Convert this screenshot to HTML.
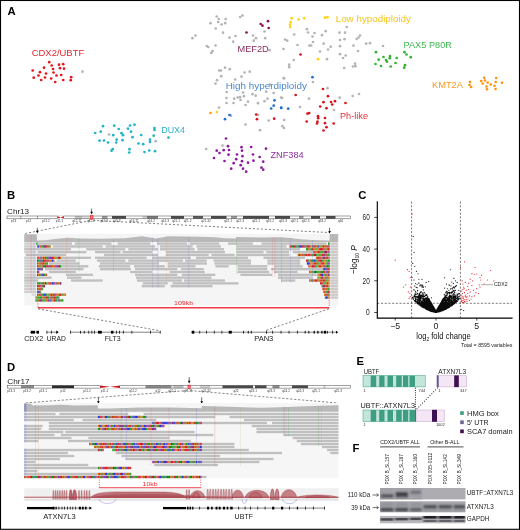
<!DOCTYPE html>
<html><head><meta charset="utf-8"><title>Figure</title>
<style>
html,body{margin:0;padding:0;background:#fff;}
svg{display:block;font-family:'Liberation Sans', sans-serif;}
</style></head><body>
<svg width="520" height="530" viewBox="0 0 520 530">
<rect x="0" y="0" width="520" height="530" fill="#fff"/>
<g opacity="0.999">
<text x="7.50" y="15.25" font-size="11.3" fill="#000" text-anchor="start" font-weight="bold" >A</text>
<g fill="#e8141c"><circle cx="49.2" cy="62.2" r="1.35"/><circle cx="51.7" cy="65.5" r="1.35"/><circle cx="59.0" cy="64.7" r="1.35"/><circle cx="63.2" cy="64.2" r="1.35"/><circle cx="44.0" cy="67.7" r="1.35"/><circle cx="53.0" cy="69.0" r="1.35"/><circle cx="60.0" cy="68.2" r="1.35"/><circle cx="64.0" cy="68.7" r="1.35"/><circle cx="32.7" cy="70.5" r="1.35"/><circle cx="40.0" cy="72.2" r="1.35"/><circle cx="53.5" cy="72.5" r="1.35"/><circle cx="46.0" cy="73.5" r="1.35"/><circle cx="38.5" cy="75.5" r="1.35"/><circle cx="56.5" cy="75.5" r="1.35"/><circle cx="61.2" cy="75.0" r="1.35"/><circle cx="33.7" cy="77.7" r="1.35"/><circle cx="45.0" cy="77.5" r="1.35"/><circle cx="51.2" cy="78.5" r="1.35"/><circle cx="71.2" cy="77.2" r="1.35"/><circle cx="41.2" cy="80.0" r="1.35"/><circle cx="63.2" cy="80.0" r="1.35"/><circle cx="70.7" cy="80.2" r="1.35"/><circle cx="55.2" cy="82.0" r="1.35"/></g>
<g fill="#1db3c8"><circle cx="103.0" cy="126.2" r="1.35"/><circle cx="114.2" cy="125.7" r="1.35"/><circle cx="130.0" cy="125.5" r="1.35"/><circle cx="134.5" cy="124.7" r="1.35"/><circle cx="118.7" cy="129.0" r="1.35"/><circle cx="128.0" cy="128.7" r="1.35"/><circle cx="154.5" cy="128.0" r="1.35"/><circle cx="154.5" cy="130.0" r="1.35"/><circle cx="95.2" cy="133.0" r="1.35"/><circle cx="100.7" cy="131.7" r="1.35"/><circle cx="131.0" cy="131.7" r="1.35"/><circle cx="121.5" cy="133.2" r="1.35"/><circle cx="113.2" cy="135.2" r="1.35"/><circle cx="123.0" cy="135.2" r="1.35"/><circle cx="141.2" cy="135.0" r="1.35"/><circle cx="153.7" cy="135.7" r="1.35"/><circle cx="132.5" cy="137.2" r="1.35"/><circle cx="168.5" cy="137.5" r="1.35"/><circle cx="99.5" cy="140.7" r="1.35"/><circle cx="104.0" cy="140.5" r="1.35"/><circle cx="116.7" cy="139.7" r="1.35"/><circle cx="122.5" cy="140.2" r="1.35"/><circle cx="150.0" cy="139.7" r="1.35"/><circle cx="108.0" cy="142.5" r="1.35"/><circle cx="116.2" cy="142.5" r="1.35"/><circle cx="150.0" cy="142.0" r="1.35"/><circle cx="138.5" cy="143.5" r="1.35"/><circle cx="143.2" cy="144.2" r="1.35"/><circle cx="112.7" cy="149.2" r="1.35"/><circle cx="111.5" cy="150.7" r="1.35"/><circle cx="129.5" cy="149.2" r="1.35"/><circle cx="129.2" cy="152.5" r="1.35"/><circle cx="144.5" cy="152.0" r="1.35"/><circle cx="149.2" cy="150.5" r="1.35"/><circle cx="155.0" cy="151.2" r="1.35"/></g>
<g fill="#b4b4b4"><circle cx="82.5" cy="71.7" r="1.35"/><circle cx="109.0" cy="134.5" r="1.35"/><circle cx="155.7" cy="141.2" r="1.35"/><circle cx="216.7" cy="16.5" r="1.35"/><circle cx="218.7" cy="19.0" r="1.35"/><circle cx="225.7" cy="19.0" r="1.35"/><circle cx="240.2" cy="17.0" r="1.35"/><circle cx="242.5" cy="15.5" r="1.35"/><circle cx="210.5" cy="23.2" r="1.35"/><circle cx="218.2" cy="22.0" r="1.35"/><circle cx="221.5" cy="24.5" r="1.35"/><circle cx="225.2" cy="23.2" r="1.35"/><circle cx="215.7" cy="28.5" r="1.35"/><circle cx="223.0" cy="32.7" r="1.35"/><circle cx="195.5" cy="35.5" r="1.35"/><circle cx="192.5" cy="38.2" r="1.35"/><circle cx="229.5" cy="37.7" r="1.35"/><circle cx="235.5" cy="36.0" r="1.35"/><circle cx="253.0" cy="35.5" r="1.35"/><circle cx="264.5" cy="31.5" r="1.35"/><circle cx="256.0" cy="38.2" r="1.35"/><circle cx="265.2" cy="38.2" r="1.35"/><circle cx="253.7" cy="40.7" r="1.35"/><circle cx="233.2" cy="41.7" r="1.35"/><circle cx="206.7" cy="46.0" r="1.35"/><circle cx="208.2" cy="47.0" r="1.35"/><circle cx="215.5" cy="45.5" r="1.35"/><circle cx="212.5" cy="51.2" r="1.35"/><circle cx="211.2" cy="53.0" r="1.35"/><circle cx="269.5" cy="50.2" r="1.35"/><circle cx="283.5" cy="49.0" r="1.35"/><circle cx="285.0" cy="39.5" r="1.35"/><circle cx="287.2" cy="40.7" r="1.35"/><circle cx="294.2" cy="34.5" r="1.35"/><circle cx="307.0" cy="29.2" r="1.35"/><circle cx="308.0" cy="32.5" r="1.35"/><circle cx="297.5" cy="45.0" r="1.35"/><circle cx="293.7" cy="60.0" r="1.35"/><circle cx="289.2" cy="64.7" r="1.35"/><circle cx="289.2" cy="67.2" r="1.35"/><circle cx="225.0" cy="67.7" r="1.35"/><circle cx="219.2" cy="70.5" r="1.35"/><circle cx="221.0" cy="70.5" r="1.35"/><circle cx="229.7" cy="69.2" r="1.35"/><circle cx="244.5" cy="72.5" r="1.35"/><circle cx="249.7" cy="71.7" r="1.35"/><circle cx="221.2" cy="76.2" r="1.35"/><circle cx="241.5" cy="76.7" r="1.35"/><circle cx="217.0" cy="80.2" r="1.35"/><circle cx="215.5" cy="83.5" r="1.35"/><circle cx="235.2" cy="79.5" r="1.35"/><circle cx="284.0" cy="78.2" r="1.35"/><circle cx="270.0" cy="84.5" r="1.35"/><circle cx="226.7" cy="92.0" r="1.35"/><circle cx="243.0" cy="92.5" r="1.35"/><circle cx="252.5" cy="94.2" r="1.35"/><circle cx="266.2" cy="91.7" r="1.35"/><circle cx="273.7" cy="93.0" r="1.35"/><circle cx="244.0" cy="96.2" r="1.35"/><circle cx="255.7" cy="95.7" r="1.35"/><circle cx="226.5" cy="98.0" r="1.35"/><circle cx="237.7" cy="97.5" r="1.35"/><circle cx="281.2" cy="97.5" r="1.35"/><circle cx="267.5" cy="98.7" r="1.35"/><circle cx="314.5" cy="33.0" r="1.35"/><circle cx="312.5" cy="36.5" r="1.35"/><circle cx="322.0" cy="35.2" r="1.35"/><circle cx="325.7" cy="31.2" r="1.35"/><circle cx="339.5" cy="32.7" r="1.35"/><circle cx="345.0" cy="32.7" r="1.35"/><circle cx="346.7" cy="27.0" r="1.35"/><circle cx="340.0" cy="40.0" r="1.35"/><circle cx="344.5" cy="39.2" r="1.35"/><circle cx="360.0" cy="35.5" r="1.35"/><circle cx="358.5" cy="37.5" r="1.35"/><circle cx="356.7" cy="39.0" r="1.35"/><circle cx="313.0" cy="42.0" r="1.35"/><circle cx="323.7" cy="43.7" r="1.35"/><circle cx="309.5" cy="45.7" r="1.35"/><circle cx="311.2" cy="45.5" r="1.35"/><circle cx="330.7" cy="46.7" r="1.35"/><circle cx="328.0" cy="49.5" r="1.35"/><circle cx="320.0" cy="51.5" r="1.35"/><circle cx="340.0" cy="46.2" r="1.35"/><circle cx="353.5" cy="45.7" r="1.35"/><circle cx="366.2" cy="43.7" r="1.35"/><circle cx="370.0" cy="43.2" r="1.35"/><circle cx="383.0" cy="46.0" r="1.35"/><circle cx="358.0" cy="51.0" r="1.35"/><circle cx="340.0" cy="54.2" r="1.35"/><circle cx="345.7" cy="55.5" r="1.35"/><circle cx="343.0" cy="58.0" r="1.35"/><circle cx="327.0" cy="59.2" r="1.35"/><circle cx="355.0" cy="63.7" r="1.35"/><circle cx="355.5" cy="66.2" r="1.35"/><circle cx="353.0" cy="66.5" r="1.35"/><circle cx="344.2" cy="68.0" r="1.35"/><circle cx="313.0" cy="82.0" r="1.35"/><circle cx="327.5" cy="88.2" r="1.35"/><circle cx="359.0" cy="94.0" r="1.35"/><circle cx="352.7" cy="96.0" r="1.35"/><circle cx="339.7" cy="97.7" r="1.35"/><circle cx="309.0" cy="98.7" r="1.35"/><circle cx="234.2" cy="98.7" r="1.35"/><circle cx="240.0" cy="97.2" r="1.35"/><circle cx="240.5" cy="100.0" r="1.35"/><circle cx="248.0" cy="101.7" r="1.35"/><circle cx="264.5" cy="101.2" r="1.35"/><circle cx="226.5" cy="103.0" r="1.35"/><circle cx="233.5" cy="103.0" r="1.35"/><circle cx="245.5" cy="105.0" r="1.35"/><circle cx="258.0" cy="103.2" r="1.35"/><circle cx="219.0" cy="107.5" r="1.35"/><circle cx="300.0" cy="107.0" r="1.35"/><circle cx="231.0" cy="115.7" r="1.35"/><circle cx="258.0" cy="115.0" r="1.35"/><circle cx="245.5" cy="124.5" r="1.35"/><circle cx="268.7" cy="120.5" r="1.35"/><circle cx="284.2" cy="120.0" r="1.35"/><circle cx="282.5" cy="126.2" r="1.35"/><circle cx="284.0" cy="128.0" r="1.35"/><circle cx="260.0" cy="130.2" r="1.35"/><circle cx="206.2" cy="149.0" r="1.35"/><circle cx="222.5" cy="145.5" r="1.35"/><circle cx="283.7" cy="78.2" r="1.35"/><circle cx="282.0" cy="98.0" r="1.35"/><circle cx="334.0" cy="110.0" r="1.35"/></g>
<g fill="#8a1458"><circle cx="268.0" cy="21.2" r="1.35"/><circle cx="260.7" cy="24.0" r="1.35"/><circle cx="262.5" cy="25.7" r="1.35"/><circle cx="268.7" cy="28.0" r="1.35"/><circle cx="246.5" cy="32.5" r="1.35"/></g>
<g fill="#ffd20a"><circle cx="291.7" cy="18.2" r="1.35"/><circle cx="298.7" cy="19.5" r="1.35"/><circle cx="304.2" cy="18.2" r="1.35"/><circle cx="290.7" cy="22.0" r="1.35"/><circle cx="290.0" cy="24.5" r="1.35"/><circle cx="290.2" cy="27.0" r="1.35"/><circle cx="325.0" cy="17.7" r="1.35"/><circle cx="327.5" cy="17.2" r="1.35"/><circle cx="318.0" cy="59.2" r="1.35"/><circle cx="217.0" cy="112.0" r="1.35"/></g>
<g fill="#ff9a0a"><circle cx="210.5" cy="113.0" r="1.35"/></g>
<g fill="#2fb32f"><circle cx="376.0" cy="52.2" r="1.35"/><circle cx="404.5" cy="52.2" r="1.35"/><circle cx="406.5" cy="54.5" r="1.35"/><circle cx="383.5" cy="57.0" r="1.35"/><circle cx="390.0" cy="56.0" r="1.35"/><circle cx="389.7" cy="58.2" r="1.35"/><circle cx="396.7" cy="58.0" r="1.35"/><circle cx="410.7" cy="57.2" r="1.35"/><circle cx="378.7" cy="59.7" r="1.35"/><circle cx="386.0" cy="60.0" r="1.35"/><circle cx="387.0" cy="61.7" r="1.35"/><circle cx="375.5" cy="64.0" r="1.35"/><circle cx="395.5" cy="63.0" r="1.35"/><circle cx="381.0" cy="66.0" r="1.35"/><circle cx="390.7" cy="66.5" r="1.35"/><circle cx="405.0" cy="65.2" r="1.35"/><circle cx="404.2" cy="67.7" r="1.35"/></g>
<g fill="#ff920a"><circle cx="470.0" cy="82.0" r="1.3"/><circle cx="469.5" cy="85.0" r="1.3"/><circle cx="471.2" cy="87.0" r="1.3"/><circle cx="484.2" cy="77.7" r="1.3"/><circle cx="481.2" cy="81.0" r="1.3"/><circle cx="485.0" cy="80.5" r="1.3"/><circle cx="482.7" cy="83.5" r="1.3"/><circle cx="487.7" cy="82.5" r="1.3"/><circle cx="486.5" cy="86.5" r="1.3"/><circle cx="487.0" cy="89.2" r="1.3"/><circle cx="490.7" cy="84.5" r="1.3"/><circle cx="496.2" cy="78.0" r="1.3"/><circle cx="495.7" cy="82.0" r="1.3"/><circle cx="494.5" cy="85.7" r="1.3"/><circle cx="495.5" cy="89.0" r="1.3"/><circle cx="502.0" cy="82.7" r="1.3"/></g>
<g fill="#1c6fd2"><circle cx="274.5" cy="100.3" r="1.35"/><circle cx="273.7" cy="105.7" r="1.35"/><circle cx="271.2" cy="108.5" r="1.35"/><circle cx="281.2" cy="107.7" r="1.35"/><circle cx="288.2" cy="108.7" r="1.35"/><circle cx="229.5" cy="115.0" r="1.35"/><circle cx="225.0" cy="119.2" r="1.35"/><circle cx="312.5" cy="77.2" r="1.35"/><circle cx="281.2" cy="108.0" r="1.35"/></g>
<g fill="#d8141c"><circle cx="300.5" cy="54.5" r="1.35"/><circle cx="295.7" cy="95.0" r="1.35"/><circle cx="256.2" cy="114.5" r="1.35"/><circle cx="257.0" cy="119.2" r="1.35"/><circle cx="274.2" cy="118.7" r="1.35"/><circle cx="307.5" cy="113.7" r="1.35"/><circle cx="309.2" cy="113.0" r="1.35"/><circle cx="306.7" cy="121.5" r="1.35"/><circle cx="323.0" cy="89.0" r="1.35"/><circle cx="328.0" cy="96.2" r="1.35"/><circle cx="323.5" cy="102.2" r="1.35"/><circle cx="331.0" cy="102.0" r="1.35"/><circle cx="335.0" cy="101.2" r="1.35"/><circle cx="332.2" cy="104.5" r="1.35"/><circle cx="345.5" cy="103.0" r="1.35"/><circle cx="320.2" cy="106.5" r="1.35"/><circle cx="326.5" cy="108.2" r="1.35"/><circle cx="318.0" cy="116.2" r="1.35"/><circle cx="318.2" cy="118.2" r="1.35"/><circle cx="325.0" cy="118.0" r="1.35"/><circle cx="317.5" cy="121.7" r="1.35"/><circle cx="317.0" cy="123.5" r="1.35"/><circle cx="325.0" cy="123.2" r="1.35"/><circle cx="333.7" cy="123.5" r="1.35"/><circle cx="326.5" cy="127.2" r="1.35"/><circle cx="323.5" cy="130.5" r="1.35"/></g>
<g fill="#8c1a9c"><circle cx="226.0" cy="138.5" r="1.35"/><circle cx="228.0" cy="146.2" r="1.35"/><circle cx="229.0" cy="150.0" r="1.35"/><circle cx="223.7" cy="150.2" r="1.35"/><circle cx="216.7" cy="150.7" r="1.35"/><circle cx="219.5" cy="153.0" r="1.35"/><circle cx="228.5" cy="154.7" r="1.35"/><circle cx="214.0" cy="158.0" r="1.35"/><circle cx="224.5" cy="161.0" r="1.35"/><circle cx="241.5" cy="147.2" r="1.35"/><circle cx="242.0" cy="150.7" r="1.35"/><circle cx="251.2" cy="147.0" r="1.35"/><circle cx="266.0" cy="148.7" r="1.35"/><circle cx="237.0" cy="154.5" r="1.35"/><circle cx="242.5" cy="156.2" r="1.35"/><circle cx="253.0" cy="154.5" r="1.35"/><circle cx="259.7" cy="157.0" r="1.35"/><circle cx="236.2" cy="159.2" r="1.35"/><circle cx="242.0" cy="161.2" r="1.35"/><circle cx="253.5" cy="160.7" r="1.35"/><circle cx="263.2" cy="161.7" r="1.35"/><circle cx="233.7" cy="163.2" r="1.35"/><circle cx="248.0" cy="162.7" r="1.35"/><circle cx="240.7" cy="165.2" r="1.35"/><circle cx="231.2" cy="168.7" r="1.35"/><circle cx="243.0" cy="168.7" r="1.35"/><circle cx="246.2" cy="171.7" r="1.35"/><circle cx="261.5" cy="167.7" r="1.35"/><circle cx="263.2" cy="169.7" r="1.35"/></g>
<text x="31.70" y="55.50" font-size="9.3" fill="#e8242c" text-anchor="start" textLength="52.50" lengthAdjust="spacingAndGlyphs" >CDX2/UBTF</text>
<text x="161.20" y="132.60" font-size="9.3" fill="#2ab2c6" text-anchor="start" textLength="23.80" lengthAdjust="spacingAndGlyphs" >DUX4</text>
<text x="237.50" y="51.80" font-size="9.3" fill="#8a2a5c" text-anchor="start" textLength="31.20" lengthAdjust="spacingAndGlyphs" >MEF2D</text>
<text x="225.70" y="89.30" font-size="9.3" fill="#4a88cc" text-anchor="start" textLength="81.30" lengthAdjust="spacingAndGlyphs" >High hyperdiploidy</text>
<text x="335.70" y="22.00" font-size="9.3" fill="#f6c61a" text-anchor="start" textLength="75.30" lengthAdjust="spacingAndGlyphs" >Low hypodiploidy</text>
<text x="403.50" y="47.60" font-size="9.3" fill="#3eb54e" text-anchor="start" textLength="48.50" lengthAdjust="spacingAndGlyphs" >PAX5 P80R</text>
<text x="432.00" y="88.00" font-size="9.3" fill="#f7961e" text-anchor="start" textLength="31.00" lengthAdjust="spacingAndGlyphs" >KMT2A</text>
<text x="340.00" y="118.80" font-size="9.3" fill="#e0343c" text-anchor="start" textLength="28.00" lengthAdjust="spacingAndGlyphs" >Ph-like</text>
<text x="270.50" y="157.60" font-size="9.3" fill="#8e2ca0" text-anchor="start" textLength="33.20" lengthAdjust="spacingAndGlyphs" >ZNF384</text>
<text x="7.00" y="199.35" font-size="11.3" fill="#000" text-anchor="start" font-weight="bold" >B</text>
<text x="7.10" y="214.20" font-size="7.7" fill="#222" text-anchor="start" textLength="22.00" lengthAdjust="spacingAndGlyphs" >Chr13</text>
<rect x="7" y="216.0" width="343.5" height="2.8" fill="#fff"/>
<rect x="75" y="216.0" width="7.00" height="2.8" fill="#c4c4c4"/>
<rect x="82" y="216.0" width="8.00" height="2.8" fill="#e2e2e2"/>
<rect x="102" y="216.0" width="5.50" height="2.8" fill="#9a9a9a"/>
<rect x="112" y="216.0" width="14.00" height="2.8" fill="#4a4a4a"/>
<rect x="142.5" y="216.0" width="4.50" height="2.8" fill="#cfcfcf"/>
<rect x="147" y="216.0" width="11.00" height="2.8" fill="#7c7c7c"/>
<rect x="171" y="216.0" width="13.00" height="2.8" fill="#4a4a4a"/>
<rect x="193" y="216.0" width="10.00" height="2.8" fill="#5a5a5a"/>
<rect x="211" y="216.0" width="15.50" height="2.8" fill="#4a4a4a"/>
<rect x="231" y="216.0" width="6.00" height="2.8" fill="#9a9a9a"/>
<rect x="243" y="216.0" width="26.00" height="2.8" fill="#4a4a4a"/>
<rect x="275" y="216.0" width="15.00" height="2.8" fill="#4a4a4a"/>
<rect x="299" y="216.0" width="4.50" height="2.8" fill="#9a9a9a"/>
<rect x="311" y="216.0" width="9.00" height="2.8" fill="#4a4a4a"/>
<rect x="326" y="216.0" width="9.50" height="2.8" fill="#4a4a4a"/>
<rect x="7" y="216.0" width="343.5" height="2.8" fill="none" stroke="#444" stroke-width="0.5"/>
<rect x="57.099999999999994" y="215.5" width="7.0" height="3.8" fill="#fff"/>
<path d="M57.3,216.0 L60.6,217.4 L57.3,218.8 Z M63.9,216.0 L60.6,217.4 L63.9,218.8 Z" fill="#c8141c"/>
<rect x="90.4" y="215.7" width="2.5999999999999943" height="3.4" fill="#ff7a7a" stroke="#e01020" stroke-width="0.6"/>
<path d="M20.8,216 v2.8 M37.5,216 v2.8" stroke="#444" stroke-width="0.5"/>
<g font-size="3.1" fill="#3a3a3a" text-anchor="middle"><text x="13.6" y="222.3">p13</text><text x="28.6" y="222.3">p12</text><text x="46.1" y="222.3">p11.2</text><text x="59.5" y="222.3">p11.1</text><text x="77" y="222.3">q12.11</text><text x="91" y="222.3">q12.2</text><text x="104" y="222.3">q12.3</text><text x="116.5" y="222.3">q13.3</text><text x="134" y="222.3">q14.11</text><text x="151" y="222.3">q14.2</text><text x="165" y="222.3">q14.3</text><text x="176" y="222.3">q21.1</text><text x="187.5" y="222.3">q21.2</text><text x="206" y="222.3">q21.32</text><text x="228" y="222.3">q22.1</text><text x="240" y="222.3">q22.3</text><text x="256" y="222.3">q31.1</text><text x="270" y="222.3">q31.2</text><text x="283" y="222.3">q31.3</text><text x="294.5" y="222.3">q32.1</text><text x="305.5" y="222.3">q32.3</text><text x="322" y="222.3">q33.2</text><text x="340.5" y="222.3">q34</text></g>
<path d="M91.6,208.6 L91.6,213.20000000000002" stroke="#000" stroke-width="0.6" fill="none"/>
<path d="M90.3,211.8 L91.6,214.4 L92.89999999999999,211.8 Z" fill="#000"/>
<path d="M90,220.6 L25,233.6 M93,220.4 L330,232.6" stroke="#333" stroke-width="0.6" stroke-dasharray="2.2,1.8" fill="none"/>
<path d="M37.3,227.8 L37.3,232.20000000000002" stroke="#000" stroke-width="0.6" fill="none"/>
<path d="M36.0,230.8 L37.3,233.4 L38.599999999999994,230.8 Z" fill="#000"/>
<path d="M329.6,227.8 L329.6,232.4" stroke="#000" stroke-width="0.6" fill="none"/>
<path d="M328.3,231.0 L329.6,233.6 L330.90000000000003,231.0 Z" fill="#000"/>
<rect x="24.2" y="233.8" width="314" height="71.6" fill="#f5f5f5"/>
<path d="M24.2,242.0 L24.2,234.2 L36.9,234.2 L37,240.6 L45,240.2 L55,239 L68,237.7 L80,238.5 L100,238.8 L125,238.3 L142,236.3 L150,237.5 L156,238.6 L162,237.5 L168,236.3 L200,236.8 L215,237.2 L225,238.2 L236.3,238.6 L236.6,236.9 L262,237.5 L272,237.2 L281,237.2 L290,238.0 L300,239.3 L312,240 L329.5,240.6 L329.7,234 L338.2,234 L338.2,242.0 Z" fill="#b9b9b9"/>
<rect x="37.7" y="242.42" width="34.3" height="2.35" fill="#c0c0c0"/><rect x="74.8" y="242.42" width="36.7" height="2.35" fill="#c0c0c0"/><rect x="117.7" y="242.42" width="32.7" height="2.35" fill="#c0c0c0"/><rect x="157.0" y="242.42" width="30.0" height="2.35" fill="#c0c0c0"/><rect x="189.8" y="242.42" width="29.4" height="2.35" fill="#c0c0c0"/><rect x="227.9" y="242.42" width="25.0" height="2.35" fill="#c0c0c0"/><rect x="261.5" y="242.42" width="65.0" height="2.35" fill="#c0c0c0"/><rect x="24.2" y="242.42" width="12.1" height="2.35" fill="#cfcfcf"/><rect x="330.2" y="242.42" width="8" height="2.35" fill="#cdcdcd"/><rect x="36.30" y="242.42" width="1.20" height="2.35" fill="#1e9a1e"/><rect x="37.45" y="242.42" width="0.30" height="2.35" fill="#1e9a1e"/><rect x="328.00" y="242.42" width="1.20" height="2.35" fill="#1e9a1e"/><rect x="329.15" y="242.42" width="0.60" height="2.35" fill="#1e9a1e"/><rect x="52.7" y="245.26" width="50.0" height="2.35" fill="#c0c0c0"/><rect x="105.6" y="245.26" width="49.6" height="2.35" fill="#c0c0c0"/><rect x="160.0" y="245.26" width="32.7" height="2.35" fill="#c0c0c0"/><rect x="196.5" y="245.26" width="24.5" height="2.35" fill="#c0c0c0"/><rect x="236.5" y="245.26" width="50.0" height="2.35" fill="#c0c0c0"/><rect x="24.2" y="245.26" width="12.1" height="2.35" fill="#cfcfcf"/><rect x="330.2" y="245.26" width="8" height="2.35" fill="#cdcdcd"/><rect x="37.00" y="245.26" width="1.20" height="2.35" fill="#1e9a1e"/><rect x="38.15" y="245.26" width="1.20" height="2.35" fill="#2a32d8"/><rect x="39.30" y="245.26" width="1.20" height="2.35" fill="#cf7210"/><rect x="40.45" y="245.26" width="1.20" height="2.35" fill="#d82020"/><rect x="41.60" y="245.26" width="1.20" height="2.35" fill="#1e9a1e"/><rect x="42.75" y="245.26" width="1.20" height="2.35" fill="#1e9a1e"/><rect x="43.90" y="245.26" width="1.20" height="2.35" fill="#8c2870"/><rect x="45.05" y="245.26" width="1.20" height="2.35" fill="#2a32d8"/><rect x="46.20" y="245.26" width="1.20" height="2.35" fill="#d82020"/><rect x="47.35" y="245.26" width="1.20" height="2.35" fill="#d82020"/><rect x="48.50" y="245.26" width="1.20" height="2.35" fill="#1e9a1e"/><rect x="49.65" y="245.26" width="1.20" height="2.35" fill="#cf7210"/><rect x="289.50" y="245.26" width="1.20" height="2.35" fill="#d82020"/><rect x="290.65" y="245.26" width="1.20" height="2.35" fill="#d82020"/><rect x="291.80" y="245.26" width="1.20" height="2.35" fill="#1e9a1e"/><rect x="292.95" y="245.26" width="1.20" height="2.35" fill="#8c2870"/><rect x="294.10" y="245.26" width="1.20" height="2.35" fill="#d82020"/><rect x="295.25" y="245.26" width="1.20" height="2.35" fill="#2a32d8"/><rect x="296.40" y="245.26" width="1.20" height="2.35" fill="#1e9a1e"/><rect x="297.55" y="245.26" width="1.20" height="2.35" fill="#1e9a1e"/><rect x="298.70" y="245.26" width="1.20" height="2.35" fill="#8c2870"/><rect x="299.85" y="245.26" width="1.20" height="2.35" fill="#2a32d8"/><rect x="301.00" y="245.26" width="1.20" height="2.35" fill="#8c2870"/><rect x="302.15" y="245.26" width="1.20" height="2.35" fill="#d82020"/><rect x="303.30" y="245.26" width="1.20" height="2.35" fill="#2a32d8"/><rect x="304.45" y="245.26" width="1.20" height="2.35" fill="#d82020"/><rect x="305.60" y="245.26" width="1.20" height="2.35" fill="#1e9a1e"/><rect x="306.75" y="245.26" width="1.20" height="2.35" fill="#d82020"/><rect x="307.90" y="245.26" width="1.20" height="2.35" fill="#d82020"/><rect x="309.05" y="245.26" width="1.20" height="2.35" fill="#d82020"/><rect x="310.20" y="245.26" width="1.20" height="2.35" fill="#cf7210"/><rect x="311.35" y="245.26" width="1.20" height="2.35" fill="#cf7210"/><rect x="312.50" y="245.26" width="1.20" height="2.35" fill="#2a32d8"/><rect x="313.65" y="245.26" width="1.20" height="2.35" fill="#d82020"/><rect x="314.80" y="245.26" width="1.20" height="2.35" fill="#1e9a1e"/><rect x="315.95" y="245.26" width="1.20" height="2.35" fill="#cf7210"/><rect x="317.10" y="245.26" width="1.20" height="2.35" fill="#1e9a1e"/><rect x="318.25" y="245.26" width="1.20" height="2.35" fill="#2a32d8"/><rect x="319.40" y="245.26" width="1.20" height="2.35" fill="#cf7210"/><rect x="320.55" y="245.26" width="1.20" height="2.35" fill="#1e9a1e"/><rect x="321.70" y="245.26" width="1.20" height="2.35" fill="#cf7210"/><rect x="322.85" y="245.26" width="1.20" height="2.35" fill="#8c2870"/><rect x="324.00" y="245.26" width="1.20" height="2.35" fill="#cf7210"/><rect x="325.15" y="245.26" width="1.20" height="2.35" fill="#1e9a1e"/><rect x="326.30" y="245.26" width="1.20" height="2.35" fill="#d82020"/><rect x="327.45" y="245.26" width="1.20" height="2.35" fill="#8c2870"/><rect x="328.60" y="245.26" width="1.15" height="2.35" fill="#d82020"/><rect x="24.2" y="248.10" width="46.8" height="2.35" fill="#c0c0c0"/><rect x="86.3" y="248.10" width="39.1" height="2.35" fill="#c0c0c0"/><rect x="128.3" y="248.10" width="29.7" height="2.35" fill="#c0c0c0"/><rect x="160.0" y="248.10" width="34.6" height="2.35" fill="#c0c0c0"/><rect x="197.5" y="248.10" width="26.5" height="2.35" fill="#c0c0c0"/><rect x="236.5" y="248.10" width="63.5" height="2.35" fill="#c0c0c0"/><rect x="330.2" y="248.10" width="8" height="2.35" fill="#cdcdcd"/><rect x="306.00" y="248.10" width="1.20" height="2.35" fill="#1e9a1e"/><rect x="307.15" y="248.10" width="1.20" height="2.35" fill="#8c2870"/><rect x="308.30" y="248.10" width="1.20" height="2.35" fill="#cf7210"/><rect x="309.45" y="248.10" width="1.20" height="2.35" fill="#1e9a1e"/><rect x="310.60" y="248.10" width="1.20" height="2.35" fill="#1e9a1e"/><rect x="311.75" y="248.10" width="1.20" height="2.35" fill="#d82020"/><rect x="312.90" y="248.10" width="1.20" height="2.35" fill="#cf7210"/><rect x="314.05" y="248.10" width="1.20" height="2.35" fill="#cf7210"/><rect x="315.20" y="248.10" width="1.20" height="2.35" fill="#cf7210"/><rect x="316.35" y="248.10" width="1.20" height="2.35" fill="#1e9a1e"/><rect x="317.50" y="248.10" width="1.20" height="2.35" fill="#cf7210"/><rect x="318.65" y="248.10" width="1.20" height="2.35" fill="#d82020"/><rect x="319.80" y="248.10" width="1.20" height="2.35" fill="#d82020"/><rect x="320.95" y="248.10" width="1.20" height="2.35" fill="#2a32d8"/><rect x="322.10" y="248.10" width="1.20" height="2.35" fill="#d82020"/><rect x="323.25" y="248.10" width="1.20" height="2.35" fill="#1e9a1e"/><rect x="324.40" y="248.10" width="1.20" height="2.35" fill="#d82020"/><rect x="325.55" y="248.10" width="1.20" height="2.35" fill="#cf7210"/><rect x="326.70" y="248.10" width="1.20" height="2.35" fill="#1e9a1e"/><rect x="327.85" y="248.10" width="1.20" height="2.35" fill="#d82020"/><rect x="329.00" y="248.10" width="0.75" height="2.35" fill="#d82020"/><rect x="37.7" y="250.94" width="48.6" height="2.35" fill="#c0c0c0"/><rect x="95.0" y="250.94" width="25.6" height="2.35" fill="#c0c0c0"/><rect x="122.5" y="250.94" width="29.8" height="2.35" fill="#c0c0c0"/><rect x="165.8" y="250.94" width="59.2" height="2.35" fill="#c0c0c0"/><rect x="236.5" y="250.94" width="27.0" height="2.35" fill="#c0c0c0"/><rect x="266.3" y="250.94" width="22.7" height="2.35" fill="#c0c0c0"/><rect x="292.8" y="250.94" width="19.7" height="2.35" fill="#c0c0c0"/><rect x="24.2" y="250.94" width="12.1" height="2.35" fill="#cfcfcf"/><rect x="330.2" y="250.94" width="8" height="2.35" fill="#cdcdcd"/><rect x="313.30" y="250.94" width="1.20" height="2.35" fill="#8c2870"/><rect x="314.45" y="250.94" width="1.20" height="2.35" fill="#d82020"/><rect x="315.60" y="250.94" width="1.20" height="2.35" fill="#cf7210"/><rect x="316.75" y="250.94" width="1.20" height="2.35" fill="#cf7210"/><rect x="317.90" y="250.94" width="1.20" height="2.35" fill="#d82020"/><rect x="319.05" y="250.94" width="1.20" height="2.35" fill="#1e9a1e"/><rect x="320.20" y="250.94" width="1.20" height="2.35" fill="#1e9a1e"/><rect x="321.35" y="250.94" width="1.20" height="2.35" fill="#1e9a1e"/><rect x="322.50" y="250.94" width="1.20" height="2.35" fill="#1e9a1e"/><rect x="323.65" y="250.94" width="1.20" height="2.35" fill="#d82020"/><rect x="324.80" y="250.94" width="1.20" height="2.35" fill="#2a32d8"/><rect x="325.95" y="250.94" width="1.20" height="2.35" fill="#8c2870"/><rect x="327.10" y="250.94" width="1.20" height="2.35" fill="#cf7210"/><rect x="328.25" y="250.94" width="1.20" height="2.35" fill="#8c2870"/><rect x="329.40" y="250.94" width="0.35" height="2.35" fill="#cf7210"/><rect x="25.8" y="253.78" width="40.2" height="2.35" fill="#c0c0c0"/><rect x="104.0" y="253.78" width="54.0" height="2.35" fill="#c0c0c0"/><rect x="165.8" y="253.78" width="42.9" height="2.35" fill="#c0c0c0"/><rect x="211.5" y="253.78" width="23.1" height="2.35" fill="#c0c0c0"/><rect x="236.5" y="253.78" width="53.0" height="2.35" fill="#c0c0c0"/><rect x="330.2" y="253.78" width="8" height="2.35" fill="#cdcdcd"/><rect x="297.70" y="253.78" width="1.20" height="2.35" fill="#cf7210"/><rect x="298.85" y="253.78" width="1.20" height="2.35" fill="#d82020"/><rect x="300.00" y="253.78" width="1.20" height="2.35" fill="#cf7210"/><rect x="301.15" y="253.78" width="1.20" height="2.35" fill="#cf7210"/><rect x="302.30" y="253.78" width="1.20" height="2.35" fill="#d82020"/><rect x="303.45" y="253.78" width="1.20" height="2.35" fill="#1e9a1e"/><rect x="304.60" y="253.78" width="1.20" height="2.35" fill="#d82020"/><rect x="305.75" y="253.78" width="1.20" height="2.35" fill="#d82020"/><rect x="306.90" y="253.78" width="1.20" height="2.35" fill="#cf7210"/><rect x="308.05" y="253.78" width="1.20" height="2.35" fill="#d82020"/><rect x="309.20" y="253.78" width="1.20" height="2.35" fill="#d82020"/><rect x="310.35" y="253.78" width="1.20" height="2.35" fill="#d82020"/><rect x="311.50" y="253.78" width="1.20" height="2.35" fill="#1e9a1e"/><rect x="312.65" y="253.78" width="1.20" height="2.35" fill="#1e9a1e"/><rect x="313.80" y="253.78" width="1.20" height="2.35" fill="#d82020"/><rect x="314.95" y="253.78" width="1.20" height="2.35" fill="#8c2870"/><rect x="316.10" y="253.78" width="1.20" height="2.35" fill="#1e9a1e"/><rect x="317.25" y="253.78" width="1.20" height="2.35" fill="#cf7210"/><rect x="318.40" y="253.78" width="1.20" height="2.35" fill="#1e9a1e"/><rect x="319.55" y="253.78" width="1.20" height="2.35" fill="#1e9a1e"/><rect x="320.70" y="253.78" width="1.20" height="2.35" fill="#cf7210"/><rect x="321.85" y="253.78" width="1.20" height="2.35" fill="#d82020"/><rect x="323.00" y="253.78" width="1.20" height="2.35" fill="#1e9a1e"/><rect x="324.15" y="253.78" width="1.20" height="2.35" fill="#8c2870"/><rect x="325.30" y="253.78" width="1.20" height="2.35" fill="#1e9a1e"/><rect x="326.45" y="253.78" width="1.20" height="2.35" fill="#d82020"/><rect x="327.60" y="253.78" width="1.20" height="2.35" fill="#1e9a1e"/><rect x="328.75" y="253.78" width="1.00" height="2.35" fill="#1e9a1e"/><rect x="61.0" y="256.62" width="30.0" height="2.35" fill="#c0c0c0"/><rect x="95.0" y="256.62" width="51.5" height="2.35" fill="#c0c0c0"/><rect x="152.3" y="256.62" width="38.5" height="2.35" fill="#c0c0c0"/><rect x="196.0" y="256.62" width="52.0" height="2.35" fill="#c0c0c0"/><rect x="263.5" y="256.62" width="41.5" height="2.35" fill="#c0c0c0"/><rect x="24.2" y="256.62" width="12.1" height="2.35" fill="#cfcfcf"/><rect x="330.2" y="256.62" width="8" height="2.35" fill="#cdcdcd"/><rect x="37.00" y="256.62" width="1.20" height="2.35" fill="#cf7210"/><rect x="38.15" y="256.62" width="1.20" height="2.35" fill="#d82020"/><rect x="39.30" y="256.62" width="1.20" height="2.35" fill="#cf7210"/><rect x="40.45" y="256.62" width="1.20" height="2.35" fill="#2a32d8"/><rect x="41.60" y="256.62" width="1.20" height="2.35" fill="#cf7210"/><rect x="42.75" y="256.62" width="1.20" height="2.35" fill="#d82020"/><rect x="43.90" y="256.62" width="1.20" height="2.35" fill="#cf7210"/><rect x="45.05" y="256.62" width="1.20" height="2.35" fill="#d82020"/><rect x="46.20" y="256.62" width="1.20" height="2.35" fill="#1e9a1e"/><rect x="47.35" y="256.62" width="1.20" height="2.35" fill="#2a32d8"/><rect x="48.50" y="256.62" width="1.20" height="2.35" fill="#8c2870"/><rect x="49.65" y="256.62" width="1.20" height="2.35" fill="#2a32d8"/><rect x="50.80" y="256.62" width="1.20" height="2.35" fill="#d82020"/><rect x="51.95" y="256.62" width="1.20" height="2.35" fill="#d82020"/><rect x="53.10" y="256.62" width="1.20" height="2.35" fill="#d82020"/><rect x="54.25" y="256.62" width="1.20" height="2.35" fill="#cf7210"/><rect x="55.40" y="256.62" width="1.20" height="2.35" fill="#1e9a1e"/><rect x="56.55" y="256.62" width="1.20" height="2.35" fill="#cf7210"/><rect x="57.70" y="256.62" width="1.20" height="2.35" fill="#d82020"/><rect x="58.85" y="256.62" width="1.20" height="2.35" fill="#2a32d8"/><rect x="60.00" y="256.62" width="1.05" height="2.35" fill="#cf7210"/><rect x="315.80" y="256.62" width="1.20" height="2.35" fill="#cf7210"/><rect x="316.95" y="256.62" width="1.20" height="2.35" fill="#1e9a1e"/><rect x="318.10" y="256.62" width="1.20" height="2.35" fill="#d82020"/><rect x="319.25" y="256.62" width="1.20" height="2.35" fill="#d82020"/><rect x="320.40" y="256.62" width="1.20" height="2.35" fill="#d82020"/><rect x="321.55" y="256.62" width="1.20" height="2.35" fill="#cf7210"/><rect x="322.70" y="256.62" width="1.20" height="2.35" fill="#2a32d8"/><rect x="323.85" y="256.62" width="1.20" height="2.35" fill="#8c2870"/><rect x="325.00" y="256.62" width="1.20" height="2.35" fill="#cf7210"/><rect x="326.15" y="256.62" width="1.20" height="2.35" fill="#d82020"/><rect x="327.30" y="256.62" width="1.20" height="2.35" fill="#2a32d8"/><rect x="328.45" y="256.62" width="1.20" height="2.35" fill="#cf7210"/><rect x="329.60" y="256.62" width="0.15" height="2.35" fill="#cf7210"/><rect x="56.5" y="259.46" width="19.3" height="2.35" fill="#c0c0c0"/><rect x="97.0" y="259.46" width="28.4" height="2.35" fill="#c0c0c0"/><rect x="128.3" y="259.46" width="54.7" height="2.35" fill="#c0c0c0"/><rect x="185.0" y="259.46" width="21.7" height="2.35" fill="#c0c0c0"/><rect x="213.5" y="259.46" width="37.5" height="2.35" fill="#c0c0c0"/><rect x="267.3" y="259.46" width="32.9" height="2.35" fill="#c0c0c0"/><rect x="24.2" y="259.46" width="12.1" height="2.35" fill="#cfcfcf"/><rect x="330.2" y="259.46" width="8" height="2.35" fill="#cdcdcd"/><rect x="37.00" y="259.46" width="1.20" height="2.35" fill="#2a32d8"/><rect x="38.15" y="259.46" width="1.20" height="2.35" fill="#1e9a1e"/><rect x="39.30" y="259.46" width="1.20" height="2.35" fill="#d82020"/><rect x="40.45" y="259.46" width="1.20" height="2.35" fill="#2a32d8"/><rect x="41.60" y="259.46" width="1.20" height="2.35" fill="#1e9a1e"/><rect x="42.75" y="259.46" width="1.20" height="2.35" fill="#2a32d8"/><rect x="43.90" y="259.46" width="1.20" height="2.35" fill="#d82020"/><rect x="45.05" y="259.46" width="1.20" height="2.35" fill="#1e9a1e"/><rect x="46.20" y="259.46" width="1.20" height="2.35" fill="#d82020"/><rect x="47.35" y="259.46" width="1.20" height="2.35" fill="#8c2870"/><rect x="48.50" y="259.46" width="1.20" height="2.35" fill="#d82020"/><rect x="49.65" y="259.46" width="1.20" height="2.35" fill="#cf7210"/><rect x="50.80" y="259.46" width="1.20" height="2.35" fill="#cf7210"/><rect x="51.95" y="259.46" width="1.20" height="2.35" fill="#2a32d8"/><rect x="53.10" y="259.46" width="1.20" height="2.35" fill="#cf7210"/><rect x="54.25" y="259.46" width="0.40" height="2.35" fill="#cf7210"/><rect x="306.00" y="259.46" width="1.20" height="2.35" fill="#d82020"/><rect x="307.15" y="259.46" width="1.20" height="2.35" fill="#8c2870"/><rect x="308.30" y="259.46" width="1.20" height="2.35" fill="#1e9a1e"/><rect x="309.45" y="259.46" width="1.20" height="2.35" fill="#cf7210"/><rect x="310.60" y="259.46" width="1.20" height="2.35" fill="#8c2870"/><rect x="311.75" y="259.46" width="1.20" height="2.35" fill="#1e9a1e"/><rect x="312.90" y="259.46" width="1.20" height="2.35" fill="#1e9a1e"/><rect x="314.05" y="259.46" width="1.20" height="2.35" fill="#2a32d8"/><rect x="315.20" y="259.46" width="1.20" height="2.35" fill="#d82020"/><rect x="316.35" y="259.46" width="1.20" height="2.35" fill="#1e9a1e"/><rect x="317.50" y="259.46" width="1.20" height="2.35" fill="#d82020"/><rect x="318.65" y="259.46" width="1.20" height="2.35" fill="#d82020"/><rect x="319.80" y="259.46" width="1.20" height="2.35" fill="#d82020"/><rect x="320.95" y="259.46" width="1.20" height="2.35" fill="#d82020"/><rect x="322.10" y="259.46" width="1.20" height="2.35" fill="#1e9a1e"/><rect x="323.25" y="259.46" width="1.20" height="2.35" fill="#cf7210"/><rect x="324.40" y="259.46" width="1.20" height="2.35" fill="#cf7210"/><rect x="325.55" y="259.46" width="1.20" height="2.35" fill="#1e9a1e"/><rect x="326.70" y="259.46" width="1.20" height="2.35" fill="#cf7210"/><rect x="327.85" y="259.46" width="1.20" height="2.35" fill="#1e9a1e"/><rect x="329.00" y="259.46" width="0.75" height="2.35" fill="#2a32d8"/><rect x="48.8" y="262.31" width="30.8" height="2.35" fill="#c0c0c0"/><rect x="100.0" y="262.31" width="59.0" height="2.35" fill="#c0c0c0"/><rect x="167.7" y="262.31" width="39.3" height="2.35" fill="#c0c0c0"/><rect x="214.4" y="262.31" width="36.6" height="2.35" fill="#c0c0c0"/><rect x="267.3" y="262.31" width="32.9" height="2.35" fill="#c0c0c0"/><rect x="24.2" y="262.31" width="12.1" height="2.35" fill="#cfcfcf"/><rect x="330.2" y="262.31" width="8" height="2.35" fill="#cdcdcd"/><rect x="37.00" y="262.31" width="1.20" height="2.35" fill="#1e9a1e"/><rect x="38.15" y="262.31" width="1.20" height="2.35" fill="#cf7210"/><rect x="39.30" y="262.31" width="1.20" height="2.35" fill="#1e9a1e"/><rect x="40.45" y="262.31" width="1.20" height="2.35" fill="#d82020"/><rect x="41.60" y="262.31" width="1.20" height="2.35" fill="#d82020"/><rect x="42.75" y="262.31" width="1.20" height="2.35" fill="#d82020"/><rect x="43.90" y="262.31" width="1.20" height="2.35" fill="#cf7210"/><rect x="45.05" y="262.31" width="1.20" height="2.35" fill="#1e9a1e"/><rect x="46.20" y="262.31" width="1.20" height="2.35" fill="#1e9a1e"/><rect x="47.35" y="262.31" width="0.60" height="2.35" fill="#8c2870"/><rect x="306.80" y="262.31" width="1.20" height="2.35" fill="#2a32d8"/><rect x="307.95" y="262.31" width="1.20" height="2.35" fill="#2a32d8"/><rect x="309.10" y="262.31" width="1.20" height="2.35" fill="#d82020"/><rect x="310.25" y="262.31" width="1.20" height="2.35" fill="#cf7210"/><rect x="311.40" y="262.31" width="1.20" height="2.35" fill="#cf7210"/><rect x="312.55" y="262.31" width="1.20" height="2.35" fill="#cf7210"/><rect x="313.70" y="262.31" width="1.20" height="2.35" fill="#d82020"/><rect x="314.85" y="262.31" width="1.20" height="2.35" fill="#d82020"/><rect x="316.00" y="262.31" width="1.20" height="2.35" fill="#cf7210"/><rect x="317.15" y="262.31" width="1.20" height="2.35" fill="#1e9a1e"/><rect x="318.30" y="262.31" width="1.20" height="2.35" fill="#1e9a1e"/><rect x="319.45" y="262.31" width="1.20" height="2.35" fill="#cf7210"/><rect x="320.60" y="262.31" width="1.20" height="2.35" fill="#d82020"/><rect x="321.75" y="262.31" width="1.20" height="2.35" fill="#d82020"/><rect x="322.90" y="262.31" width="1.20" height="2.35" fill="#d82020"/><rect x="324.05" y="262.31" width="1.20" height="2.35" fill="#cf7210"/><rect x="325.20" y="262.31" width="1.20" height="2.35" fill="#cf7210"/><rect x="326.35" y="262.31" width="1.20" height="2.35" fill="#1e9a1e"/><rect x="327.50" y="262.31" width="1.20" height="2.35" fill="#2a32d8"/><rect x="328.65" y="262.31" width="1.10" height="2.35" fill="#d82020"/><rect x="61.0" y="265.14" width="27.3" height="2.35" fill="#c0c0c0"/><rect x="98.8" y="265.14" width="31.4" height="2.35" fill="#c0c0c0"/><rect x="134.0" y="265.14" width="30.8" height="2.35" fill="#c0c0c0"/><rect x="167.7" y="265.14" width="27.9" height="2.35" fill="#c0c0c0"/><rect x="215.4" y="265.14" width="13.4" height="2.35" fill="#c0c0c0"/><rect x="237.5" y="265.14" width="29.8" height="2.35" fill="#c0c0c0"/><rect x="274.0" y="265.14" width="28.7" height="2.35" fill="#c0c0c0"/><rect x="24.2" y="265.14" width="12.1" height="2.35" fill="#cfcfcf"/><rect x="330.2" y="265.14" width="8" height="2.35" fill="#cdcdcd"/><rect x="37.00" y="265.14" width="1.20" height="2.35" fill="#d82020"/><rect x="38.15" y="265.14" width="1.20" height="2.35" fill="#cf7210"/><rect x="39.30" y="265.14" width="1.20" height="2.35" fill="#d82020"/><rect x="40.45" y="265.14" width="1.20" height="2.35" fill="#1e9a1e"/><rect x="41.60" y="265.14" width="1.20" height="2.35" fill="#cf7210"/><rect x="42.75" y="265.14" width="1.20" height="2.35" fill="#8c2870"/><rect x="43.90" y="265.14" width="1.20" height="2.35" fill="#1e9a1e"/><rect x="45.05" y="265.14" width="1.20" height="2.35" fill="#2a32d8"/><rect x="46.20" y="265.14" width="1.20" height="2.35" fill="#d82020"/><rect x="47.35" y="265.14" width="1.20" height="2.35" fill="#2a32d8"/><rect x="48.50" y="265.14" width="1.20" height="2.35" fill="#d82020"/><rect x="49.65" y="265.14" width="1.20" height="2.35" fill="#d82020"/><rect x="50.80" y="265.14" width="1.20" height="2.35" fill="#1e9a1e"/><rect x="51.95" y="265.14" width="1.20" height="2.35" fill="#cf7210"/><rect x="53.10" y="265.14" width="1.20" height="2.35" fill="#cf7210"/><rect x="54.25" y="265.14" width="1.20" height="2.35" fill="#d82020"/><rect x="55.40" y="265.14" width="1.20" height="2.35" fill="#d82020"/><rect x="56.55" y="265.14" width="1.20" height="2.35" fill="#2a32d8"/><rect x="57.70" y="265.14" width="1.20" height="2.35" fill="#8c2870"/><rect x="58.85" y="265.14" width="1.20" height="2.35" fill="#d82020"/><rect x="60.00" y="265.14" width="1.05" height="2.35" fill="#1e9a1e"/><rect x="308.40" y="265.14" width="1.20" height="2.35" fill="#d82020"/><rect x="309.55" y="265.14" width="1.20" height="2.35" fill="#cf7210"/><rect x="310.70" y="265.14" width="1.20" height="2.35" fill="#cf7210"/><rect x="311.85" y="265.14" width="1.20" height="2.35" fill="#d82020"/><rect x="313.00" y="265.14" width="1.20" height="2.35" fill="#d82020"/><rect x="314.15" y="265.14" width="1.20" height="2.35" fill="#d82020"/><rect x="315.30" y="265.14" width="1.20" height="2.35" fill="#1e9a1e"/><rect x="316.45" y="265.14" width="1.20" height="2.35" fill="#1e9a1e"/><rect x="317.60" y="265.14" width="1.20" height="2.35" fill="#cf7210"/><rect x="318.75" y="265.14" width="1.20" height="2.35" fill="#d82020"/><rect x="319.90" y="265.14" width="1.20" height="2.35" fill="#d82020"/><rect x="321.05" y="265.14" width="1.20" height="2.35" fill="#cf7210"/><rect x="322.20" y="265.14" width="1.20" height="2.35" fill="#cf7210"/><rect x="323.35" y="265.14" width="1.20" height="2.35" fill="#d82020"/><rect x="324.50" y="265.14" width="1.20" height="2.35" fill="#8c2870"/><rect x="325.65" y="265.14" width="1.20" height="2.35" fill="#1e9a1e"/><rect x="326.80" y="265.14" width="1.20" height="2.35" fill="#d82020"/><rect x="327.95" y="265.14" width="1.20" height="2.35" fill="#1e9a1e"/><rect x="329.10" y="265.14" width="0.65" height="2.35" fill="#d82020"/><rect x="45.0" y="267.98" width="38.5" height="2.35" fill="#c0c0c0"/><rect x="99.8" y="267.98" width="31.2" height="2.35" fill="#c0c0c0"/><rect x="135.0" y="267.98" width="42.3" height="2.35" fill="#c0c0c0"/><rect x="181.0" y="267.98" width="22.8" height="2.35" fill="#c0c0c0"/><rect x="237.5" y="267.98" width="29.8" height="2.35" fill="#c0c0c0"/><rect x="271.0" y="267.98" width="52.0" height="2.35" fill="#c0c0c0"/><rect x="24.2" y="267.98" width="12.1" height="2.35" fill="#cfcfcf"/><rect x="330.2" y="267.98" width="8" height="2.35" fill="#cdcdcd"/><rect x="37.00" y="267.98" width="1.20" height="2.35" fill="#1e9a1e"/><rect x="38.15" y="267.98" width="1.20" height="2.35" fill="#2a32d8"/><rect x="39.30" y="267.98" width="1.20" height="2.35" fill="#d82020"/><rect x="40.45" y="267.98" width="1.20" height="2.35" fill="#2a32d8"/><rect x="41.60" y="267.98" width="1.20" height="2.35" fill="#8c2870"/><rect x="42.75" y="267.98" width="0.30" height="2.35" fill="#1e9a1e"/><rect x="323.00" y="267.98" width="1.20" height="2.35" fill="#1e9a1e"/><rect x="324.15" y="267.98" width="1.20" height="2.35" fill="#2a32d8"/><rect x="325.30" y="267.98" width="1.20" height="2.35" fill="#d82020"/><rect x="326.45" y="267.98" width="1.20" height="2.35" fill="#2a32d8"/><rect x="327.60" y="267.98" width="1.20" height="2.35" fill="#d82020"/><rect x="328.75" y="267.98" width="1.00" height="2.35" fill="#d82020"/><rect x="48.8" y="270.82" width="27.0" height="2.35" fill="#c0c0c0"/><rect x="130.2" y="270.82" width="22.1" height="2.35" fill="#c0c0c0"/><rect x="169.6" y="270.82" width="35.2" height="2.35" fill="#c0c0c0"/><rect x="237.5" y="270.82" width="31.7" height="2.35" fill="#c0c0c0"/><rect x="274.0" y="270.82" width="23.7" height="2.35" fill="#c0c0c0"/><rect x="24.2" y="270.82" width="12.1" height="2.35" fill="#cfcfcf"/><rect x="330.2" y="270.82" width="8" height="2.35" fill="#cdcdcd"/><rect x="37.00" y="270.82" width="1.20" height="2.35" fill="#d82020"/><rect x="38.15" y="270.82" width="1.10" height="2.35" fill="#8c2870"/><rect x="309.20" y="270.82" width="1.20" height="2.35" fill="#d82020"/><rect x="310.35" y="270.82" width="1.20" height="2.35" fill="#cf7210"/><rect x="311.50" y="270.82" width="1.20" height="2.35" fill="#1e9a1e"/><rect x="312.65" y="270.82" width="1.20" height="2.35" fill="#cf7210"/><rect x="313.80" y="270.82" width="1.20" height="2.35" fill="#1e9a1e"/><rect x="314.95" y="270.82" width="1.20" height="2.35" fill="#2a32d8"/><rect x="316.10" y="270.82" width="1.20" height="2.35" fill="#1e9a1e"/><rect x="317.25" y="270.82" width="1.20" height="2.35" fill="#1e9a1e"/><rect x="318.40" y="270.82" width="1.20" height="2.35" fill="#1e9a1e"/><rect x="319.55" y="270.82" width="1.20" height="2.35" fill="#1e9a1e"/><rect x="320.70" y="270.82" width="1.20" height="2.35" fill="#d82020"/><rect x="321.85" y="270.82" width="1.20" height="2.35" fill="#1e9a1e"/><rect x="323.00" y="270.82" width="1.20" height="2.35" fill="#1e9a1e"/><rect x="324.15" y="270.82" width="1.20" height="2.35" fill="#d82020"/><rect x="325.30" y="270.82" width="1.20" height="2.35" fill="#cf7210"/><rect x="326.45" y="270.82" width="1.20" height="2.35" fill="#2a32d8"/><rect x="327.60" y="270.82" width="1.20" height="2.35" fill="#d82020"/><rect x="328.75" y="270.82" width="1.00" height="2.35" fill="#1e9a1e"/><rect x="66.0" y="273.66" width="27.0" height="2.35" fill="#c0c0c0"/><rect x="135.0" y="273.66" width="42.3" height="2.35" fill="#c0c0c0"/><rect x="182.0" y="273.66" width="33.4" height="2.35" fill="#c0c0c0"/><rect x="240.4" y="273.66" width="31.6" height="2.35" fill="#c0c0c0"/><rect x="278.0" y="273.66" width="38.6" height="2.35" fill="#c0c0c0"/><rect x="24.2" y="273.66" width="12.1" height="2.35" fill="#cfcfcf"/><rect x="330.2" y="273.66" width="8" height="2.35" fill="#cdcdcd"/><rect x="37.00" y="273.66" width="1.20" height="2.35" fill="#d82020"/><rect x="38.15" y="273.66" width="1.20" height="2.35" fill="#cf7210"/><rect x="39.30" y="273.66" width="1.20" height="2.35" fill="#d82020"/><rect x="40.45" y="273.66" width="1.20" height="2.35" fill="#1e9a1e"/><rect x="41.60" y="273.66" width="1.20" height="2.35" fill="#2a32d8"/><rect x="42.75" y="273.66" width="1.20" height="2.35" fill="#8c2870"/><rect x="43.90" y="273.66" width="1.20" height="2.35" fill="#1e9a1e"/><rect x="45.05" y="273.66" width="1.20" height="2.35" fill="#cf7210"/><rect x="46.20" y="273.66" width="0.85" height="2.35" fill="#d82020"/><rect x="317.40" y="273.66" width="1.20" height="2.35" fill="#cf7210"/><rect x="318.55" y="273.66" width="1.20" height="2.35" fill="#cf7210"/><rect x="319.70" y="273.66" width="1.20" height="2.35" fill="#d82020"/><rect x="320.85" y="273.66" width="1.20" height="2.35" fill="#8c2870"/><rect x="322.00" y="273.66" width="1.20" height="2.35" fill="#2a32d8"/><rect x="323.15" y="273.66" width="1.20" height="2.35" fill="#cf7210"/><rect x="324.30" y="273.66" width="1.20" height="2.35" fill="#1e9a1e"/><rect x="325.45" y="273.66" width="1.20" height="2.35" fill="#d82020"/><rect x="326.60" y="273.66" width="1.20" height="2.35" fill="#cf7210"/><rect x="327.75" y="273.66" width="1.20" height="2.35" fill="#8c2870"/><rect x="328.90" y="273.66" width="0.85" height="2.35" fill="#1e9a1e"/><rect x="24.2" y="276.50" width="27.5" height="2.35" fill="#c0c0c0"/><rect x="67.0" y="276.50" width="14.5" height="2.35" fill="#c0c0c0"/><rect x="136.0" y="276.50" width="75.5" height="2.35" fill="#c0c0c0"/><rect x="277.9" y="276.50" width="34.6" height="2.35" fill="#c0c0c0"/><rect x="330.2" y="276.50" width="8" height="2.35" fill="#cdcdcd"/><rect x="317.40" y="276.50" width="1.20" height="2.35" fill="#1e9a1e"/><rect x="318.55" y="276.50" width="1.20" height="2.35" fill="#cf7210"/><rect x="319.70" y="276.50" width="1.20" height="2.35" fill="#cf7210"/><rect x="320.85" y="276.50" width="1.20" height="2.35" fill="#1e9a1e"/><rect x="322.00" y="276.50" width="1.20" height="2.35" fill="#8c2870"/><rect x="323.15" y="276.50" width="1.20" height="2.35" fill="#cf7210"/><rect x="324.30" y="276.50" width="1.20" height="2.35" fill="#cf7210"/><rect x="325.45" y="276.50" width="1.20" height="2.35" fill="#8c2870"/><rect x="326.60" y="276.50" width="1.20" height="2.35" fill="#1e9a1e"/><rect x="327.75" y="276.50" width="1.20" height="2.35" fill="#cf7210"/><rect x="328.90" y="276.50" width="0.85" height="2.35" fill="#cf7210"/><rect x="24.2" y="279.34" width="14.1" height="2.35" fill="#c0c0c0"/><rect x="71.0" y="279.34" width="31.7" height="2.35" fill="#c0c0c0"/><rect x="137.0" y="279.34" width="45.0" height="2.35" fill="#c0c0c0"/><rect x="184.0" y="279.34" width="41.0" height="2.35" fill="#c0c0c0"/><rect x="281.0" y="279.34" width="14.3" height="2.35" fill="#c0c0c0"/><rect x="330.2" y="279.34" width="8" height="2.35" fill="#cdcdcd"/><rect x="309.20" y="279.34" width="1.20" height="2.35" fill="#1e9a1e"/><rect x="310.35" y="279.34" width="1.20" height="2.35" fill="#cf7210"/><rect x="311.50" y="279.34" width="1.20" height="2.35" fill="#2a32d8"/><rect x="312.65" y="279.34" width="1.20" height="2.35" fill="#cf7210"/><rect x="313.80" y="279.34" width="1.20" height="2.35" fill="#cf7210"/><rect x="314.95" y="279.34" width="1.20" height="2.35" fill="#d82020"/><rect x="316.10" y="279.34" width="1.20" height="2.35" fill="#d82020"/><rect x="317.25" y="279.34" width="1.20" height="2.35" fill="#1e9a1e"/><rect x="318.40" y="279.34" width="1.20" height="2.35" fill="#cf7210"/><rect x="319.55" y="279.34" width="1.20" height="2.35" fill="#d82020"/><rect x="320.70" y="279.34" width="1.20" height="2.35" fill="#d82020"/><rect x="321.85" y="279.34" width="1.20" height="2.35" fill="#cf7210"/><rect x="323.00" y="279.34" width="1.20" height="2.35" fill="#d82020"/><rect x="324.15" y="279.34" width="1.20" height="2.35" fill="#d82020"/><rect x="325.30" y="279.34" width="1.20" height="2.35" fill="#1e9a1e"/><rect x="326.45" y="279.34" width="1.20" height="2.35" fill="#1e9a1e"/><rect x="327.60" y="279.34" width="1.20" height="2.35" fill="#cf7210"/><rect x="328.75" y="279.34" width="1.00" height="2.35" fill="#cf7210"/><rect x="142.7" y="282.19" width="25.0" height="2.35" fill="#c0c0c0"/><rect x="172.5" y="282.19" width="66.0" height="2.35" fill="#c0c0c0"/><rect x="24.2" y="282.19" width="12.1" height="2.35" fill="#cfcfcf"/><rect x="330.2" y="282.19" width="8" height="2.35" fill="#cdcdcd"/><rect x="37.00" y="282.19" width="1.20" height="2.35" fill="#1e9a1e"/><rect x="38.15" y="282.19" width="1.20" height="2.35" fill="#1e9a1e"/><rect x="39.30" y="282.19" width="1.20" height="2.35" fill="#8c2870"/><rect x="40.45" y="282.19" width="1.20" height="2.35" fill="#1e9a1e"/><rect x="41.60" y="282.19" width="1.20" height="2.35" fill="#1e9a1e"/><rect x="42.75" y="282.19" width="1.20" height="2.35" fill="#8c2870"/><rect x="43.90" y="282.19" width="1.20" height="2.35" fill="#cf7210"/><rect x="45.05" y="282.19" width="1.20" height="2.35" fill="#2a32d8"/><rect x="46.20" y="282.19" width="1.20" height="2.35" fill="#1e9a1e"/><rect x="47.35" y="282.19" width="1.20" height="2.35" fill="#cf7210"/><rect x="48.50" y="282.19" width="1.20" height="2.35" fill="#d82020"/><rect x="49.65" y="282.19" width="1.20" height="2.35" fill="#d82020"/><rect x="50.80" y="282.19" width="1.20" height="2.35" fill="#cf7210"/><rect x="51.95" y="282.19" width="1.20" height="2.35" fill="#2a32d8"/><rect x="53.10" y="282.19" width="1.20" height="2.35" fill="#d82020"/><rect x="54.25" y="282.19" width="1.20" height="2.35" fill="#8c2870"/><rect x="55.40" y="282.19" width="1.20" height="2.35" fill="#cf7210"/><rect x="56.55" y="282.19" width="1.20" height="2.35" fill="#2a32d8"/><rect x="57.70" y="282.19" width="1.20" height="2.35" fill="#cf7210"/><rect x="58.85" y="282.19" width="1.20" height="2.35" fill="#cf7210"/><rect x="60.00" y="282.19" width="1.20" height="2.35" fill="#8c2870"/><rect x="61.15" y="282.19" width="0.20" height="2.35" fill="#2a32d8"/><rect x="320.00" y="282.19" width="1.20" height="2.35" fill="#d82020"/><rect x="321.15" y="282.19" width="1.20" height="2.35" fill="#8c2870"/><rect x="322.30" y="282.19" width="1.20" height="2.35" fill="#d82020"/><rect x="323.45" y="282.19" width="1.20" height="2.35" fill="#1e9a1e"/><rect x="324.60" y="282.19" width="1.20" height="2.35" fill="#1e9a1e"/><rect x="325.75" y="282.19" width="1.20" height="2.35" fill="#cf7210"/><rect x="326.90" y="282.19" width="1.20" height="2.35" fill="#d82020"/><rect x="328.05" y="282.19" width="1.20" height="2.35" fill="#cf7210"/><rect x="329.20" y="282.19" width="0.55" height="2.35" fill="#cf7210"/><rect x="141.7" y="285.02" width="23.1" height="2.35" fill="#c0c0c0"/><rect x="170.6" y="285.02" width="41.9" height="2.35" fill="#c0c0c0"/><rect x="24.2" y="285.02" width="12.1" height="2.35" fill="#cfcfcf"/><rect x="330.2" y="285.02" width="8" height="2.35" fill="#cdcdcd"/><rect x="37.00" y="285.02" width="1.20" height="2.35" fill="#d82020"/><rect x="38.15" y="285.02" width="1.20" height="2.35" fill="#d82020"/><rect x="39.30" y="285.02" width="1.20" height="2.35" fill="#8c2870"/><rect x="40.45" y="285.02" width="1.20" height="2.35" fill="#d82020"/><rect x="41.60" y="285.02" width="1.20" height="2.35" fill="#1e9a1e"/><rect x="42.75" y="285.02" width="1.20" height="2.35" fill="#d82020"/><rect x="43.90" y="285.02" width="1.15" height="2.35" fill="#8c2870"/><rect x="321.50" y="285.02" width="1.20" height="2.35" fill="#1e9a1e"/><rect x="322.65" y="285.02" width="1.20" height="2.35" fill="#8c2870"/><rect x="323.80" y="285.02" width="1.20" height="2.35" fill="#8c2870"/><rect x="324.95" y="285.02" width="1.20" height="2.35" fill="#cf7210"/><rect x="326.10" y="285.02" width="1.20" height="2.35" fill="#d82020"/><rect x="327.25" y="285.02" width="1.20" height="2.35" fill="#8c2870"/><rect x="328.40" y="285.02" width="1.20" height="2.35" fill="#cf7210"/><rect x="329.55" y="285.02" width="0.20" height="2.35" fill="#cf7210"/><rect x="24.2" y="287.86" width="12.1" height="2.35" fill="#cfcfcf"/><rect x="330.2" y="287.86" width="8" height="2.35" fill="#cdcdcd"/><rect x="37.00" y="287.86" width="1.20" height="2.35" fill="#1e9a1e"/><rect x="38.15" y="287.86" width="1.20" height="2.35" fill="#cf7210"/><rect x="39.30" y="287.86" width="1.20" height="2.35" fill="#d82020"/><rect x="40.45" y="287.86" width="1.20" height="2.35" fill="#d82020"/><rect x="41.60" y="287.86" width="1.20" height="2.35" fill="#1e9a1e"/><rect x="42.75" y="287.86" width="0.30" height="2.35" fill="#1e9a1e"/><rect x="322.40" y="287.86" width="1.20" height="2.35" fill="#d82020"/><rect x="323.55" y="287.86" width="1.20" height="2.35" fill="#d82020"/><rect x="324.70" y="287.86" width="1.20" height="2.35" fill="#cf7210"/><rect x="325.85" y="287.86" width="1.20" height="2.35" fill="#cf7210"/><rect x="327.00" y="287.86" width="1.20" height="2.35" fill="#cf7210"/><rect x="328.15" y="287.86" width="1.20" height="2.35" fill="#1e9a1e"/><rect x="329.30" y="287.86" width="0.45" height="2.35" fill="#1e9a1e"/><rect x="24.2" y="290.70" width="12.1" height="2.35" fill="#cfcfcf"/><rect x="330.2" y="290.70" width="8" height="2.35" fill="#cdcdcd"/><rect x="37.00" y="290.70" width="1.20" height="2.35" fill="#1e9a1e"/><rect x="38.15" y="290.70" width="1.20" height="2.35" fill="#2a32d8"/><rect x="39.30" y="290.70" width="1.20" height="2.35" fill="#d82020"/><rect x="40.45" y="290.70" width="0.60" height="2.35" fill="#1e9a1e"/><rect x="323.20" y="290.70" width="1.20" height="2.35" fill="#cf7210"/><rect x="324.35" y="290.70" width="1.20" height="2.35" fill="#d82020"/><rect x="325.50" y="290.70" width="1.20" height="2.35" fill="#1e9a1e"/><rect x="326.65" y="290.70" width="1.20" height="2.35" fill="#1e9a1e"/><rect x="327.80" y="290.70" width="1.20" height="2.35" fill="#d82020"/><rect x="328.95" y="290.70" width="0.80" height="2.35" fill="#1e9a1e"/><rect x="31.5" y="293.54" width="4.8" height="2.35" fill="#dcdcdc"/><rect x="330.2" y="293.54" width="8" height="2.35" fill="#cdcdcd"/><rect x="37.00" y="293.54" width="1.20" height="2.35" fill="#1e9a1e"/><rect x="38.15" y="293.54" width="1.20" height="2.35" fill="#cf7210"/><rect x="39.30" y="293.54" width="1.20" height="2.35" fill="#8c2870"/><rect x="40.45" y="293.54" width="1.20" height="2.35" fill="#d82020"/><rect x="41.60" y="293.54" width="1.20" height="2.35" fill="#1e9a1e"/><rect x="42.75" y="293.54" width="1.20" height="2.35" fill="#1e9a1e"/><rect x="43.90" y="293.54" width="1.20" height="2.35" fill="#2a32d8"/><rect x="45.05" y="293.54" width="1.20" height="2.35" fill="#8c2870"/><rect x="46.20" y="293.54" width="1.20" height="2.35" fill="#1e9a1e"/><rect x="47.35" y="293.54" width="1.20" height="2.35" fill="#cf7210"/><rect x="48.50" y="293.54" width="1.20" height="2.35" fill="#1e9a1e"/><rect x="49.65" y="293.54" width="1.20" height="2.35" fill="#cf7210"/><rect x="50.80" y="293.54" width="1.20" height="2.35" fill="#8c2870"/><rect x="51.95" y="293.54" width="1.20" height="2.35" fill="#cf7210"/><rect x="53.10" y="293.54" width="1.20" height="2.35" fill="#d82020"/><rect x="54.25" y="293.54" width="1.20" height="2.35" fill="#8c2870"/><rect x="55.40" y="293.54" width="1.20" height="2.35" fill="#d82020"/><rect x="56.55" y="293.54" width="1.20" height="2.35" fill="#cf7210"/><rect x="57.70" y="293.54" width="1.20" height="2.35" fill="#cf7210"/><rect x="58.85" y="293.54" width="1.20" height="2.35" fill="#1e9a1e"/><rect x="60.00" y="293.54" width="1.20" height="2.35" fill="#d82020"/><rect x="61.15" y="293.54" width="1.20" height="2.35" fill="#cf7210"/><rect x="62.30" y="293.54" width="1.20" height="2.35" fill="#1e9a1e"/><rect x="63.45" y="293.54" width="1.20" height="2.35" fill="#cf7210"/><rect x="64.60" y="293.54" width="1.20" height="2.35" fill="#cf7210"/><rect x="65.75" y="293.54" width="0.30" height="2.35" fill="#d82020"/><rect x="324.00" y="293.54" width="1.20" height="2.35" fill="#cf7210"/><rect x="325.15" y="293.54" width="1.20" height="2.35" fill="#1e9a1e"/><rect x="326.30" y="293.54" width="1.20" height="2.35" fill="#d82020"/><rect x="327.45" y="293.54" width="1.20" height="2.35" fill="#d82020"/><rect x="328.60" y="293.54" width="1.15" height="2.35" fill="#1e9a1e"/><rect x="330.2" y="296.38" width="8" height="2.35" fill="#cdcdcd"/><rect x="35.40" y="296.38" width="1.20" height="2.35" fill="#cf7210"/><rect x="36.55" y="296.38" width="1.20" height="2.35" fill="#1e9a1e"/><rect x="37.70" y="296.38" width="1.20" height="2.35" fill="#1e9a1e"/><rect x="38.85" y="296.38" width="1.20" height="2.35" fill="#cf7210"/><rect x="40.00" y="296.38" width="1.20" height="2.35" fill="#1e9a1e"/><rect x="41.15" y="296.38" width="1.20" height="2.35" fill="#d82020"/><rect x="42.30" y="296.38" width="1.20" height="2.35" fill="#cf7210"/><rect x="43.45" y="296.38" width="1.20" height="2.35" fill="#d82020"/><rect x="44.60" y="296.38" width="1.20" height="2.35" fill="#1e9a1e"/><rect x="45.75" y="296.38" width="1.20" height="2.35" fill="#d82020"/><rect x="46.90" y="296.38" width="1.20" height="2.35" fill="#d82020"/><rect x="48.05" y="296.38" width="1.20" height="2.35" fill="#1e9a1e"/><rect x="49.20" y="296.38" width="1.20" height="2.35" fill="#cf7210"/><rect x="50.35" y="296.38" width="1.20" height="2.35" fill="#8c2870"/><rect x="51.50" y="296.38" width="1.20" height="2.35" fill="#d82020"/><rect x="52.65" y="296.38" width="1.20" height="2.35" fill="#1e9a1e"/><rect x="53.80" y="296.38" width="1.20" height="2.35" fill="#d82020"/><rect x="54.95" y="296.38" width="1.20" height="2.35" fill="#1e9a1e"/><rect x="56.10" y="296.38" width="1.20" height="2.35" fill="#1e9a1e"/><rect x="57.25" y="296.38" width="1.20" height="2.35" fill="#8c2870"/><rect x="58.40" y="296.38" width="1.05" height="2.35" fill="#1e9a1e"/><rect x="324.80" y="296.38" width="1.20" height="2.35" fill="#1e9a1e"/><rect x="325.95" y="296.38" width="1.20" height="2.35" fill="#2a32d8"/><rect x="327.10" y="296.38" width="1.20" height="2.35" fill="#d82020"/><rect x="328.25" y="296.38" width="1.20" height="2.35" fill="#cf7210"/><rect x="329.40" y="296.38" width="0.35" height="2.35" fill="#1e9a1e"/><rect x="35.40" y="299.22" width="1.20" height="2.35" fill="#1e9a1e"/><rect x="36.55" y="299.22" width="1.20" height="2.35" fill="#1e9a1e"/><rect x="37.70" y="299.22" width="1.20" height="2.35" fill="#cf7210"/><rect x="38.85" y="299.22" width="1.20" height="2.35" fill="#1e9a1e"/><rect x="40.00" y="299.22" width="1.20" height="2.35" fill="#8c2870"/><rect x="41.15" y="299.22" width="1.20" height="2.35" fill="#d82020"/><rect x="42.30" y="299.22" width="1.20" height="2.35" fill="#1e9a1e"/><rect x="43.45" y="299.22" width="1.20" height="2.35" fill="#1e9a1e"/><rect x="44.60" y="299.22" width="1.20" height="2.35" fill="#1e9a1e"/><rect x="45.75" y="299.22" width="1.20" height="2.35" fill="#cf7210"/><rect x="46.90" y="299.22" width="1.20" height="2.35" fill="#cf7210"/><rect x="48.05" y="299.22" width="1.20" height="2.35" fill="#8c2870"/><rect x="49.20" y="299.22" width="1.20" height="2.35" fill="#1e9a1e"/><rect x="50.35" y="299.22" width="1.20" height="2.35" fill="#2a32d8"/><rect x="51.50" y="299.22" width="1.20" height="2.35" fill="#cf7210"/><rect x="52.65" y="299.22" width="1.20" height="2.35" fill="#cf7210"/><rect x="53.80" y="299.22" width="1.20" height="2.35" fill="#d82020"/><rect x="54.95" y="299.22" width="1.20" height="2.35" fill="#1e9a1e"/><rect x="56.10" y="299.22" width="1.20" height="2.35" fill="#1e9a1e"/><rect x="57.25" y="299.22" width="1.20" height="2.35" fill="#cf7210"/><rect x="58.40" y="299.22" width="1.20" height="2.35" fill="#2a32d8"/><rect x="59.55" y="299.22" width="1.20" height="2.35" fill="#1e9a1e"/><rect x="60.70" y="299.22" width="1.20" height="2.35" fill="#cf7210"/><rect x="61.85" y="299.22" width="1.20" height="2.35" fill="#1e9a1e"/><rect x="63.00" y="299.22" width="0.35" height="2.35" fill="#1e9a1e"/>
<path d="M31,235 V291" stroke="#e03030" stroke-width="0.45" opacity="0.48"/>
<path d="M34,235 V291" stroke="#4060d0" stroke-width="0.45" opacity="0.30"/>
<path d="M28,235 V291" stroke="#888" stroke-width="0.45" opacity="0.18"/>
<path d="M66.5,237 V272" stroke="#e08030" stroke-width="0.45" opacity="0.33"/>
<path d="M79,238 V272" stroke="#30a040" stroke-width="0.45" opacity="0.33"/>
<path d="M113.5,238 V272" stroke="#30a040" stroke-width="0.45" opacity="0.33"/>
<path d="M152.3,237 V288" stroke="#4050d0" stroke-width="0.45" opacity="0.33"/>
<path d="M158,238 V288" stroke="#4050d0" stroke-width="0.45" opacity="0.33"/>
<path d="M166.7,236.5 V284" stroke="#e08030" stroke-width="0.45" opacity="0.33"/>
<path d="M188.8,237 V288" stroke="#4050d0" stroke-width="0.45" opacity="0.33"/>
<path d="M236.5,237 V275" stroke="#30a040" stroke-width="0.45" opacity="0.33"/>
<path d="M272.7,237.5 V277" stroke="#e03030" stroke-width="0.45" opacity="0.33"/>
<path d="M275,237.5 V277" stroke="#e03030" stroke-width="0.45" opacity="0.33"/>
<path d="M281.7,237 V283" stroke="#e03030" stroke-width="0.45" opacity="0.42"/>
<path d="M290.4,238 V283" stroke="#4050d0" stroke-width="0.45" opacity="0.33"/>
<path d="M312.5,240 V283" stroke="#4050d0" stroke-width="0.45" opacity="0.33"/>
<path d="M298,239.5 V270" stroke="#30a040" stroke-width="0.45" opacity="0.24"/>
<path d="M333,235 V300" stroke="#e03030" stroke-width="0.45" opacity="0.21"/>
<path d="M336,235 V300" stroke="#e08030" stroke-width="0.45" opacity="0.21"/>
<path d="M37.9,307.8 H329.2" stroke="#f03a44" stroke-width="1.6" fill="none"/>
<path d="M37.9,301 V307.6 M329.2,300 V307.6" stroke="#f03a44" stroke-width="0.8" stroke-dasharray="1.1,1.3" fill="none"/>
<text x="174.00" y="304.70" font-size="5.6" fill="#e8303a" text-anchor="start" textLength="19.20" lengthAdjust="spacingAndGlyphs" >109kb</text>
<path d="M38,308.8 L160,330.8 M329,308.8 L265.5,330.6" stroke="#333" stroke-width="0.6" stroke-dasharray="2.2,1.8" fill="none"/>
<path d="M30.4,332.2 L39,332.2" stroke="#000" stroke-width="0.5"/>
<g fill="#000"><rect x="31.0" y="330.8" width="4.0" height="2.8"/><rect x="36.5" y="330.8" width="2.5" height="2.8"/></g>
<path d="M30.2,332.2 l1.6,-1.4 v2.8 Z" fill="#000"/>
<path d="M46.7,332.2 L58,332.2" stroke="#000" stroke-width="0.5"/>
<g fill="#000"><rect x="46.52" y="330.7" width="0.76" height="3"/><rect x="50.92" y="330.7" width="0.76" height="3"/><rect x="56.12" y="330.7" width="0.76" height="3"/></g>
<path d="M58.6,332.2 l-1.6,-1.4 v2.8 Z" fill="#000"/>
<path d="M70.4,332.2 L160.2,332.2" stroke="#000" stroke-width="0.5"/>
<g fill="#000"><rect x="70.02" y="330.7" width="0.76" height="3"/><rect x="80.12" y="330.7" width="0.76" height="3"/><rect x="83.82" y="330.7" width="0.76" height="3"/><rect x="88.42" y="330.7" width="0.76" height="3"/><rect x="91.52" y="330.7" width="0.76" height="3"/><rect x="94.02" y="330.7" width="0.76" height="3"/><rect x="98.0" y="330.8" width="3.8" height="2.8"/><rect x="111.0" y="330.8" width="2.5" height="2.8"/><rect x="116.12" y="330.7" width="0.76" height="3"/><rect x="119.22" y="330.7" width="0.76" height="3"/><rect x="122.92" y="330.7" width="0.76" height="3"/><rect x="131.52" y="330.7" width="0.76" height="3"/><rect x="150.02" y="330.7" width="0.76" height="3"/><rect x="159.82" y="330.7" width="0.76" height="3"/></g>
<path d="M191.8,332.2 L337.3,332.2" stroke="#000" stroke-width="0.5"/>
<g fill="#000"><rect x="191.8" y="330.8" width="2.5" height="2.8"/><rect x="199.39" y="330.7" width="0.76" height="3"/><rect x="206.16" y="330.7" width="0.76" height="3"/><rect x="213.85" y="330.7" width="0.76" height="3"/><rect x="221.54" y="330.7" width="0.76" height="3"/><rect x="228.7" y="330.8" width="3.1" height="2.8"/><rect x="243.08" y="330.7" width="0.76" height="3"/><rect x="247.8" y="330.8" width="0.9" height="2.8"/><rect x="250.8" y="330.8" width="0.9" height="2.8"/><rect x="266.16" y="330.7" width="0.76" height="3"/><rect x="272.31" y="330.7" width="0.76" height="3"/><rect x="280.62" y="330.7" width="0.76" height="3"/><rect x="288.62" y="330.7" width="0.76" height="3"/><rect x="296.93" y="330.7" width="0.76" height="3"/><rect x="304.7" y="330.8" width="0.9" height="2.8"/><rect x="308.4" y="330.8" width="0.9" height="2.8"/><rect x="313.6" y="330.8" width="1.2" height="2.8"/><rect x="317.3" y="330.8" width="1.2" height="2.8"/><rect x="321.3" y="330.8" width="1.2" height="2.8"/><rect x="323.8" y="330.8" width="2.2" height="2.8"/><rect x="326.8" y="330.8" width="0.9" height="2.8"/><rect x="332.31" y="330.7" width="0.76" height="3"/></g>
<path d="M191.2,332.2 l2.4,-1.6 v3.2 Z M338.2,332.2 l-2.2,-1.5 v3 Z" fill="#000"/>
<text x="24.20" y="340.60" font-size="7.3" fill="#1a1a1a" text-anchor="start" textLength="19.10" lengthAdjust="spacingAndGlyphs" >CDX2</text>
<text x="46.70" y="340.60" font-size="7.3" fill="#1a1a1a" text-anchor="start" textLength="19.10" lengthAdjust="spacingAndGlyphs" >URAD</text>
<text x="104.80" y="340.60" font-size="7.3" fill="#1a1a1a" text-anchor="start" textLength="15.70" lengthAdjust="spacingAndGlyphs" >FLT3</text>
<text x="254.20" y="340.60" font-size="7.3" fill="#1a1a1a" text-anchor="start" textLength="19.10" lengthAdjust="spacingAndGlyphs" >PAN3</text>
<text x="7.00" y="370.85" font-size="11.3" fill="#000" text-anchor="start" font-weight="bold" >D</text>
<text x="7.30" y="383.70" font-size="7.7" fill="#222" text-anchor="start" textLength="22.40" lengthAdjust="spacingAndGlyphs" >Chr17</text>
<rect x="7.5" y="385.4" width="343.0" height="2.7" fill="#fff"/>
<rect x="21" y="385.4" width="13.00" height="2.7" fill="#8a8a8a"/>
<rect x="52" y="385.4" width="22.00" height="2.7" fill="#2a2a2a"/>
<rect x="145.5" y="385.4" width="26.00" height="2.7" fill="#8a8a8a"/>
<rect x="171.5" y="385.4" width="2.00" height="2.7" fill="#e0e0e0"/>
<rect x="173.5" y="385.4" width="10.00" height="2.7" fill="#bdbdbd"/>
<rect x="200" y="385.4" width="10.00" height="2.7" fill="#cfcfcf"/>
<rect x="222.5" y="385.4" width="30.50" height="2.7" fill="#4a4a4a"/>
<rect x="255" y="385.4" width="11.50" height="2.7" fill="#4a4a4a"/>
<rect x="272.5" y="385.4" width="7.00" height="2.7" fill="#8a8a8a"/>
<rect x="292" y="385.4" width="16.00" height="2.7" fill="#4a4a4a"/>
<rect x="323.5" y="385.4" width="2.00" height="2.7" fill="#cfcfcf"/>
<rect x="7.5" y="385.4" width="343.0" height="2.7" fill="none" stroke="#444" stroke-width="0.5"/>
<rect x="99.8" y="384.9" width="20.4" height="3.7" fill="#fff"/>
<path d="M100,385.4 L110,386.75 L100,388.09999999999997 Z M120,385.4 L110,386.75 L120,388.09999999999997 Z" fill="#c8141c"/>
<rect x="188.0" y="385.09999999999997" width="2.1999999999999886" height="3.3000000000000003" fill="#ff7a7a" stroke="#e01020" stroke-width="0.6"/>
<g font-size="3.1" fill="#3a3a3a" text-anchor="middle"><text x="11" y="392.2">p13.3</text><text x="27" y="392.2">p13.2</text><text x="43" y="392.2">p13.1</text><text x="63" y="392.2">p12</text><text x="87" y="392.2">p11.2</text><text x="104.5" y="392.2">p11.1</text><text x="133" y="392.2">q11.2</text><text x="158" y="392.2">q12</text><text x="172" y="392.2">q21.1</text><text x="188" y="392.2">q21.31</text><text x="206" y="392.2">q21.32</text><text x="236" y="392.2">q22</text><text x="253" y="392.2">q23.1</text><text x="271" y="392.2">q23.3</text><text x="286" y="392.2">q24.2</text><text x="300" y="392.2">q24.3</text><text x="316" y="392.2">q25.1</text><text x="338" y="392.2">q25.3</text></g>
<path d="M189.2,377.0 L189.2,382.2" stroke="#000" stroke-width="0.6" fill="none"/>
<path d="M187.89999999999998,380.79999999999995 L189.2,383.4 L190.5,380.79999999999995 Z" fill="#000"/>
<path d="M187.5,390.6 L25,403 M190.5,390.6 L338,403" stroke="#333" stroke-width="0.6" stroke-dasharray="2.2,1.8" fill="none"/>
<path d="M98.4,397.4 L98.4,402.6" stroke="#000" stroke-width="0.6" fill="none"/>
<path d="M97.10000000000001,401.2 L98.4,403.8 L99.7,401.2 Z" fill="#000"/>
<path d="M201.7,397.4 L201.7,402.6" stroke="#000" stroke-width="0.6" fill="none"/>
<path d="M200.39999999999998,401.2 L201.7,403.8 L203.0,401.2 Z" fill="#000"/>
<rect x="24.2" y="403" width="314.3" height="75" fill="#f6f6f6"/>
<path d="M24.2,411.7 L24.2,403.4 L30,403.6 L33,405.5 L50,405.2 L60,404.8 L75,405.5 L97.6,405.3 L98,408.6 L110,408.4 L140,407.4 L170,407.4 L201.5,408.2 L201.8,406 L220,406.6 L250,407.6 L262,407.8 L280,407.3 L300,406.6 L320,405.8 L338.5,405.3 L338.5,411.7 Z" fill="#b9b9b9"/>
<rect x="24.2" y="412.82" width="31.4" height="2.35" fill="#c0c0c0"/><rect x="24.2" y="412.82" width="2.2" height="2.35" fill="#aab2d6"/><rect x="59.4" y="412.82" width="68.9" height="2.35" fill="#c0c0c0"/><rect x="143.7" y="412.82" width="194.8" height="2.35" fill="#c0c0c0"/><rect x="24.2" y="415.82" width="73.7" height="2.35" fill="#c0c0c0"/><rect x="24.2" y="415.82" width="2.2" height="2.35" fill="#aab2d6"/><rect x="146.5" y="415.82" width="68.7" height="2.35" fill="#c0c0c0"/><rect x="229.6" y="415.82" width="108.9" height="2.35" fill="#c0c0c0"/><rect x="97.90" y="415.82" width="1.20" height="2.35" fill="#2a32d8"/><rect x="99.05" y="415.82" width="1.20" height="2.35" fill="#d8202c"/><rect x="100.20" y="415.82" width="1.20" height="2.35" fill="#d8202c"/><rect x="101.35" y="415.82" width="1.20" height="2.35" fill="#2a32d8"/><rect x="102.50" y="415.82" width="1.20" height="2.35" fill="#cf7210"/><rect x="103.65" y="415.82" width="1.20" height="2.35" fill="#cf7210"/><rect x="104.80" y="415.82" width="1.20" height="2.35" fill="#8c288c"/><rect x="105.95" y="415.82" width="1.20" height="2.35" fill="#2a32d8"/><rect x="107.10" y="415.82" width="1.20" height="2.35" fill="#1e9a1e"/><rect x="108.25" y="415.82" width="1.20" height="2.35" fill="#1e9a1e"/><rect x="109.40" y="415.82" width="1.20" height="2.35" fill="#2a32d8"/><rect x="110.55" y="415.82" width="1.20" height="2.35" fill="#cf7210"/><rect x="111.70" y="415.82" width="1.20" height="2.35" fill="#d8202c"/><rect x="112.85" y="415.82" width="1.20" height="2.35" fill="#1e9a1e"/><rect x="114.00" y="415.82" width="1.20" height="2.35" fill="#cf7210"/><rect x="115.15" y="415.82" width="1.20" height="2.35" fill="#d8202c"/><rect x="116.30" y="415.82" width="1.20" height="2.35" fill="#d8202c"/><rect x="117.45" y="415.82" width="1.20" height="2.35" fill="#d8202c"/><rect x="118.60" y="415.82" width="1.20" height="2.35" fill="#cf7210"/><rect x="119.75" y="415.82" width="1.20" height="2.35" fill="#cf7210"/><rect x="120.90" y="415.82" width="1.20" height="2.35" fill="#d8202c"/><rect x="122.05" y="415.82" width="1.20" height="2.35" fill="#8c288c"/><rect x="123.20" y="415.82" width="1.20" height="2.35" fill="#cf7210"/><rect x="124.35" y="415.82" width="1.20" height="2.35" fill="#2a32d8"/><rect x="125.50" y="415.82" width="1.20" height="2.35" fill="#d8202c"/><rect x="126.65" y="415.82" width="1.20" height="2.35" fill="#1e9a1e"/><rect x="127.80" y="415.82" width="1.20" height="2.35" fill="#d8202c"/><rect x="128.95" y="415.82" width="1.20" height="2.35" fill="#2a32d8"/><rect x="130.10" y="415.82" width="1.20" height="2.35" fill="#1e9a1e"/><rect x="131.25" y="415.82" width="1.20" height="2.35" fill="#1e9a1e"/><rect x="132.40" y="415.82" width="1.20" height="2.35" fill="#2a32d8"/><rect x="133.55" y="415.82" width="1.20" height="2.35" fill="#2a32d8"/><rect x="134.70" y="415.82" width="1.20" height="2.35" fill="#2a32d8"/><rect x="135.85" y="415.82" width="1.20" height="2.35" fill="#2a32d8"/><rect x="137.00" y="415.82" width="1.20" height="2.35" fill="#d8202c"/><rect x="138.15" y="415.82" width="1.20" height="2.35" fill="#cf7210"/><rect x="139.30" y="415.82" width="1.20" height="2.35" fill="#1e9a1e"/><rect x="140.45" y="415.82" width="1.20" height="2.35" fill="#cf7210"/><rect x="141.60" y="415.82" width="1.20" height="2.35" fill="#cf7210"/><rect x="142.75" y="415.82" width="1.20" height="2.35" fill="#1e9a1e"/><rect x="143.90" y="415.82" width="1.20" height="2.35" fill="#1e9a1e"/><rect x="145.05" y="415.82" width="1.20" height="2.35" fill="#1e9a1e"/><rect x="146.20" y="415.82" width="0.35" height="2.35" fill="#8c288c"/><rect x="24.2" y="418.82" width="49.6" height="2.35" fill="#c0c0c0"/><rect x="24.2" y="418.82" width="2.2" height="2.35" fill="#aab2d6"/><rect x="82.5" y="418.82" width="73.7" height="2.35" fill="#c0c0c0"/><rect x="244.0" y="418.82" width="94.5" height="2.35" fill="#c0c0c0"/><rect x="48.8" y="421.82" width="103.5" height="2.35" fill="#c0c0c0"/><rect x="201.7" y="421.82" width="65.3" height="2.35" fill="#c0c0c0"/><rect x="272.0" y="421.82" width="66.5" height="2.35" fill="#c0c0c0"/><rect x="152.30" y="421.82" width="1.20" height="2.35" fill="#2a32d8"/><rect x="153.45" y="421.82" width="1.20" height="2.35" fill="#8c288c"/><rect x="154.60" y="421.82" width="1.20" height="2.35" fill="#1e9a1e"/><rect x="155.75" y="421.82" width="1.20" height="2.35" fill="#d8202c"/><rect x="156.90" y="421.82" width="1.20" height="2.35" fill="#d8202c"/><rect x="158.05" y="421.82" width="1.20" height="2.35" fill="#d8202c"/><rect x="159.20" y="421.82" width="1.20" height="2.35" fill="#cf7210"/><rect x="160.35" y="421.82" width="1.20" height="2.35" fill="#d8202c"/><rect x="161.50" y="421.82" width="1.20" height="2.35" fill="#2a32d8"/><rect x="162.65" y="421.82" width="1.20" height="2.35" fill="#2a32d8"/><rect x="163.80" y="421.82" width="1.20" height="2.35" fill="#2a32d8"/><rect x="164.95" y="421.82" width="1.20" height="2.35" fill="#d8202c"/><rect x="166.10" y="421.82" width="1.20" height="2.35" fill="#2a32d8"/><rect x="167.25" y="421.82" width="1.20" height="2.35" fill="#2a32d8"/><rect x="168.40" y="421.82" width="1.20" height="2.35" fill="#8c288c"/><rect x="169.55" y="421.82" width="1.20" height="2.35" fill="#2a32d8"/><rect x="170.70" y="421.82" width="1.20" height="2.35" fill="#cf7210"/><rect x="171.85" y="421.82" width="1.20" height="2.35" fill="#8c288c"/><rect x="173.00" y="421.82" width="1.20" height="2.35" fill="#1e9a1e"/><rect x="174.15" y="421.82" width="1.20" height="2.35" fill="#2a32d8"/><rect x="175.30" y="421.82" width="1.20" height="2.35" fill="#1e9a1e"/><rect x="176.45" y="421.82" width="1.20" height="2.35" fill="#d8202c"/><rect x="177.60" y="421.82" width="1.20" height="2.35" fill="#d8202c"/><rect x="178.75" y="421.82" width="1.20" height="2.35" fill="#cf7210"/><rect x="179.90" y="421.82" width="1.20" height="2.35" fill="#1e9a1e"/><rect x="181.05" y="421.82" width="1.20" height="2.35" fill="#2a32d8"/><rect x="182.20" y="421.82" width="1.20" height="2.35" fill="#8c288c"/><rect x="183.35" y="421.82" width="1.20" height="2.35" fill="#1e9a1e"/><rect x="184.50" y="421.82" width="1.20" height="2.35" fill="#d8202c"/><rect x="185.65" y="421.82" width="1.20" height="2.35" fill="#cf7210"/><rect x="186.80" y="421.82" width="1.20" height="2.35" fill="#1e9a1e"/><rect x="187.95" y="421.82" width="1.20" height="2.35" fill="#cf7210"/><rect x="189.10" y="421.82" width="1.20" height="2.35" fill="#d8202c"/><rect x="190.25" y="421.82" width="1.20" height="2.35" fill="#d8202c"/><rect x="191.40" y="421.82" width="1.20" height="2.35" fill="#cf7210"/><rect x="192.55" y="421.82" width="1.20" height="2.35" fill="#cf7210"/><rect x="193.70" y="421.82" width="1.20" height="2.35" fill="#d8202c"/><rect x="194.85" y="421.82" width="1.20" height="2.35" fill="#1e9a1e"/><rect x="196.00" y="421.82" width="1.20" height="2.35" fill="#1e9a1e"/><rect x="197.15" y="421.82" width="1.20" height="2.35" fill="#d8202c"/><rect x="198.30" y="421.82" width="1.20" height="2.35" fill="#1e9a1e"/><rect x="199.45" y="421.82" width="1.20" height="2.35" fill="#d8202c"/><rect x="200.60" y="421.82" width="1.15" height="2.35" fill="#8c288c"/><rect x="24.2" y="424.82" width="18.5" height="2.35" fill="#c0c0c0"/><rect x="24.2" y="424.82" width="2.2" height="2.35" fill="#aab2d6"/><rect x="48.8" y="424.82" width="49.1" height="2.35" fill="#c0c0c0"/><rect x="251.7" y="424.82" width="86.8" height="2.35" fill="#c0c0c0"/><rect x="97.90" y="424.82" width="1.20" height="2.35" fill="#cf7210"/><rect x="99.05" y="424.82" width="1.20" height="2.35" fill="#d8202c"/><rect x="100.20" y="424.82" width="1.20" height="2.35" fill="#2a32d8"/><rect x="101.35" y="424.82" width="1.20" height="2.35" fill="#d8202c"/><rect x="102.50" y="424.82" width="1.20" height="2.35" fill="#cf7210"/><rect x="103.65" y="424.82" width="1.20" height="2.35" fill="#cf7210"/><rect x="104.80" y="424.82" width="1.20" height="2.35" fill="#1e9a1e"/><rect x="105.95" y="424.82" width="1.20" height="2.35" fill="#d8202c"/><rect x="107.10" y="424.82" width="1.20" height="2.35" fill="#d8202c"/><rect x="108.25" y="424.82" width="1.20" height="2.35" fill="#2a32d8"/><rect x="109.40" y="424.82" width="1.20" height="2.35" fill="#cf7210"/><rect x="110.55" y="424.82" width="1.20" height="2.35" fill="#8c288c"/><rect x="111.70" y="424.82" width="1.20" height="2.35" fill="#1e9a1e"/><rect x="112.85" y="424.82" width="1.20" height="2.35" fill="#cf7210"/><rect x="114.00" y="424.82" width="1.20" height="2.35" fill="#2a32d8"/><rect x="115.15" y="424.82" width="1.20" height="2.35" fill="#1e9a1e"/><rect x="116.30" y="424.82" width="1.20" height="2.35" fill="#d8202c"/><rect x="117.45" y="424.82" width="1.20" height="2.35" fill="#d8202c"/><rect x="118.60" y="424.82" width="1.20" height="2.35" fill="#8c288c"/><rect x="119.75" y="424.82" width="1.20" height="2.35" fill="#8c288c"/><rect x="120.90" y="424.82" width="1.20" height="2.35" fill="#1e9a1e"/><rect x="122.05" y="424.82" width="1.20" height="2.35" fill="#8c288c"/><rect x="123.20" y="424.82" width="1.20" height="2.35" fill="#8c288c"/><rect x="124.35" y="424.82" width="1.20" height="2.35" fill="#1e9a1e"/><rect x="125.50" y="424.82" width="1.20" height="2.35" fill="#2a32d8"/><rect x="126.65" y="424.82" width="1.20" height="2.35" fill="#d8202c"/><rect x="127.80" y="424.82" width="1.20" height="2.35" fill="#cf7210"/><rect x="128.95" y="424.82" width="1.20" height="2.35" fill="#1e9a1e"/><rect x="130.10" y="424.82" width="1.20" height="2.35" fill="#d8202c"/><rect x="131.25" y="424.82" width="1.20" height="2.35" fill="#cf7210"/><rect x="132.40" y="424.82" width="1.20" height="2.35" fill="#2a32d8"/><rect x="133.55" y="424.82" width="1.20" height="2.35" fill="#cf7210"/><rect x="134.70" y="424.82" width="1.20" height="2.35" fill="#1e9a1e"/><rect x="135.85" y="424.82" width="1.20" height="2.35" fill="#cf7210"/><rect x="137.00" y="424.82" width="1.20" height="2.35" fill="#d8202c"/><rect x="138.15" y="424.82" width="1.20" height="2.35" fill="#1e9a1e"/><rect x="139.30" y="424.82" width="1.20" height="2.35" fill="#8c288c"/><rect x="140.45" y="424.82" width="1.20" height="2.35" fill="#2a32d8"/><rect x="141.60" y="424.82" width="1.20" height="2.35" fill="#cf7210"/><rect x="142.75" y="424.82" width="1.20" height="2.35" fill="#cf7210"/><rect x="143.90" y="424.82" width="1.20" height="2.35" fill="#2a32d8"/><rect x="145.05" y="424.82" width="1.20" height="2.35" fill="#8c288c"/><rect x="146.20" y="424.82" width="1.20" height="2.35" fill="#8c288c"/><rect x="147.35" y="424.82" width="1.20" height="2.35" fill="#d8202c"/><rect x="148.50" y="424.82" width="1.20" height="2.35" fill="#2a32d8"/><rect x="149.65" y="424.82" width="1.20" height="2.35" fill="#d8202c"/><rect x="150.80" y="424.82" width="1.20" height="2.35" fill="#d8202c"/><rect x="151.95" y="424.82" width="1.20" height="2.35" fill="#1e9a1e"/><rect x="153.10" y="424.82" width="1.20" height="2.35" fill="#2a32d8"/><rect x="154.25" y="424.82" width="1.20" height="2.35" fill="#8c288c"/><rect x="155.40" y="424.82" width="1.20" height="2.35" fill="#cf7210"/><rect x="156.55" y="424.82" width="1.20" height="2.35" fill="#1e9a1e"/><rect x="157.70" y="424.82" width="1.20" height="2.35" fill="#1e9a1e"/><rect x="158.85" y="424.82" width="1.20" height="2.35" fill="#d8202c"/><rect x="160.00" y="424.82" width="1.20" height="2.35" fill="#2a32d8"/><rect x="161.15" y="424.82" width="1.20" height="2.35" fill="#8c288c"/><rect x="162.30" y="424.82" width="1.20" height="2.35" fill="#8c288c"/><rect x="163.45" y="424.82" width="1.00" height="2.35" fill="#d8202c"/><rect x="24.2" y="427.82" width="17.0" height="2.35" fill="#c0c0c0"/><rect x="24.2" y="427.82" width="2.2" height="2.35" fill="#aab2d6"/><rect x="48.8" y="427.82" width="49.1" height="2.35" fill="#c0c0c0"/><rect x="256.5" y="427.82" width="82.0" height="2.35" fill="#c0c0c0"/><rect x="97.90" y="427.82" width="1.20" height="2.35" fill="#1e9a1e"/><rect x="99.05" y="427.82" width="1.20" height="2.35" fill="#8c288c"/><rect x="100.20" y="427.82" width="1.20" height="2.35" fill="#cf7210"/><rect x="101.35" y="427.82" width="1.20" height="2.35" fill="#cf7210"/><rect x="102.50" y="427.82" width="1.20" height="2.35" fill="#2a32d8"/><rect x="103.65" y="427.82" width="1.20" height="2.35" fill="#d8202c"/><rect x="104.80" y="427.82" width="1.20" height="2.35" fill="#2a32d8"/><rect x="105.95" y="427.82" width="1.20" height="2.35" fill="#cf7210"/><rect x="107.10" y="427.82" width="1.20" height="2.35" fill="#d8202c"/><rect x="108.25" y="427.82" width="1.20" height="2.35" fill="#1e9a1e"/><rect x="109.40" y="427.82" width="1.20" height="2.35" fill="#cf7210"/><rect x="110.55" y="427.82" width="1.20" height="2.35" fill="#1e9a1e"/><rect x="111.70" y="427.82" width="1.20" height="2.35" fill="#d8202c"/><rect x="112.85" y="427.82" width="1.20" height="2.35" fill="#1e9a1e"/><rect x="114.00" y="427.82" width="1.20" height="2.35" fill="#cf7210"/><rect x="115.15" y="427.82" width="1.20" height="2.35" fill="#cf7210"/><rect x="116.30" y="427.82" width="1.20" height="2.35" fill="#d8202c"/><rect x="117.45" y="427.82" width="1.20" height="2.35" fill="#cf7210"/><rect x="118.60" y="427.82" width="1.20" height="2.35" fill="#2a32d8"/><rect x="119.75" y="427.82" width="1.20" height="2.35" fill="#cf7210"/><rect x="120.90" y="427.82" width="1.20" height="2.35" fill="#8c288c"/><rect x="122.05" y="427.82" width="1.20" height="2.35" fill="#8c288c"/><rect x="123.20" y="427.82" width="1.20" height="2.35" fill="#1e9a1e"/><rect x="124.35" y="427.82" width="1.20" height="2.35" fill="#8c288c"/><rect x="125.50" y="427.82" width="1.20" height="2.35" fill="#8c288c"/><rect x="126.65" y="427.82" width="1.20" height="2.35" fill="#2a32d8"/><rect x="127.80" y="427.82" width="1.20" height="2.35" fill="#2a32d8"/><rect x="128.95" y="427.82" width="1.20" height="2.35" fill="#d8202c"/><rect x="130.10" y="427.82" width="1.20" height="2.35" fill="#1e9a1e"/><rect x="131.25" y="427.82" width="1.20" height="2.35" fill="#d8202c"/><rect x="132.40" y="427.82" width="1.20" height="2.35" fill="#cf7210"/><rect x="133.55" y="427.82" width="1.20" height="2.35" fill="#cf7210"/><rect x="134.70" y="427.82" width="1.20" height="2.35" fill="#d8202c"/><rect x="135.85" y="427.82" width="1.20" height="2.35" fill="#cf7210"/><rect x="137.00" y="427.82" width="1.20" height="2.35" fill="#cf7210"/><rect x="138.15" y="427.82" width="1.20" height="2.35" fill="#2a32d8"/><rect x="139.30" y="427.82" width="1.20" height="2.35" fill="#2a32d8"/><rect x="140.45" y="427.82" width="1.20" height="2.35" fill="#cf7210"/><rect x="141.60" y="427.82" width="1.20" height="2.35" fill="#2a32d8"/><rect x="142.75" y="427.82" width="1.20" height="2.35" fill="#2a32d8"/><rect x="143.90" y="427.82" width="1.20" height="2.35" fill="#2a32d8"/><rect x="145.05" y="427.82" width="1.20" height="2.35" fill="#2a32d8"/><rect x="146.20" y="427.82" width="1.20" height="2.35" fill="#1e9a1e"/><rect x="147.35" y="427.82" width="1.20" height="2.35" fill="#cf7210"/><rect x="148.50" y="427.82" width="1.20" height="2.35" fill="#d8202c"/><rect x="149.65" y="427.82" width="1.20" height="2.35" fill="#cf7210"/><rect x="150.80" y="427.82" width="1.20" height="2.35" fill="#cf7210"/><rect x="151.95" y="427.82" width="1.20" height="2.35" fill="#8c288c"/><rect x="153.10" y="427.82" width="1.20" height="2.35" fill="#2a32d8"/><rect x="154.25" y="427.82" width="1.20" height="2.35" fill="#8c288c"/><rect x="155.40" y="427.82" width="0.85" height="2.35" fill="#2a32d8"/><rect x="24.2" y="430.82" width="39.1" height="2.35" fill="#c0c0c0"/><rect x="24.2" y="430.82" width="2.2" height="2.35" fill="#aab2d6"/><rect x="65.2" y="430.82" width="129.4" height="2.35" fill="#c0c0c0"/><rect x="256.5" y="430.82" width="82.0" height="2.35" fill="#c0c0c0"/><rect x="24.2" y="433.82" width="30.4" height="2.35" fill="#c0c0c0"/><rect x="24.2" y="433.82" width="2.2" height="2.35" fill="#aab2d6"/><rect x="60.8" y="433.82" width="152.5" height="2.35" fill="#c0c0c0"/><rect x="283.7" y="433.82" width="54.8" height="2.35" fill="#c0c0c0"/><rect x="24.2" y="436.82" width="47.3" height="2.35" fill="#c0c0c0"/><rect x="24.2" y="436.82" width="2.2" height="2.35" fill="#aab2d6"/><rect x="88.3" y="436.82" width="81.3" height="2.35" fill="#c0c0c0"/><rect x="292.7" y="436.82" width="45.8" height="2.35" fill="#c0c0c0"/><rect x="24.2" y="439.82" width="14.1" height="2.35" fill="#c0c0c0"/><rect x="24.2" y="439.82" width="2.2" height="2.35" fill="#aab2d6"/><rect x="68.0" y="439.82" width="122.8" height="2.35" fill="#c0c0c0"/><rect x="296.8" y="439.82" width="41.7" height="2.35" fill="#c0c0c0"/><rect x="201.7" y="442.82" width="32.7" height="2.35" fill="#c0c0c0"/><rect x="300.9" y="442.82" width="37.6" height="2.35" fill="#c0c0c0"/><rect x="89.20" y="442.82" width="1.20" height="2.35" fill="#d8202c"/><rect x="90.35" y="442.82" width="1.20" height="2.35" fill="#cf7210"/><rect x="91.50" y="442.82" width="1.20" height="2.35" fill="#1e9a1e"/><rect x="92.65" y="442.82" width="1.20" height="2.35" fill="#2a32d8"/><rect x="93.80" y="442.82" width="1.20" height="2.35" fill="#1e9a1e"/><rect x="94.95" y="442.82" width="1.20" height="2.35" fill="#8c288c"/><rect x="96.10" y="442.82" width="1.20" height="2.35" fill="#2a32d8"/><rect x="97.25" y="442.82" width="1.20" height="2.35" fill="#d8202c"/><rect x="98.40" y="442.82" width="1.20" height="2.35" fill="#cf7210"/><rect x="99.55" y="442.82" width="1.20" height="2.35" fill="#d8202c"/><rect x="100.70" y="442.82" width="1.20" height="2.35" fill="#2a32d8"/><rect x="101.85" y="442.82" width="1.20" height="2.35" fill="#cf7210"/><rect x="103.00" y="442.82" width="1.20" height="2.35" fill="#d8202c"/><rect x="104.15" y="442.82" width="1.20" height="2.35" fill="#d8202c"/><rect x="105.30" y="442.82" width="1.20" height="2.35" fill="#2a32d8"/><rect x="106.45" y="442.82" width="1.20" height="2.35" fill="#d8202c"/><rect x="107.60" y="442.82" width="1.20" height="2.35" fill="#1e9a1e"/><rect x="108.75" y="442.82" width="1.20" height="2.35" fill="#cf7210"/><rect x="109.90" y="442.82" width="1.20" height="2.35" fill="#d8202c"/><rect x="111.05" y="442.82" width="1.20" height="2.35" fill="#cf7210"/><rect x="112.20" y="442.82" width="1.20" height="2.35" fill="#d8202c"/><rect x="113.35" y="442.82" width="1.20" height="2.35" fill="#2a32d8"/><rect x="114.50" y="442.82" width="1.20" height="2.35" fill="#1e9a1e"/><rect x="115.65" y="442.82" width="1.20" height="2.35" fill="#2a32d8"/><rect x="116.80" y="442.82" width="1.20" height="2.35" fill="#1e9a1e"/><rect x="117.95" y="442.82" width="1.20" height="2.35" fill="#d8202c"/><rect x="119.10" y="442.82" width="1.20" height="2.35" fill="#1e9a1e"/><rect x="120.25" y="442.82" width="1.20" height="2.35" fill="#8c288c"/><rect x="121.40" y="442.82" width="1.20" height="2.35" fill="#cf7210"/><rect x="122.55" y="442.82" width="1.20" height="2.35" fill="#2a32d8"/><rect x="123.70" y="442.82" width="1.20" height="2.35" fill="#2a32d8"/><rect x="124.85" y="442.82" width="1.20" height="2.35" fill="#d8202c"/><rect x="126.00" y="442.82" width="1.20" height="2.35" fill="#1e9a1e"/><rect x="127.15" y="442.82" width="1.20" height="2.35" fill="#d8202c"/><rect x="128.30" y="442.82" width="1.20" height="2.35" fill="#d8202c"/><rect x="129.45" y="442.82" width="1.20" height="2.35" fill="#1e9a1e"/><rect x="130.60" y="442.82" width="1.20" height="2.35" fill="#d8202c"/><rect x="131.75" y="442.82" width="1.20" height="2.35" fill="#1e9a1e"/><rect x="132.90" y="442.82" width="1.20" height="2.35" fill="#1e9a1e"/><rect x="134.05" y="442.82" width="1.20" height="2.35" fill="#2a32d8"/><rect x="135.20" y="442.82" width="1.20" height="2.35" fill="#cf7210"/><rect x="136.35" y="442.82" width="1.20" height="2.35" fill="#2a32d8"/><rect x="137.50" y="442.82" width="1.20" height="2.35" fill="#d8202c"/><rect x="138.65" y="442.82" width="1.20" height="2.35" fill="#d8202c"/><rect x="139.80" y="442.82" width="1.20" height="2.35" fill="#d8202c"/><rect x="140.95" y="442.82" width="1.20" height="2.35" fill="#2a32d8"/><rect x="142.10" y="442.82" width="1.20" height="2.35" fill="#d8202c"/><rect x="143.25" y="442.82" width="1.20" height="2.35" fill="#1e9a1e"/><rect x="144.40" y="442.82" width="1.20" height="2.35" fill="#2a32d8"/><rect x="145.55" y="442.82" width="1.20" height="2.35" fill="#d8202c"/><rect x="146.70" y="442.82" width="1.20" height="2.35" fill="#1e9a1e"/><rect x="147.85" y="442.82" width="1.20" height="2.35" fill="#1e9a1e"/><rect x="149.00" y="442.82" width="1.20" height="2.35" fill="#1e9a1e"/><rect x="150.15" y="442.82" width="1.20" height="2.35" fill="#cf7210"/><rect x="151.30" y="442.82" width="1.20" height="2.35" fill="#2a32d8"/><rect x="152.45" y="442.82" width="1.20" height="2.35" fill="#1e9a1e"/><rect x="153.60" y="442.82" width="1.20" height="2.35" fill="#8c288c"/><rect x="154.75" y="442.82" width="1.20" height="2.35" fill="#cf7210"/><rect x="155.90" y="442.82" width="1.20" height="2.35" fill="#2a32d8"/><rect x="157.05" y="442.82" width="1.20" height="2.35" fill="#8c288c"/><rect x="158.20" y="442.82" width="1.20" height="2.35" fill="#1e9a1e"/><rect x="159.35" y="442.82" width="1.20" height="2.35" fill="#8c288c"/><rect x="160.50" y="442.82" width="1.20" height="2.35" fill="#2a32d8"/><rect x="161.65" y="442.82" width="1.20" height="2.35" fill="#cf7210"/><rect x="162.80" y="442.82" width="1.20" height="2.35" fill="#1e9a1e"/><rect x="163.95" y="442.82" width="1.20" height="2.35" fill="#2a32d8"/><rect x="165.10" y="442.82" width="1.20" height="2.35" fill="#cf7210"/><rect x="166.25" y="442.82" width="1.20" height="2.35" fill="#2a32d8"/><rect x="167.40" y="442.82" width="1.20" height="2.35" fill="#d8202c"/><rect x="168.55" y="442.82" width="1.20" height="2.35" fill="#cf7210"/><rect x="169.70" y="442.82" width="1.20" height="2.35" fill="#cf7210"/><rect x="170.85" y="442.82" width="1.20" height="2.35" fill="#2a32d8"/><rect x="172.00" y="442.82" width="1.20" height="2.35" fill="#1e9a1e"/><rect x="173.15" y="442.82" width="1.20" height="2.35" fill="#8c288c"/><rect x="174.30" y="442.82" width="1.20" height="2.35" fill="#1e9a1e"/><rect x="175.45" y="442.82" width="1.20" height="2.35" fill="#1e9a1e"/><rect x="176.60" y="442.82" width="1.20" height="2.35" fill="#2a32d8"/><rect x="177.75" y="442.82" width="1.20" height="2.35" fill="#cf7210"/><rect x="178.90" y="442.82" width="1.20" height="2.35" fill="#cf7210"/><rect x="180.05" y="442.82" width="1.20" height="2.35" fill="#d8202c"/><rect x="181.20" y="442.82" width="1.20" height="2.35" fill="#d8202c"/><rect x="182.35" y="442.82" width="1.20" height="2.35" fill="#2a32d8"/><rect x="183.50" y="442.82" width="1.20" height="2.35" fill="#cf7210"/><rect x="184.65" y="442.82" width="1.20" height="2.35" fill="#cf7210"/><rect x="185.80" y="442.82" width="1.20" height="2.35" fill="#1e9a1e"/><rect x="186.95" y="442.82" width="1.20" height="2.35" fill="#cf7210"/><rect x="188.10" y="442.82" width="1.20" height="2.35" fill="#2a32d8"/><rect x="189.25" y="442.82" width="1.20" height="2.35" fill="#1e9a1e"/><rect x="190.40" y="442.82" width="1.20" height="2.35" fill="#2a32d8"/><rect x="191.55" y="442.82" width="1.20" height="2.35" fill="#d8202c"/><rect x="192.70" y="442.82" width="1.20" height="2.35" fill="#2a32d8"/><rect x="193.85" y="442.82" width="1.20" height="2.35" fill="#cf7210"/><rect x="195.00" y="442.82" width="1.20" height="2.35" fill="#1e9a1e"/><rect x="196.15" y="442.82" width="1.20" height="2.35" fill="#cf7210"/><rect x="197.30" y="442.82" width="1.20" height="2.35" fill="#2a32d8"/><rect x="198.45" y="442.82" width="1.20" height="2.35" fill="#cf7210"/><rect x="199.60" y="442.82" width="1.20" height="2.35" fill="#d8202c"/><rect x="200.75" y="442.82" width="1.00" height="2.35" fill="#8c288c"/><rect x="201.7" y="445.82" width="32.7" height="2.35" fill="#c0c0c0"/><rect x="322.0" y="445.82" width="16.5" height="2.35" fill="#c0c0c0"/><rect x="94.00" y="445.82" width="1.20" height="2.35" fill="#cf7210"/><rect x="95.15" y="445.82" width="1.20" height="2.35" fill="#1e9a1e"/><rect x="96.30" y="445.82" width="1.20" height="2.35" fill="#cf7210"/><rect x="97.45" y="445.82" width="1.20" height="2.35" fill="#1e9a1e"/><rect x="98.60" y="445.82" width="1.20" height="2.35" fill="#cf7210"/><rect x="99.75" y="445.82" width="1.20" height="2.35" fill="#d8202c"/><rect x="100.90" y="445.82" width="1.20" height="2.35" fill="#cf7210"/><rect x="102.05" y="445.82" width="1.20" height="2.35" fill="#d8202c"/><rect x="103.20" y="445.82" width="1.20" height="2.35" fill="#cf7210"/><rect x="104.35" y="445.82" width="1.20" height="2.35" fill="#cf7210"/><rect x="105.50" y="445.82" width="1.20" height="2.35" fill="#2a32d8"/><rect x="106.65" y="445.82" width="1.20" height="2.35" fill="#d8202c"/><rect x="107.80" y="445.82" width="1.20" height="2.35" fill="#d8202c"/><rect x="108.95" y="445.82" width="1.20" height="2.35" fill="#cf7210"/><rect x="110.10" y="445.82" width="1.20" height="2.35" fill="#cf7210"/><rect x="111.25" y="445.82" width="1.20" height="2.35" fill="#2a32d8"/><rect x="112.40" y="445.82" width="1.20" height="2.35" fill="#2a32d8"/><rect x="113.55" y="445.82" width="1.20" height="2.35" fill="#1e9a1e"/><rect x="114.70" y="445.82" width="1.20" height="2.35" fill="#1e9a1e"/><rect x="115.85" y="445.82" width="1.20" height="2.35" fill="#d8202c"/><rect x="117.00" y="445.82" width="1.20" height="2.35" fill="#8c288c"/><rect x="118.15" y="445.82" width="1.20" height="2.35" fill="#cf7210"/><rect x="119.30" y="445.82" width="1.20" height="2.35" fill="#8c288c"/><rect x="120.45" y="445.82" width="1.20" height="2.35" fill="#d8202c"/><rect x="121.60" y="445.82" width="1.20" height="2.35" fill="#d8202c"/><rect x="122.75" y="445.82" width="1.20" height="2.35" fill="#cf7210"/><rect x="123.90" y="445.82" width="1.20" height="2.35" fill="#cf7210"/><rect x="125.05" y="445.82" width="1.20" height="2.35" fill="#1e9a1e"/><rect x="126.20" y="445.82" width="1.20" height="2.35" fill="#2a32d8"/><rect x="127.35" y="445.82" width="1.20" height="2.35" fill="#d8202c"/><rect x="128.50" y="445.82" width="1.20" height="2.35" fill="#d8202c"/><rect x="129.65" y="445.82" width="1.20" height="2.35" fill="#8c288c"/><rect x="130.80" y="445.82" width="1.20" height="2.35" fill="#1e9a1e"/><rect x="131.95" y="445.82" width="1.20" height="2.35" fill="#8c288c"/><rect x="133.10" y="445.82" width="1.20" height="2.35" fill="#1e9a1e"/><rect x="134.25" y="445.82" width="1.20" height="2.35" fill="#2a32d8"/><rect x="135.40" y="445.82" width="1.20" height="2.35" fill="#2a32d8"/><rect x="136.55" y="445.82" width="1.20" height="2.35" fill="#2a32d8"/><rect x="137.70" y="445.82" width="1.20" height="2.35" fill="#2a32d8"/><rect x="138.85" y="445.82" width="1.20" height="2.35" fill="#cf7210"/><rect x="140.00" y="445.82" width="1.20" height="2.35" fill="#cf7210"/><rect x="141.15" y="445.82" width="1.20" height="2.35" fill="#8c288c"/><rect x="142.30" y="445.82" width="1.20" height="2.35" fill="#8c288c"/><rect x="143.45" y="445.82" width="1.20" height="2.35" fill="#2a32d8"/><rect x="144.60" y="445.82" width="1.20" height="2.35" fill="#2a32d8"/><rect x="145.75" y="445.82" width="1.20" height="2.35" fill="#d8202c"/><rect x="146.90" y="445.82" width="1.20" height="2.35" fill="#1e9a1e"/><rect x="148.05" y="445.82" width="1.20" height="2.35" fill="#8c288c"/><rect x="149.20" y="445.82" width="1.20" height="2.35" fill="#1e9a1e"/><rect x="150.35" y="445.82" width="1.20" height="2.35" fill="#d8202c"/><rect x="151.50" y="445.82" width="1.20" height="2.35" fill="#1e9a1e"/><rect x="152.65" y="445.82" width="1.20" height="2.35" fill="#d8202c"/><rect x="153.80" y="445.82" width="1.20" height="2.35" fill="#2a32d8"/><rect x="154.95" y="445.82" width="1.20" height="2.35" fill="#2a32d8"/><rect x="156.10" y="445.82" width="1.20" height="2.35" fill="#d8202c"/><rect x="157.25" y="445.82" width="1.20" height="2.35" fill="#d8202c"/><rect x="158.40" y="445.82" width="1.20" height="2.35" fill="#d8202c"/><rect x="159.55" y="445.82" width="1.20" height="2.35" fill="#d8202c"/><rect x="160.70" y="445.82" width="1.20" height="2.35" fill="#cf7210"/><rect x="161.85" y="445.82" width="1.20" height="2.35" fill="#d8202c"/><rect x="163.00" y="445.82" width="1.20" height="2.35" fill="#8c288c"/><rect x="164.15" y="445.82" width="1.20" height="2.35" fill="#2a32d8"/><rect x="165.30" y="445.82" width="1.20" height="2.35" fill="#2a32d8"/><rect x="166.45" y="445.82" width="1.20" height="2.35" fill="#8c288c"/><rect x="167.60" y="445.82" width="1.20" height="2.35" fill="#cf7210"/><rect x="168.75" y="445.82" width="1.20" height="2.35" fill="#d8202c"/><rect x="169.90" y="445.82" width="1.20" height="2.35" fill="#1e9a1e"/><rect x="171.05" y="445.82" width="1.20" height="2.35" fill="#d8202c"/><rect x="172.20" y="445.82" width="1.20" height="2.35" fill="#1e9a1e"/><rect x="173.35" y="445.82" width="1.20" height="2.35" fill="#1e9a1e"/><rect x="174.50" y="445.82" width="1.20" height="2.35" fill="#1e9a1e"/><rect x="175.65" y="445.82" width="1.20" height="2.35" fill="#cf7210"/><rect x="176.80" y="445.82" width="1.20" height="2.35" fill="#d8202c"/><rect x="177.95" y="445.82" width="1.20" height="2.35" fill="#1e9a1e"/><rect x="179.10" y="445.82" width="1.20" height="2.35" fill="#2a32d8"/><rect x="180.25" y="445.82" width="1.20" height="2.35" fill="#d8202c"/><rect x="181.40" y="445.82" width="1.20" height="2.35" fill="#cf7210"/><rect x="182.55" y="445.82" width="1.20" height="2.35" fill="#d8202c"/><rect x="183.70" y="445.82" width="1.20" height="2.35" fill="#cf7210"/><rect x="184.85" y="445.82" width="1.20" height="2.35" fill="#d8202c"/><rect x="186.00" y="445.82" width="1.20" height="2.35" fill="#d8202c"/><rect x="187.15" y="445.82" width="1.20" height="2.35" fill="#1e9a1e"/><rect x="188.30" y="445.82" width="1.20" height="2.35" fill="#1e9a1e"/><rect x="189.45" y="445.82" width="1.20" height="2.35" fill="#d8202c"/><rect x="190.60" y="445.82" width="1.20" height="2.35" fill="#2a32d8"/><rect x="191.75" y="445.82" width="1.20" height="2.35" fill="#8c288c"/><rect x="192.90" y="445.82" width="1.20" height="2.35" fill="#8c288c"/><rect x="194.05" y="445.82" width="1.20" height="2.35" fill="#cf7210"/><rect x="195.20" y="445.82" width="1.20" height="2.35" fill="#d8202c"/><rect x="196.35" y="445.82" width="1.20" height="2.35" fill="#cf7210"/><rect x="197.50" y="445.82" width="1.20" height="2.35" fill="#d8202c"/><rect x="198.65" y="445.82" width="1.20" height="2.35" fill="#cf7210"/><rect x="199.80" y="445.82" width="1.20" height="2.35" fill="#2a32d8"/><rect x="200.95" y="445.82" width="0.80" height="2.35" fill="#2a32d8"/><rect x="24.2" y="448.82" width="73.7" height="2.35" fill="#c0c0c0"/><rect x="24.2" y="448.82" width="2.2" height="2.35" fill="#aab2d6"/><rect x="201.7" y="448.82" width="47.1" height="2.35" fill="#c0c0c0"/><rect x="327.0" y="448.82" width="11.5" height="2.35" fill="#c0c0c0"/><rect x="97.90" y="448.82" width="1.20" height="2.35" fill="#d8202c"/><rect x="99.05" y="448.82" width="1.20" height="2.35" fill="#1e9a1e"/><rect x="100.20" y="448.82" width="1.20" height="2.35" fill="#1e9a1e"/><rect x="101.35" y="448.82" width="1.20" height="2.35" fill="#2a32d8"/><rect x="102.50" y="448.82" width="1.20" height="2.35" fill="#d8202c"/><rect x="112.30" y="448.82" width="1.20" height="2.35" fill="#1e9a1e"/><rect x="113.45" y="448.82" width="1.20" height="2.35" fill="#1e9a1e"/><rect x="114.60" y="448.82" width="1.20" height="2.35" fill="#1e9a1e"/><rect x="115.75" y="448.82" width="1.20" height="2.35" fill="#d8202c"/><rect x="116.90" y="448.82" width="1.20" height="2.35" fill="#cf7210"/><rect x="118.05" y="448.82" width="1.20" height="2.35" fill="#8c288c"/><rect x="119.20" y="448.82" width="1.20" height="2.35" fill="#1e9a1e"/><rect x="120.35" y="448.82" width="1.20" height="2.35" fill="#1e9a1e"/><rect x="121.50" y="448.82" width="1.20" height="2.35" fill="#8c288c"/><rect x="122.65" y="448.82" width="1.20" height="2.35" fill="#8c288c"/><rect x="123.80" y="448.82" width="1.20" height="2.35" fill="#1e9a1e"/><rect x="124.95" y="448.82" width="1.20" height="2.35" fill="#d8202c"/><rect x="126.10" y="448.82" width="1.20" height="2.35" fill="#2a32d8"/><rect x="127.25" y="448.82" width="1.20" height="2.35" fill="#d8202c"/><rect x="128.40" y="448.82" width="1.20" height="2.35" fill="#1e9a1e"/><rect x="129.55" y="448.82" width="1.20" height="2.35" fill="#d8202c"/><rect x="130.70" y="448.82" width="1.20" height="2.35" fill="#8c288c"/><rect x="131.85" y="448.82" width="1.20" height="2.35" fill="#cf7210"/><rect x="133.00" y="448.82" width="1.20" height="2.35" fill="#2a32d8"/><rect x="134.15" y="448.82" width="1.20" height="2.35" fill="#d8202c"/><rect x="135.30" y="448.82" width="1.20" height="2.35" fill="#1e9a1e"/><rect x="136.45" y="448.82" width="1.20" height="2.35" fill="#8c288c"/><rect x="137.60" y="448.82" width="1.20" height="2.35" fill="#cf7210"/><rect x="138.75" y="448.82" width="1.20" height="2.35" fill="#2a32d8"/><rect x="139.90" y="448.82" width="1.20" height="2.35" fill="#d8202c"/><rect x="141.05" y="448.82" width="1.20" height="2.35" fill="#1e9a1e"/><rect x="142.20" y="448.82" width="1.20" height="2.35" fill="#1e9a1e"/><rect x="143.35" y="448.82" width="1.20" height="2.35" fill="#2a32d8"/><rect x="144.50" y="448.82" width="1.20" height="2.35" fill="#cf7210"/><rect x="145.65" y="448.82" width="1.20" height="2.35" fill="#cf7210"/><rect x="146.80" y="448.82" width="1.20" height="2.35" fill="#1e9a1e"/><rect x="147.95" y="448.82" width="1.20" height="2.35" fill="#1e9a1e"/><rect x="149.10" y="448.82" width="1.20" height="2.35" fill="#8c288c"/><rect x="150.25" y="448.82" width="1.20" height="2.35" fill="#8c288c"/><rect x="151.40" y="448.82" width="1.20" height="2.35" fill="#1e9a1e"/><rect x="152.55" y="448.82" width="1.20" height="2.35" fill="#2a32d8"/><rect x="153.70" y="448.82" width="1.20" height="2.35" fill="#d8202c"/><rect x="154.85" y="448.82" width="1.20" height="2.35" fill="#d8202c"/><rect x="156.00" y="448.82" width="1.20" height="2.35" fill="#1e9a1e"/><rect x="157.15" y="448.82" width="1.20" height="2.35" fill="#1e9a1e"/><rect x="158.30" y="448.82" width="1.20" height="2.35" fill="#d8202c"/><rect x="159.45" y="448.82" width="1.20" height="2.35" fill="#8c288c"/><rect x="160.60" y="448.82" width="1.20" height="2.35" fill="#2a32d8"/><rect x="161.75" y="448.82" width="1.20" height="2.35" fill="#d8202c"/><rect x="162.90" y="448.82" width="1.20" height="2.35" fill="#d8202c"/><rect x="164.05" y="448.82" width="1.20" height="2.35" fill="#cf7210"/><rect x="165.20" y="448.82" width="1.20" height="2.35" fill="#d8202c"/><rect x="166.35" y="448.82" width="1.20" height="2.35" fill="#1e9a1e"/><rect x="167.50" y="448.82" width="1.20" height="2.35" fill="#2a32d8"/><rect x="168.65" y="448.82" width="1.20" height="2.35" fill="#2a32d8"/><rect x="169.80" y="448.82" width="1.20" height="2.35" fill="#1e9a1e"/><rect x="170.95" y="448.82" width="1.20" height="2.35" fill="#cf7210"/><rect x="172.10" y="448.82" width="1.20" height="2.35" fill="#2a32d8"/><rect x="173.25" y="448.82" width="1.20" height="2.35" fill="#2a32d8"/><rect x="174.40" y="448.82" width="1.20" height="2.35" fill="#d8202c"/><rect x="175.55" y="448.82" width="1.20" height="2.35" fill="#cf7210"/><rect x="176.70" y="448.82" width="1.20" height="2.35" fill="#cf7210"/><rect x="177.85" y="448.82" width="1.20" height="2.35" fill="#d8202c"/><rect x="179.00" y="448.82" width="1.20" height="2.35" fill="#cf7210"/><rect x="180.15" y="448.82" width="1.20" height="2.35" fill="#8c288c"/><rect x="181.30" y="448.82" width="1.20" height="2.35" fill="#cf7210"/><rect x="182.45" y="448.82" width="1.20" height="2.35" fill="#cf7210"/><rect x="183.60" y="448.82" width="1.20" height="2.35" fill="#d8202c"/><rect x="184.75" y="448.82" width="1.20" height="2.35" fill="#1e9a1e"/><rect x="185.90" y="448.82" width="1.20" height="2.35" fill="#d8202c"/><rect x="187.05" y="448.82" width="1.20" height="2.35" fill="#d8202c"/><rect x="188.20" y="448.82" width="1.20" height="2.35" fill="#d8202c"/><rect x="189.35" y="448.82" width="1.20" height="2.35" fill="#2a32d8"/><rect x="190.50" y="448.82" width="1.20" height="2.35" fill="#1e9a1e"/><rect x="191.65" y="448.82" width="1.20" height="2.35" fill="#d8202c"/><rect x="192.80" y="448.82" width="1.20" height="2.35" fill="#2a32d8"/><rect x="193.95" y="448.82" width="1.20" height="2.35" fill="#cf7210"/><rect x="195.10" y="448.82" width="1.20" height="2.35" fill="#1e9a1e"/><rect x="196.25" y="448.82" width="1.20" height="2.35" fill="#cf7210"/><rect x="197.40" y="448.82" width="1.20" height="2.35" fill="#2a32d8"/><rect x="198.55" y="448.82" width="1.20" height="2.35" fill="#1e9a1e"/><rect x="199.70" y="448.82" width="1.20" height="2.35" fill="#8c288c"/><rect x="200.85" y="448.82" width="0.90" height="2.35" fill="#2a32d8"/><rect x="24.2" y="451.82" width="43.8" height="2.35" fill="#c0c0c0"/><rect x="24.2" y="451.82" width="2.2" height="2.35" fill="#aab2d6"/><rect x="115.8" y="451.82" width="166.2" height="2.35" fill="#c0c0c0"/><rect x="330.3" y="451.82" width="8.2" height="2.35" fill="#c0c0c0"/><rect x="24.2" y="454.82" width="50.0" height="2.35" fill="#c0c0c0"/><rect x="24.2" y="454.82" width="2.2" height="2.35" fill="#aab2d6"/><rect x="121.5" y="454.82" width="98.5" height="2.35" fill="#c0c0c0"/><rect x="24.2" y="457.82" width="35.8" height="2.35" fill="#c0c0c0"/><rect x="24.2" y="457.82" width="2.2" height="2.35" fill="#aab2d6"/><rect x="125.4" y="457.82" width="148.1" height="2.35" fill="#c0c0c0"/><rect x="24.2" y="460.82" width="11.2" height="2.35" fill="#c0c0c0"/><rect x="24.2" y="460.82" width="2.2" height="2.35" fill="#aab2d6"/><rect x="201.7" y="460.82" width="57.7" height="2.35" fill="#c0c0c0"/><rect x="152.30" y="460.82" width="1.20" height="2.35" fill="#8c288c"/><rect x="153.45" y="460.82" width="1.20" height="2.35" fill="#8c288c"/><rect x="154.60" y="460.82" width="1.20" height="2.35" fill="#8c288c"/><rect x="155.75" y="460.82" width="1.20" height="2.35" fill="#cf7210"/><rect x="156.90" y="460.82" width="1.20" height="2.35" fill="#1e9a1e"/><rect x="158.05" y="460.82" width="1.20" height="2.35" fill="#2a32d8"/><rect x="159.20" y="460.82" width="1.20" height="2.35" fill="#cf7210"/><rect x="160.35" y="460.82" width="1.20" height="2.35" fill="#2a32d8"/><rect x="161.50" y="460.82" width="1.20" height="2.35" fill="#1e9a1e"/><rect x="162.65" y="460.82" width="1.20" height="2.35" fill="#d8202c"/><rect x="163.80" y="460.82" width="1.20" height="2.35" fill="#2a32d8"/><rect x="164.95" y="460.82" width="1.20" height="2.35" fill="#2a32d8"/><rect x="166.10" y="460.82" width="1.20" height="2.35" fill="#8c288c"/><rect x="167.25" y="460.82" width="1.20" height="2.35" fill="#d8202c"/><rect x="168.40" y="460.82" width="1.20" height="2.35" fill="#cf7210"/><rect x="169.55" y="460.82" width="1.20" height="2.35" fill="#cf7210"/><rect x="170.70" y="460.82" width="1.20" height="2.35" fill="#2a32d8"/><rect x="171.85" y="460.82" width="1.20" height="2.35" fill="#d8202c"/><rect x="173.00" y="460.82" width="1.20" height="2.35" fill="#cf7210"/><rect x="174.15" y="460.82" width="1.20" height="2.35" fill="#d8202c"/><rect x="175.30" y="460.82" width="1.20" height="2.35" fill="#2a32d8"/><rect x="176.45" y="460.82" width="1.20" height="2.35" fill="#1e9a1e"/><rect x="177.60" y="460.82" width="1.20" height="2.35" fill="#d8202c"/><rect x="178.75" y="460.82" width="1.20" height="2.35" fill="#d8202c"/><rect x="179.90" y="460.82" width="1.20" height="2.35" fill="#1e9a1e"/><rect x="181.05" y="460.82" width="1.20" height="2.35" fill="#2a32d8"/><rect x="182.20" y="460.82" width="1.20" height="2.35" fill="#cf7210"/><rect x="183.35" y="460.82" width="1.20" height="2.35" fill="#1e9a1e"/><rect x="184.50" y="460.82" width="1.20" height="2.35" fill="#d8202c"/><rect x="185.65" y="460.82" width="1.20" height="2.35" fill="#8c288c"/><rect x="186.80" y="460.82" width="1.20" height="2.35" fill="#2a32d8"/><rect x="187.95" y="460.82" width="1.20" height="2.35" fill="#2a32d8"/><rect x="189.10" y="460.82" width="1.20" height="2.35" fill="#1e9a1e"/><rect x="190.25" y="460.82" width="1.20" height="2.35" fill="#1e9a1e"/><rect x="191.40" y="460.82" width="1.20" height="2.35" fill="#1e9a1e"/><rect x="192.55" y="460.82" width="1.20" height="2.35" fill="#8c288c"/><rect x="193.70" y="460.82" width="1.20" height="2.35" fill="#1e9a1e"/><rect x="194.85" y="460.82" width="1.20" height="2.35" fill="#cf7210"/><rect x="196.00" y="460.82" width="1.20" height="2.35" fill="#2a32d8"/><rect x="197.15" y="460.82" width="1.20" height="2.35" fill="#cf7210"/><rect x="198.30" y="460.82" width="1.20" height="2.35" fill="#2a32d8"/><rect x="199.45" y="460.82" width="1.20" height="2.35" fill="#2a32d8"/><rect x="200.60" y="460.82" width="1.15" height="2.35" fill="#8c288c"/><rect x="24.2" y="463.82" width="64.1" height="2.35" fill="#c0c0c0"/><rect x="24.2" y="463.82" width="2.2" height="2.35" fill="#aab2d6"/><rect x="154.2" y="463.82" width="63.8" height="2.35" fill="#c0c0c0"/><rect x="24.2" y="466.82" width="73.7" height="2.35" fill="#c0c0c0"/><rect x="24.2" y="466.82" width="2.2" height="2.35" fill="#aab2d6"/><rect x="97.90" y="466.82" width="1.20" height="2.35" fill="#1e9a1e"/><rect x="99.05" y="466.82" width="1.20" height="2.35" fill="#cf7210"/><rect x="100.20" y="466.82" width="1.20" height="2.35" fill="#d8202c"/><rect x="101.35" y="466.82" width="1.20" height="2.35" fill="#cf7210"/><rect x="102.50" y="466.82" width="1.20" height="2.35" fill="#2a32d8"/><rect x="103.65" y="466.82" width="1.20" height="2.35" fill="#d8202c"/><rect x="104.80" y="466.82" width="1.20" height="2.35" fill="#d8202c"/><rect x="105.95" y="466.82" width="1.20" height="2.35" fill="#d8202c"/><rect x="107.10" y="466.82" width="1.20" height="2.35" fill="#1e9a1e"/><rect x="108.25" y="466.82" width="1.20" height="2.35" fill="#d8202c"/><rect x="109.40" y="466.82" width="1.20" height="2.35" fill="#1e9a1e"/><rect x="110.55" y="466.82" width="1.20" height="2.35" fill="#d8202c"/><rect x="111.70" y="466.82" width="1.20" height="2.35" fill="#cf7210"/><rect x="112.85" y="466.82" width="1.20" height="2.35" fill="#2a32d8"/><rect x="114.00" y="466.82" width="1.20" height="2.35" fill="#1e9a1e"/><rect x="115.15" y="466.82" width="1.20" height="2.35" fill="#2a32d8"/><rect x="116.30" y="466.82" width="1.20" height="2.35" fill="#1e9a1e"/><rect x="117.45" y="466.82" width="1.20" height="2.35" fill="#d8202c"/><rect x="118.60" y="466.82" width="1.20" height="2.35" fill="#2a32d8"/><rect x="119.75" y="466.82" width="1.20" height="2.35" fill="#2a32d8"/><rect x="120.90" y="466.82" width="1.20" height="2.35" fill="#2a32d8"/><rect x="122.05" y="466.82" width="1.20" height="2.35" fill="#cf7210"/><rect x="123.20" y="466.82" width="1.20" height="2.35" fill="#1e9a1e"/><rect x="124.35" y="466.82" width="1.20" height="2.35" fill="#cf7210"/><rect x="125.50" y="466.82" width="1.20" height="2.35" fill="#2a32d8"/><rect x="126.65" y="466.82" width="1.20" height="2.35" fill="#8c288c"/><rect x="127.80" y="466.82" width="1.20" height="2.35" fill="#d8202c"/><rect x="128.95" y="466.82" width="1.20" height="2.35" fill="#1e9a1e"/><rect x="130.10" y="466.82" width="1.15" height="2.35" fill="#d8202c"/><rect x="24.2" y="469.82" width="13.1" height="2.35" fill="#c0c0c0"/><rect x="24.2" y="469.82" width="2.2" height="2.35" fill="#aab2d6"/><rect x="24.2" y="472.82" width="73.7" height="2.35" fill="#c0c0c0"/><rect x="24.2" y="472.82" width="2.2" height="2.35" fill="#aab2d6"/><rect x="97.90" y="472.82" width="1.20" height="2.35" fill="#cf7210"/><rect x="99.05" y="472.82" width="1.20" height="2.35" fill="#8c288c"/><rect x="100.20" y="472.82" width="1.20" height="2.35" fill="#cf7210"/><rect x="101.35" y="472.82" width="1.20" height="2.35" fill="#d8202c"/><rect x="102.50" y="472.82" width="1.20" height="2.35" fill="#1e9a1e"/><rect x="103.65" y="472.82" width="1.20" height="2.35" fill="#cf7210"/><rect x="104.80" y="472.82" width="1.20" height="2.35" fill="#d8202c"/><rect x="105.95" y="472.82" width="1.20" height="2.35" fill="#2a32d8"/><rect x="107.10" y="472.82" width="1.20" height="2.35" fill="#cf7210"/><rect x="108.25" y="472.82" width="1.20" height="2.35" fill="#1e9a1e"/><rect x="109.40" y="472.82" width="1.20" height="2.35" fill="#8c288c"/><rect x="110.55" y="472.82" width="1.20" height="2.35" fill="#1e9a1e"/><rect x="111.70" y="472.82" width="1.20" height="2.35" fill="#1e9a1e"/><rect x="112.85" y="472.82" width="1.20" height="2.35" fill="#d8202c"/><rect x="114.00" y="472.82" width="1.20" height="2.35" fill="#2a32d8"/><rect x="115.15" y="472.82" width="1.20" height="2.35" fill="#1e9a1e"/><rect x="116.30" y="472.82" width="1.20" height="2.35" fill="#d8202c"/><rect x="117.45" y="472.82" width="1.20" height="2.35" fill="#2a32d8"/><rect x="118.60" y="472.82" width="1.20" height="2.35" fill="#cf7210"/><rect x="119.75" y="472.82" width="1.20" height="2.35" fill="#d8202c"/><rect x="120.90" y="472.82" width="1.20" height="2.35" fill="#2a32d8"/><rect x="122.05" y="472.82" width="1.20" height="2.35" fill="#2a32d8"/><rect x="123.20" y="472.82" width="1.20" height="2.35" fill="#cf7210"/><rect x="124.35" y="472.82" width="1.20" height="2.35" fill="#8c288c"/><rect x="125.50" y="472.82" width="1.20" height="2.35" fill="#cf7210"/><rect x="126.65" y="472.82" width="1.20" height="2.35" fill="#1e9a1e"/><rect x="127.80" y="472.82" width="1.20" height="2.35" fill="#cf7210"/><rect x="128.95" y="472.82" width="1.20" height="2.35" fill="#cf7210"/><rect x="130.10" y="472.82" width="1.15" height="2.35" fill="#1e9a1e"/><rect x="201.7" y="475.82" width="4.8" height="2.35" fill="#c0c0c0"/><rect x="24.20" y="475.82" width="1.20" height="2.35" fill="#d8202c"/><rect x="25.35" y="475.82" width="1.20" height="2.35" fill="#1e9a1e"/><rect x="26.50" y="475.82" width="1.20" height="2.35" fill="#cf7210"/><rect x="27.65" y="475.82" width="1.20" height="2.35" fill="#d8202c"/><rect x="28.80" y="475.82" width="1.20" height="2.35" fill="#cf7210"/><rect x="29.95" y="475.82" width="1.20" height="2.35" fill="#d8202c"/><rect x="31.10" y="475.82" width="1.20" height="2.35" fill="#2a32d8"/><rect x="32.25" y="475.82" width="1.20" height="2.35" fill="#1e9a1e"/><rect x="33.40" y="475.82" width="1.20" height="2.35" fill="#2a32d8"/><rect x="34.55" y="475.82" width="1.20" height="2.35" fill="#1e9a1e"/><rect x="35.70" y="475.82" width="1.20" height="2.35" fill="#1e9a1e"/><rect x="36.85" y="475.82" width="1.20" height="2.35" fill="#1e9a1e"/><rect x="38.00" y="475.82" width="1.20" height="2.35" fill="#d8202c"/><rect x="39.15" y="475.82" width="1.20" height="2.35" fill="#2a32d8"/><rect x="40.30" y="475.82" width="1.20" height="2.35" fill="#8c288c"/><rect x="41.45" y="475.82" width="1.20" height="2.35" fill="#1e9a1e"/><rect x="42.60" y="475.82" width="1.20" height="2.35" fill="#cf7210"/><rect x="43.75" y="475.82" width="1.20" height="2.35" fill="#d8202c"/><rect x="44.90" y="475.82" width="1.20" height="2.35" fill="#1e9a1e"/><rect x="46.05" y="475.82" width="1.20" height="2.35" fill="#cf7210"/><rect x="47.20" y="475.82" width="1.20" height="2.35" fill="#1e9a1e"/><rect x="48.35" y="475.82" width="1.20" height="2.35" fill="#1e9a1e"/><rect x="49.50" y="475.82" width="1.20" height="2.35" fill="#d8202c"/><rect x="50.65" y="475.82" width="1.20" height="2.35" fill="#8c288c"/><rect x="51.80" y="475.82" width="1.20" height="2.35" fill="#1e9a1e"/><rect x="52.95" y="475.82" width="1.20" height="2.35" fill="#d8202c"/><rect x="54.10" y="475.82" width="1.20" height="2.35" fill="#d8202c"/><rect x="55.25" y="475.82" width="1.20" height="2.35" fill="#d8202c"/><rect x="56.40" y="475.82" width="1.20" height="2.35" fill="#1e9a1e"/><rect x="57.55" y="475.82" width="1.20" height="2.35" fill="#2a32d8"/><rect x="58.70" y="475.82" width="1.20" height="2.35" fill="#d8202c"/><rect x="59.85" y="475.82" width="1.20" height="2.35" fill="#d8202c"/><rect x="61.00" y="475.82" width="1.20" height="2.35" fill="#8c288c"/><rect x="62.15" y="475.82" width="1.20" height="2.35" fill="#cf7210"/><rect x="63.30" y="475.82" width="1.20" height="2.35" fill="#2a32d8"/><rect x="64.45" y="475.82" width="1.20" height="2.35" fill="#cf7210"/><rect x="65.60" y="475.82" width="1.20" height="2.35" fill="#d8202c"/><rect x="66.75" y="475.82" width="1.20" height="2.35" fill="#1e9a1e"/><rect x="67.90" y="475.82" width="1.20" height="2.35" fill="#2a32d8"/><rect x="69.05" y="475.82" width="1.20" height="2.35" fill="#d8202c"/><rect x="70.20" y="475.82" width="1.20" height="2.35" fill="#1e9a1e"/><rect x="71.35" y="475.82" width="1.20" height="2.35" fill="#d8202c"/><rect x="72.50" y="475.82" width="1.20" height="2.35" fill="#d8202c"/><rect x="73.65" y="475.82" width="1.20" height="2.35" fill="#d8202c"/><rect x="74.80" y="475.82" width="1.20" height="2.35" fill="#1e9a1e"/><rect x="75.95" y="475.82" width="1.20" height="2.35" fill="#d8202c"/><rect x="77.10" y="475.82" width="1.20" height="2.35" fill="#d8202c"/><rect x="78.25" y="475.82" width="1.20" height="2.35" fill="#1e9a1e"/><rect x="79.40" y="475.82" width="1.20" height="2.35" fill="#1e9a1e"/><rect x="80.55" y="475.82" width="1.20" height="2.35" fill="#d8202c"/><rect x="81.70" y="475.82" width="1.20" height="2.35" fill="#cf7210"/><rect x="82.85" y="475.82" width="1.20" height="2.35" fill="#8c288c"/><rect x="84.00" y="475.82" width="1.20" height="2.35" fill="#2a32d8"/><rect x="85.15" y="475.82" width="1.20" height="2.35" fill="#cf7210"/><rect x="86.30" y="475.82" width="1.20" height="2.35" fill="#cf7210"/><rect x="87.45" y="475.82" width="1.20" height="2.35" fill="#8c288c"/><rect x="88.60" y="475.82" width="1.20" height="2.35" fill="#d8202c"/><rect x="89.75" y="475.82" width="1.20" height="2.35" fill="#d8202c"/><rect x="90.90" y="475.82" width="1.20" height="2.35" fill="#8c288c"/><rect x="92.05" y="475.82" width="1.20" height="2.35" fill="#1e9a1e"/><rect x="93.20" y="475.82" width="1.20" height="2.35" fill="#d8202c"/><rect x="94.35" y="475.82" width="1.20" height="2.35" fill="#2a32d8"/><rect x="95.50" y="475.82" width="1.20" height="2.35" fill="#8c288c"/><rect x="96.65" y="475.82" width="1.20" height="2.35" fill="#cf7210"/><rect x="97.80" y="475.82" width="1.20" height="2.35" fill="#d8202c"/><rect x="98.95" y="475.82" width="1.20" height="2.35" fill="#cf7210"/><rect x="100.10" y="475.82" width="1.20" height="2.35" fill="#1e9a1e"/><rect x="101.25" y="475.82" width="1.20" height="2.35" fill="#2a32d8"/><rect x="102.40" y="475.82" width="1.20" height="2.35" fill="#d8202c"/><rect x="103.55" y="475.82" width="1.20" height="2.35" fill="#2a32d8"/><rect x="104.70" y="475.82" width="1.20" height="2.35" fill="#8c288c"/><rect x="105.85" y="475.82" width="1.20" height="2.35" fill="#8c288c"/><rect x="107.00" y="475.82" width="1.20" height="2.35" fill="#8c288c"/><rect x="108.15" y="475.82" width="1.20" height="2.35" fill="#1e9a1e"/><rect x="109.30" y="475.82" width="1.20" height="2.35" fill="#cf7210"/><rect x="110.45" y="475.82" width="1.20" height="2.35" fill="#2a32d8"/><rect x="111.60" y="475.82" width="1.20" height="2.35" fill="#d8202c"/><rect x="112.75" y="475.82" width="1.20" height="2.35" fill="#1e9a1e"/><rect x="113.90" y="475.82" width="1.20" height="2.35" fill="#2a32d8"/><rect x="115.05" y="475.82" width="1.20" height="2.35" fill="#2a32d8"/><rect x="116.20" y="475.82" width="1.20" height="2.35" fill="#2a32d8"/><rect x="117.35" y="475.82" width="1.20" height="2.35" fill="#2a32d8"/><rect x="118.50" y="475.82" width="1.20" height="2.35" fill="#1e9a1e"/><rect x="119.65" y="475.82" width="1.20" height="2.35" fill="#cf7210"/><rect x="120.80" y="475.82" width="1.20" height="2.35" fill="#1e9a1e"/><rect x="121.95" y="475.82" width="1.20" height="2.35" fill="#d8202c"/><rect x="123.10" y="475.82" width="1.20" height="2.35" fill="#d8202c"/><rect x="124.25" y="475.82" width="1.20" height="2.35" fill="#d8202c"/><rect x="125.40" y="475.82" width="1.20" height="2.35" fill="#2a32d8"/><rect x="126.55" y="475.82" width="1.20" height="2.35" fill="#cf7210"/><rect x="127.70" y="475.82" width="1.20" height="2.35" fill="#cf7210"/><rect x="128.85" y="475.82" width="1.20" height="2.35" fill="#cf7210"/><rect x="130.00" y="475.82" width="1.20" height="2.35" fill="#1e9a1e"/><rect x="131.15" y="475.82" width="1.20" height="2.35" fill="#d8202c"/><rect x="132.30" y="475.82" width="1.20" height="2.35" fill="#8c288c"/><rect x="133.45" y="475.82" width="1.20" height="2.35" fill="#1e9a1e"/><rect x="134.60" y="475.82" width="1.20" height="2.35" fill="#1e9a1e"/><rect x="135.75" y="475.82" width="1.20" height="2.35" fill="#1e9a1e"/><rect x="136.90" y="475.82" width="1.20" height="2.35" fill="#cf7210"/><rect x="138.05" y="475.82" width="1.20" height="2.35" fill="#d8202c"/><rect x="139.20" y="475.82" width="1.20" height="2.35" fill="#8c288c"/><rect x="140.35" y="475.82" width="1.20" height="2.35" fill="#d8202c"/><rect x="141.50" y="475.82" width="1.20" height="2.35" fill="#cf7210"/><rect x="142.65" y="475.82" width="1.20" height="2.35" fill="#d8202c"/><rect x="143.80" y="475.82" width="1.20" height="2.35" fill="#cf7210"/><rect x="144.95" y="475.82" width="1.20" height="2.35" fill="#2a32d8"/><rect x="146.10" y="475.82" width="1.20" height="2.35" fill="#d8202c"/><rect x="147.25" y="475.82" width="1.20" height="2.35" fill="#cf7210"/><rect x="148.40" y="475.82" width="1.20" height="2.35" fill="#d8202c"/><rect x="149.55" y="475.82" width="1.20" height="2.35" fill="#8c288c"/><rect x="150.70" y="475.82" width="1.20" height="2.35" fill="#1e9a1e"/><rect x="151.85" y="475.82" width="1.20" height="2.35" fill="#d8202c"/><rect x="153.00" y="475.82" width="1.20" height="2.35" fill="#2a32d8"/><rect x="154.15" y="475.82" width="1.20" height="2.35" fill="#1e9a1e"/><rect x="155.30" y="475.82" width="1.20" height="2.35" fill="#8c288c"/><rect x="156.45" y="475.82" width="1.20" height="2.35" fill="#cf7210"/><rect x="157.60" y="475.82" width="1.20" height="2.35" fill="#d8202c"/><rect x="158.75" y="475.82" width="1.20" height="2.35" fill="#8c288c"/><rect x="159.90" y="475.82" width="1.20" height="2.35" fill="#2a32d8"/><rect x="161.05" y="475.82" width="1.20" height="2.35" fill="#1e9a1e"/><rect x="162.20" y="475.82" width="1.20" height="2.35" fill="#1e9a1e"/><rect x="163.35" y="475.82" width="1.20" height="2.35" fill="#2a32d8"/><rect x="164.50" y="475.82" width="1.20" height="2.35" fill="#1e9a1e"/><rect x="165.65" y="475.82" width="1.20" height="2.35" fill="#1e9a1e"/><rect x="166.80" y="475.82" width="1.20" height="2.35" fill="#8c288c"/><rect x="167.95" y="475.82" width="1.20" height="2.35" fill="#1e9a1e"/><rect x="169.10" y="475.82" width="1.20" height="2.35" fill="#2a32d8"/><rect x="170.25" y="475.82" width="1.20" height="2.35" fill="#cf7210"/><rect x="171.40" y="475.82" width="1.20" height="2.35" fill="#1e9a1e"/><rect x="172.55" y="475.82" width="1.20" height="2.35" fill="#cf7210"/><rect x="173.70" y="475.82" width="1.20" height="2.35" fill="#d8202c"/><rect x="174.85" y="475.82" width="1.20" height="2.35" fill="#d8202c"/><rect x="176.00" y="475.82" width="1.20" height="2.35" fill="#1e9a1e"/><rect x="177.15" y="475.82" width="1.20" height="2.35" fill="#8c288c"/><rect x="178.30" y="475.82" width="1.20" height="2.35" fill="#cf7210"/><rect x="179.45" y="475.82" width="1.20" height="2.35" fill="#1e9a1e"/><rect x="180.60" y="475.82" width="1.20" height="2.35" fill="#1e9a1e"/><rect x="181.75" y="475.82" width="1.20" height="2.35" fill="#2a32d8"/><rect x="182.90" y="475.82" width="1.20" height="2.35" fill="#1e9a1e"/><rect x="184.05" y="475.82" width="1.20" height="2.35" fill="#cf7210"/><rect x="185.20" y="475.82" width="1.20" height="2.35" fill="#d8202c"/><rect x="186.35" y="475.82" width="1.20" height="2.35" fill="#8c288c"/><rect x="187.50" y="475.82" width="1.20" height="2.35" fill="#cf7210"/><rect x="188.65" y="475.82" width="1.20" height="2.35" fill="#1e9a1e"/><rect x="189.80" y="475.82" width="1.20" height="2.35" fill="#1e9a1e"/><rect x="190.95" y="475.82" width="1.20" height="2.35" fill="#8c288c"/><rect x="192.10" y="475.82" width="1.20" height="2.35" fill="#cf7210"/><rect x="193.25" y="475.82" width="1.20" height="2.35" fill="#8c288c"/><rect x="194.40" y="475.82" width="1.20" height="2.35" fill="#cf7210"/><rect x="195.55" y="475.82" width="1.20" height="2.35" fill="#d8202c"/><rect x="196.70" y="475.82" width="1.20" height="2.35" fill="#d8202c"/><rect x="197.85" y="475.82" width="1.20" height="2.35" fill="#cf7210"/><rect x="199.00" y="475.82" width="1.20" height="2.35" fill="#2a32d8"/><rect x="200.15" y="475.82" width="1.20" height="2.35" fill="#8c288c"/><rect x="201.30" y="475.82" width="0.45" height="2.35" fill="#cf7210"/>
<rect x="24.2" y="403.6" width="2.2" height="8" fill="#8a92c0"/>
<path d="M35.4,405 V476" stroke="#e03030" stroke-width="0.45" opacity="0.48" stroke-dasharray="1.5,0.8"/>
<path d="M38.3,405 V476" stroke="#e08030" stroke-width="0.45" opacity="0.42"/>
<path d="M121.2,408 V440" stroke="#30a040" stroke-width="0.45" opacity="0.36"/>
<path d="M126.3,408 V460" stroke="#4050d0" stroke-width="0.45" opacity="0.36"/>
<path d="M151,408 V465" stroke="#e03030" stroke-width="0.45" opacity="0.42" stroke-dasharray="1.5,0.8"/>
<path d="M169,408 V465" stroke="#e03030" stroke-width="0.45" opacity="0.42" stroke-dasharray="1.5,0.8"/>
<path d="M196.5,408 V465" stroke="#4050d0" stroke-width="0.45" opacity="0.36"/>
<path d="M214.8,406.5 V466" stroke="#e03030" stroke-width="0.45" opacity="0.42"/>
<path d="M240.5,407 V466" stroke="#a0a040" stroke-width="0.45" opacity="0.30"/>
<path d="M284,407 V436" stroke="#4060c0" stroke-width="0.45" opacity="0.48"/>
<path d="M286,407 V436" stroke="#e08030" stroke-width="0.45" opacity="0.42"/>
<path d="M288.6,407 V436" stroke="#30a040" stroke-width="0.45" opacity="0.42"/>
<path d="M318.4,406 V446" stroke="#30a040" stroke-width="0.45" opacity="0.42"/>
<path d="M321.3,406 V446" stroke="#e08030" stroke-width="0.45" opacity="0.42"/>
<path d="M99.3,487.9 H200.8" stroke="#f03a44" stroke-width="1.5" fill="none"/>
<path d="M99.3,479.5 V487.8 M200.8,479.5 V487.8" stroke="#f03a44" stroke-width="0.8" stroke-dasharray="1.1,1.3" fill="none"/>
<text x="142.50" y="485.60" font-size="6.0" fill="#e8303a" text-anchor="start" textLength="15.20" lengthAdjust="spacingAndGlyphs" >10kb</text>
<rect x="24.2" y="488.2" width="314.4" height="11.8" fill="#f0f0f0"/>
<path d="M24.2,500.1 H338.6" stroke="#c4c4c4" stroke-width="0.6"/>
<path d="M52.9,499.4 C52.9,487.40000000000003 53.9,487.40000000000003 53.9,499.4 M55.1,499.4 C55.1,487.40000000000003 56.1,487.40000000000003 56.1,499.4 M57.2,499.4 C57.2,487.40000000000003 58.2,487.40000000000003 58.2,499.4 M59.4,499.4 C59.4,487.40000000000003 60.4,487.40000000000003 60.4,499.4 M61.7,499.4 C61.7,487.40000000000003 62.7,487.40000000000003 62.7,499.4 M63.8,499.4 C63.8,487.40000000000003 64.8,487.40000000000003 64.8,499.4 M66.0,499.4 C66.0,487.40000000000003 67.0,487.40000000000003 67.0,499.4 M78.5,499.4 C78.5,487.40000000000003 79.5,487.40000000000003 79.5,499.4 M81.1,499.4 C81.1,487.40000000000003 82.1,487.40000000000003 82.1,499.4 M84.0,499.4 C84.0,487.40000000000003 85.0,487.40000000000003 85.0,499.4 M86.3,499.4 C86.3,487.40000000000003 87.3,487.40000000000003 87.3,499.4 M88.9,499.4 C88.9,487.40000000000003 89.9,487.40000000000003 89.9,499.4" stroke="#8e242c" stroke-width="0.42" fill="#c05a62" fill-opacity="0.3"/>
<path d="M69.2,499.4 C69.2,486.5 72.2,486.5 72.2,499.4 Z" fill="#b4545c" fill-opacity="0.85" stroke="#8e242c" stroke-width="0.5"/>
<path d="M72.6,499.4 C72.6,486.5 76.6,486.5 76.6,499.4 Z" fill="#b4545c" fill-opacity="0.85" stroke="#8e242c" stroke-width="0.5"/>
<path d="M90.5,497.6 C96,491.2 112,491.9 130,491.9 L160,492 C174,492 182,493.5 186.2,497.6 Z" fill="#b4545c" fill-opacity="0.8" stroke="#8e242c" stroke-width="0.35"/>
<path d="M92,497.6 C104,493.6 125,493.8 150,494 C170,494 196,495 205,497.6 Z" fill="#9c3c44" fill-opacity="0.45"/>
<path d="M90.5,497.6 C130,495 200,495 248,497.6 Z" fill="#b4545c" fill-opacity="0.4"/>
<path d="M186.2,499.4 C186.2,486.3 187.2,486.3 187.2,499.4 M188.6,499.4 C188.6,486.3 189.6,486.3 189.6,499.4" stroke="#8e242c" stroke-width="0.42" fill="#c05a62" fill-opacity="0.3"/>
<path d="M190,497.6 C191.8,488.5 203.2,488.5 205,497.6 Z" fill="#b4545c" fill-opacity="0.72" stroke="#8e242c" stroke-width="0.35"/>
<path d="M192.5,497.6 C193.4,491.0 199.1,491.0 200,497.6 Z" fill="#b4545c" fill-opacity="0.5" stroke="#8e242c" stroke-width="0.35"/>
<path d="M207.0,499.4 C207.0,485.7 208.4,485.7 208.4,499.4 M209.6,499.4 C209.6,485.7 211.0,485.7 211.0,499.4 M212.4,499.4 C212.4,485.7 213.8,485.7 213.8,499.4 M215.0,499.4 C215.0,485.7 216.4,485.7 216.4,499.4 M217.6,499.4 C217.6,485.7 219.0,485.7 219.0,499.4 M220.4,499.4 C220.4,485.7 221.8,485.7 221.8,499.4 M223.0,499.4 C223.0,485.7 224.4,485.7 224.4,499.4 M225.6,499.4 C225.6,485.7 227.0,485.7 227.0,499.4 M228.4,499.4 C228.4,485.7 229.8,485.7 229.8,499.4 M231.0,499.4 C231.0,485.7 232.4,485.7 232.4,499.4" stroke="#8e242c" stroke-width="0.42" fill="#c05a62" fill-opacity="0.3"/>
<path d="M232,497.6 C233.4,487.7 242.1,487.7 243.5,497.6 Z" fill="#b4545c" fill-opacity="0.72" stroke="#8e242c" stroke-width="0.35"/>
<path d="M245,497.6 C247.9,487.9 266.1,487.9 269,497.6 Z" fill="#b4545c" fill-opacity="0.72" stroke="#8e242c" stroke-width="0.35"/>
<path d="M249,497.6 C250.6,490.6 260.4,490.6 262,497.6 Z" fill="#b4545c" fill-opacity="0.5" stroke="#8e242c" stroke-width="0.35"/>
<path d="M270.5,499.4 C270.5,485.5 274.3,485.5 274.3,499.4 Z" fill="#b4545c" fill-opacity="0.7" stroke="#8e242c" stroke-width="0.5"/>
<path d="M275.2,499.4 C275.2,485.5 279,485.5 279,499.4 Z" fill="#b4545c" fill-opacity="0.7" stroke="#8e242c" stroke-width="0.5"/>
<path d="M281,497.6 C282.9,487.1 294.9,487.1 296.8,497.6 Z" fill="#b4545c" fill-opacity="0.72" stroke="#8e242c" stroke-width="0.35"/>
<path d="M297,497.6 C301.9,494.1 333.1,494.1 338,497.6 Z" fill="#b4545c" fill-opacity="0.6" stroke="#8e242c" stroke-width="0.35"/>
<path d="M305,497.6 C308.0,495.1 327.0,495.1 330,497.6 Z" fill="#b4545c" fill-opacity="0.5" stroke="#8e242c" stroke-width="0.35"/>
<path d="M24.2,497.2 H338.6" stroke="#a8343c" stroke-width="0.8"/>
<path d="M98.7,499 C100.5,504.9 114.4,504.9 116.2,499 M282.2,499 C284,505.2 295,505.2 296.8,499 M242,499 C242.6,505 246.1,505 246.7,499" stroke="#8686cc" stroke-width="0.5" fill="none"/>
<path d="M27,508.1 L91,508.1" stroke="#000" stroke-width="0.5"/>
<g fill="#000"><rect x="52.5" y="506.70000000000005" width="2.1" height="2.8"/><rect x="55.5" y="506.70000000000005" width="1.2" height="2.8"/><rect x="58.52" y="506.6" width="0.76" height="3"/><rect x="61.62" y="506.6" width="0.76" height="3"/><rect x="64.22" y="506.6" width="0.76" height="3"/><rect x="67.22" y="506.6" width="0.76" height="3"/><rect x="69.82" y="506.6" width="0.76" height="3"/><rect x="72.42" y="506.6" width="0.76" height="3"/><rect x="75.32" y="506.6" width="0.76" height="3"/><rect x="78.8" y="506.70000000000005" width="2.1" height="2.8"/><rect x="81.9" y="506.70000000000005" width="1.8" height="2.8"/><rect x="84.9" y="506.70000000000005" width="1.7" height="2.8"/><rect x="27" y="506.95000000000005" width="25.8" height="2.3"/></g>
<path d="M92,508.1 l-2.6,-1.6 v3.2 Z" fill="#000"/>
<path d="M163,508.1 L324.9,508.1" stroke="#000" stroke-width="0.5"/>
<g fill="#000"><rect x="187.0" y="506.70000000000005" width="1.6" height="2.8"/><rect x="189.5" y="506.70000000000005" width="1.6" height="2.8"/><rect x="192.1" y="506.70000000000005" width="1.3" height="2.8"/><rect x="199.30" y="506.6" width="0.76" height="3"/><rect x="207.0" y="506.70000000000005" width="2.2" height="2.8"/><rect x="211.1" y="506.70000000000005" width="1.6" height="2.8"/><rect x="215.6" y="506.70000000000005" width="1.9" height="2.8"/><rect x="218.7" y="506.70000000000005" width="1.9" height="2.8"/><rect x="222.9" y="506.70000000000005" width="2.2" height="2.8"/><rect x="226.7" y="506.70000000000005" width="1.6" height="2.8"/><rect x="230.2" y="506.70000000000005" width="2.5" height="2.8"/><rect x="238.35" y="506.6" width="0.76" height="3"/><rect x="244.70" y="506.6" width="0.76" height="3"/><rect x="250.10" y="506.6" width="0.76" height="3"/><rect x="257.40" y="506.6" width="0.76" height="3"/><rect x="264.70" y="506.6" width="0.76" height="3"/><rect x="272.1" y="506.70000000000005" width="2.2" height="2.8"/><rect x="281.0" y="506.70000000000005" width="2.2" height="2.8"/><rect x="289.14" y="506.6" width="0.76" height="3"/><rect x="296.8" y="506.70000000000005" width="1.3" height="2.8"/><rect x="305.02" y="506.6" width="0.76" height="3"/><rect x="312.95" y="506.6" width="0.76" height="3"/><rect x="324.06" y="506.6" width="0.76" height="3"/><rect x="163" y="506.95000000000005" width="23.0" height="2.3"/></g>
<text x="43.30" y="518.80" font-size="7.3" fill="#1a1a1a" text-anchor="start" textLength="32.30" lengthAdjust="spacingAndGlyphs" >ATXN7L3</text>
<text x="234.60" y="518.80" font-size="7.3" fill="#1a1a1a" text-anchor="start" textLength="18.40" lengthAdjust="spacingAndGlyphs" >UBTF</text>
<text x="358.20" y="199.45" font-size="11.3" fill="#000" text-anchor="start" font-weight="bold" >C</text>
<path d="M411.6,201.5 V318 M460.4,201.5 V318 M377.3,303.3 H512" stroke="#222" stroke-width="0.6" stroke-dasharray="2.1,1.6" fill="none"/>
<path stroke="#0a0a0a" stroke-width="1.15" stroke-linecap="round" fill="none" d="M438.4,307.3h0M446.1,305.8h0M444.7,302.6h0M444.2,306.7h0M436.7,310.0h0M436.7,310.3h0M429.1,309.2h0M431.4,311.3h0M431.9,304.8h0M438.1,307.4h0M444.0,298.8h0M432.5,305.2h0M431.4,310.3h0M441.5,310.6h0M430.9,311.2h0M428.0,304.2h0M434.9,309.0h0M432.1,311.4h0M436.0,312.3h0M434.6,312.0h0M435.2,311.8h0M433.8,307.4h0M429.8,305.5h0M445.2,298.4h0M435.8,310.8h0M441.8,307.8h0M449.2,303.1h0M429.2,308.9h0M441.9,304.0h0M439.2,305.4h0M438.0,307.5h0M439.2,308.5h0M428.8,303.6h0M440.8,307.5h0M432.5,305.4h0M437.9,311.9h0M436.9,309.5h0M421.8,305.5h0M420.8,300.4h0M441.5,306.9h0M434.0,310.0h0M432.9,311.0h0M431.9,310.9h0M433.1,306.7h0M438.8,308.1h0M433.3,309.3h0M428.2,302.2h0M450.8,303.2h0M437.1,310.8h0M442.9,301.4h0M441.2,303.5h0M449.8,299.5h0M432.1,305.5h0M430.8,304.6h0M438.6,308.0h0M419.4,304.9h0M442.8,303.3h0M448.9,304.5h0M439.5,311.4h0M442.9,308.8h0M443.7,308.1h0M448.9,302.2h0M438.9,308.4h0M437.9,312.0h0M428.1,305.2h0M441.3,310.2h0M441.6,310.8h0M426.0,300.0h0M433.0,306.8h0M446.5,307.0h0M427.4,301.7h0M436.4,312.1h0M435.7,311.3h0M431.1,305.9h0M431.7,304.3h0M427.1,306.9h0M444.8,306.1h0M434.0,309.4h0M433.9,309.8h0M441.2,308.8h0M430.0,304.7h0M436.9,311.1h0M430.5,303.1h0M454.9,300.9h0M427.8,308.3h0M435.3,310.7h0M420.5,304.6h0M425.5,304.7h0M433.8,309.5h0M438.5,311.8h0M435.8,310.7h0M437.9,309.0h0M426.0,303.6h0M439.3,306.4h0M445.4,308.7h0M445.4,303.5h0M444.4,302.8h0M446.5,304.1h0M444.9,298.2h0M448.9,304.5h0M444.9,300.6h0M454.4,303.4h0M435.8,312.0h0M418.2,295.8h0M445.6,303.6h0M449.1,298.2h0M445.0,308.9h0M443.3,309.9h0M427.1,304.0h0M429.7,305.8h0M453.2,303.1h0M442.3,305.7h0M448.7,298.4h0M428.0,303.2h0M436.1,312.2h0M421.7,303.7h0M435.4,310.6h0M428.6,302.6h0M433.5,311.3h0M431.5,306.7h0M437.7,310.2h0M426.6,309.2h0M454.9,295.3h0M446.6,303.6h0M448.7,303.0h0M429.2,309.3h0M440.2,304.8h0M418.6,300.0h0M427.4,309.5h0M437.0,309.5h0M439.2,308.9h0M436.0,311.7h0M435.7,310.5h0M426.9,303.3h0M427.5,308.1h0M442.2,307.0h0M445.6,296.1h0M435.8,312.1h0M445.5,305.6h0M437.3,312.1h0M429.1,299.6h0M431.2,305.6h0M427.5,300.0h0M436.8,311.7h0M438.5,311.6h0M454.6,299.8h0M437.9,311.4h0M437.0,309.3h0M437.3,312.0h0M435.8,311.0h0M433.0,308.6h0M437.9,307.6h0M425.1,307.5h0M434.7,311.9h0M447.1,293.1h0M427.8,307.2h0M447.3,307.8h0M439.7,310.0h0M427.6,309.4h0M441.5,310.8h0M443.3,304.6h0M434.7,310.8h0M431.1,308.8h0M435.0,311.9h0M429.1,303.8h0M441.1,311.1h0M429.6,305.1h0M437.3,309.7h0M444.7,304.0h0M430.7,303.5h0M443.6,309.4h0M433.6,311.6h0M441.8,308.8h0M446.8,299.6h0M442.3,310.3h0M434.9,311.6h0M432.5,309.9h0M432.2,308.8h0M439.8,309.5h0M436.2,310.7h0M433.2,307.2h0M427.1,304.7h0M439.0,310.9h0M439.2,310.3h0M431.6,311.0h0M439.8,310.8h0M436.7,311.4h0M435.1,310.6h0M437.6,308.8h0M435.2,310.9h0M430.8,309.8h0M432.8,305.7h0M423.6,295.5h0M425.3,301.7h0M453.3,299.8h0M449.1,292.3h0M429.7,308.8h0M434.7,310.2h0M443.8,306.0h0M436.1,311.9h0M427.2,306.7h0M433.5,309.9h0M449.9,300.1h0M453.5,302.7h0M430.9,309.6h0M439.0,307.7h0M439.6,311.6h0M440.7,308.9h0M446.8,308.5h0M431.6,307.8h0M433.6,308.6h0M431.2,305.5h0M426.4,308.5h0M434.7,311.9h0M448.3,303.6h0M433.1,311.5h0M434.8,311.6h0M438.2,309.5h0M435.3,311.3h0M436.6,311.9h0M415.2,298.3h0M430.4,304.1h0M438.3,310.7h0M444.3,299.8h0M450.5,305.9h0M427.0,304.2h0M442.5,307.9h0M417.1,301.5h0M447.4,299.0h0M446.1,306.6h0M426.5,308.7h0M438.2,307.9h0M419.5,302.6h0M442.2,309.4h0M440.6,310.7h0M445.4,308.2h0M441.4,310.3h0M434.8,312.0h0M439.1,309.1h0M446.4,300.7h0M442.0,309.9h0M444.7,308.4h0M437.5,310.8h0M432.5,307.0h0M432.9,306.6h0M446.3,301.2h0M428.3,302.1h0M440.2,309.6h0M443.6,305.8h0M440.7,308.5h0M433.9,308.2h0M456.1,298.9h0M436.6,311.7h0M424.8,300.5h0M439.0,310.6h0M448.6,300.8h0M433.9,310.8h0M453.3,298.6h0M430.9,307.9h0M438.2,309.2h0M433.9,311.9h0M433.6,308.0h0M437.0,311.8h0M438.4,306.9h0M427.7,304.1h0M440.5,309.3h0M433.0,310.9h0M430.8,307.2h0M441.2,309.6h0M438.6,311.3h0M438.2,307.3h0M443.4,305.5h0M437.5,311.2h0M436.3,310.9h0M424.6,306.4h0M432.3,306.8h0M440.8,305.8h0M439.1,309.6h0M445.9,306.0h0M427.6,302.9h0M432.1,310.7h0M417.6,303.8h0M438.2,310.1h0M419.8,294.9h0M435.6,311.3h0M447.3,303.3h0M438.8,310.3h0M441.3,306.4h0M433.7,307.3h0M442.8,309.9h0M442.1,301.1h0M414.9,300.4h0M428.9,305.0h0M428.6,305.2h0M432.8,311.4h0M445.2,307.8h0M441.7,301.3h0M432.7,306.9h0M427.7,301.9h0M427.7,306.8h0M445.1,296.7h0M427.1,308.1h0M454.4,297.5h0M442.2,310.5h0M442.2,301.6h0M423.7,299.0h0M433.1,308.3h0M439.3,307.4h0M438.8,311.4h0M441.4,304.4h0M443.2,301.6h0M435.8,311.0h0M436.6,311.1h0M446.8,306.6h0M428.4,307.9h0M433.6,311.0h0M445.4,308.6h0M441.8,307.0h0M423.6,305.6h0M424.1,306.4h0M437.0,309.5h0M441.7,306.3h0M443.4,304.1h0M434.5,311.2h0M441.4,308.0h0M443.1,303.2h0M430.1,301.1h0M437.3,311.8h0M432.7,305.4h0M434.1,310.5h0M423.6,304.2h0M421.7,301.2h0M439.6,306.8h0M438.4,309.9h0M438.9,310.2h0M432.9,310.8h0M428.7,309.4h0M428.7,310.2h0M440.3,307.2h0M434.6,310.4h0M430.6,303.9h0M437.2,311.9h0M431.2,302.6h0M434.8,310.8h0M433.9,307.4h0M450.8,300.7h0M433.6,310.1h0M416.3,297.3h0M445.2,303.2h0M449.4,300.1h0M428.4,301.1h0M416.4,296.5h0M439.7,310.4h0M429.5,309.8h0M438.5,309.7h0M440.5,306.5h0M440.4,305.9h0M430.5,310.2h0M428.1,306.0h0M431.6,311.1h0M434.9,309.8h0M430.1,307.8h0M423.8,306.3h0M442.1,304.2h0M435.1,310.1h0M435.9,310.9h0M435.5,311.6h0M434.4,309.4h0M443.4,310.3h0M437.8,309.9h0M433.0,309.1h0M441.4,309.1h0M444.2,305.3h0M435.7,311.2h0M437.7,309.8h0M435.4,311.3h0M422.0,302.8h0M447.4,297.5h0M434.5,311.6h0M458.6,299.8h0M436.6,311.3h0M430.4,307.0h0M440.4,307.4h0M423.3,307.4h0M441.7,305.1h0M431.1,306.0h0M443.9,309.5h0M435.5,311.6h0M445.2,308.6h0M442.7,308.5h0M448.5,303.6h0M436.3,311.7h0M438.5,309.7h0M447.7,302.2h0M441.5,304.6h0M437.9,308.0h0M439.3,307.6h0M433.1,310.8h0M423.5,303.2h0M427.6,307.7h0M432.5,307.7h0M439.9,309.1h0M442.0,310.8h0M443.7,308.7h0M431.0,311.2h0M438.5,309.1h0M430.1,310.3h0M436.8,312.1h0M437.1,310.3h0M436.6,310.4h0M424.6,306.1h0M426.8,303.8h0M415.5,300.1h0M444.1,299.5h0M434.1,311.7h0M434.5,311.0h0M429.5,309.6h0M452.6,298.7h0M419.3,297.1h0M429.7,308.1h0M438.4,309.8h0M452.0,302.7h0M443.6,309.3h0M427.1,306.0h0M445.0,296.1h0M442.2,307.5h0M440.6,307.8h0M453.3,303.6h0M427.5,304.1h0M451.9,293.8h0M437.3,311.3h0M427.0,304.0h0M428.0,308.7h0M441.8,303.7h0M447.5,307.0h0M436.9,312.1h0M450.5,302.9h0M444.1,309.7h0M429.2,307.2h0M437.9,309.1h0M434.5,309.0h0M441.9,308.0h0M448.0,298.4h0M450.3,303.1h0M426.2,305.3h0M427.5,309.5h0M443.2,307.9h0M435.4,310.5h0M432.3,307.4h0M446.1,307.0h0M439.3,308.6h0M434.6,311.2h0M432.4,310.3h0M435.4,309.9h0M438.0,310.1h0M427.9,309.8h0M441.6,301.4h0M441.4,309.0h0M438.3,307.4h0M446.6,305.2h0M418.3,302.5h0M442.7,302.6h0M438.9,311.7h0M425.1,299.6h0M431.9,311.3h0M435.2,312.0h0M449.0,306.5h0M436.2,310.7h0M435.4,311.6h0M420.2,300.8h0M418.6,303.0h0M428.7,310.3h0M431.7,309.3h0M437.1,310.2h0M443.9,302.9h0M435.0,309.5h0M428.0,308.9h0M434.3,311.4h0M431.5,307.8h0M430.9,304.6h0M434.5,310.9h0M438.2,309.3h0M422.4,302.9h0M432.1,308.5h0M431.0,306.4h0M437.9,308.0h0M441.2,311.0h0M426.1,308.9h0M436.1,312.0h0M442.3,300.9h0M446.1,304.1h0M430.4,310.9h0M420.4,303.1h0M446.1,305.6h0M428.2,304.4h0M429.3,303.3h0M436.6,311.2h0M431.3,311.0h0M435.4,311.5h0M433.6,308.8h0M427.8,302.1h0M436.2,311.5h0M427.5,303.1h0M437.3,308.9h0M435.4,312.1h0M438.9,308.8h0M438.0,310.2h0M432.2,304.9h0M429.4,305.0h0M418.7,297.9h0M436.7,309.8h0M430.2,310.6h0M448.6,305.2h0M444.6,306.2h0M431.9,305.3h0M437.0,310.6h0M431.7,308.8h0M444.1,310.1h0M440.9,308.7h0M440.6,305.0h0M446.3,305.5h0M432.1,309.6h0M426.7,308.1h0M426.2,301.7h0M448.8,306.3h0M429.6,310.4h0M445.8,309.3h0M428.4,307.4h0M434.7,312.1h0M431.4,303.7h0M448.4,305.9h0M451.0,302.4h0M434.8,310.9h0M434.3,310.3h0M428.7,307.8h0M455.2,298.8h0M439.0,308.1h0M433.4,310.0h0M437.7,311.6h0M438.3,310.1h0M453.7,300.6h0M437.1,311.3h0M436.4,312.2h0M448.7,296.8h0M457.3,295.3h0M429.3,308.3h0M431.5,311.0h0M428.6,305.3h0M435.0,309.5h0M447.2,295.8h0M438.7,310.4h0M434.7,308.9h0M435.3,311.6h0M431.4,306.1h0M451.0,305.9h0M426.3,304.5h0M431.9,310.0h0M442.0,305.8h0M429.5,306.5h0M436.3,312.3h0M439.9,310.3h0M432.4,306.6h0M436.3,311.5h0M438.8,311.3h0M443.8,309.8h0M427.4,305.5h0M441.0,309.9h0M456.3,301.9h0M429.7,307.9h0M443.7,302.8h0M437.4,310.7h0M443.1,303.4h0M440.6,309.9h0M417.9,299.4h0M453.9,300.6h0M438.4,311.8h0M453.5,300.4h0M438.5,308.4h0M425.9,306.7h0M450.4,302.9h0M435.0,309.2h0M420.0,302.5h0M429.5,309.7h0M423.6,300.9h0M436.3,310.9h0M430.6,302.0h0M433.2,307.7h0M420.9,298.4h0M431.4,310.4h0M434.7,311.8h0M437.0,311.9h0M427.0,306.2h0M420.1,305.6h0M424.8,305.3h0M434.5,310.0h0M423.5,303.5h0M431.2,307.2h0M426.3,303.6h0M443.0,306.7h0M437.7,309.4h0M428.4,300.1h0M424.6,303.2h0M430.6,302.7h0M441.6,303.2h0M430.7,302.3h0M421.5,301.4h0M434.2,308.4h0M431.9,310.5h0M431.0,308.2h0M443.3,298.4h0M429.0,303.7h0M431.4,306.6h0M440.7,306.1h0M442.4,310.3h0M447.4,304.7h0M436.1,311.6h0M442.7,304.3h0M432.5,308.0h0M438.4,311.5h0M431.2,303.8h0M436.8,309.9h0M434.7,310.1h0M447.4,302.8h0M426.8,304.7h0M437.7,308.2h0M437.9,311.4h0M442.3,307.0h0M433.7,311.1h0M451.7,303.1h0M447.0,304.8h0M432.9,310.0h0M440.7,302.9h0M429.5,308.3h0M439.0,309.9h0M445.0,302.6h0M451.4,302.9h0M445.6,308.5h0M444.4,303.3h0M437.3,309.2h0M439.8,308.4h0M445.9,301.3h0M449.8,301.1h0M423.6,304.2h0M426.1,300.6h0M441.6,306.7h0M439.3,308.7h0M427.7,301.4h0M435.3,312.2h0M440.8,309.3h0M443.2,309.2h0M441.3,310.0h0M435.8,312.1h0M428.3,302.6h0M441.4,307.2h0M441.1,310.6h0M420.1,303.2h0M438.1,310.9h0M427.7,305.3h0M439.1,310.2h0M428.2,308.4h0M447.7,302.5h0M429.1,304.6h0M433.5,309.4h0M440.2,305.0h0M437.2,310.4h0M452.6,301.6h0M445.2,302.1h0M431.6,309.6h0M428.3,298.6h0M432.1,308.2h0M427.7,304.3h0M436.5,310.1h0M443.3,310.0h0M448.1,302.6h0M440.9,308.0h0M449.8,305.4h0M438.9,305.9h0M440.2,304.3h0M433.5,308.3h0M432.5,304.9h0M439.8,308.6h0M431.3,310.3h0M436.0,311.0h0M429.0,309.1h0M450.1,301.0h0M447.0,305.3h0M437.7,309.1h0M425.5,304.2h0M444.1,304.3h0M431.0,304.0h0M422.1,292.9h0M439.1,306.2h0M436.2,311.7h0M432.1,306.7h0M435.0,311.4h0M429.5,303.2h0M429.4,306.9h0M438.3,307.9h0M424.5,304.1h0M441.0,310.3h0M440.4,309.7h0M431.3,310.4h0M449.0,304.7h0M431.2,310.2h0M439.6,307.6h0M432.9,309.8h0M417.6,300.1h0M415.8,302.0h0M441.0,310.5h0M430.7,311.0h0M425.8,302.4h0M433.1,306.2h0M437.9,308.9h0M442.5,302.2h0M440.6,305.2h0M436.1,311.1h0M429.4,308.7h0M432.5,304.8h0M448.3,306.2h0M427.4,307.5h0M438.8,307.1h0M436.7,311.7h0M436.1,312.0h0M433.0,308.1h0M435.5,310.1h0M426.3,302.9h0M426.7,306.9h0M436.6,310.1h0M438.6,307.4h0M457.6,297.7h0M443.5,301.7h0M451.3,298.0h0M418.7,297.7h0M434.8,312.0h0M448.0,307.2h0M431.3,303.9h0M427.7,305.2h0M435.6,311.1h0M420.9,305.6h0M435.0,310.6h0M430.2,307.8h0M426.4,308.5h0M437.8,310.4h0M436.6,311.6h0M443.3,309.1h0M440.4,311.0h0M445.7,307.9h0M428.3,305.2h0M432.0,307.6h0M435.8,312.3h0M430.4,302.8h0M433.6,310.8h0M441.4,302.8h0M421.9,298.0h0M437.3,308.8h0M430.7,303.6h0M422.9,305.0h0M431.5,309.8h0M427.8,305.2h0M433.0,309.8h0M436.3,310.5h0M435.3,311.0h0M423.1,303.8h0M444.8,300.4h0M433.0,308.0h0M425.5,306.2h0M422.3,307.0h0M437.3,311.8h0M441.0,304.1h0M443.6,308.7h0M434.4,311.6h0M438.0,310.7h0M428.6,309.0h0M442.8,308.2h0M431.6,306.8h0M435.0,310.6h0M432.8,308.6h0M431.2,303.9h0M434.3,310.3h0M439.0,311.7h0M426.5,300.2h0M434.5,309.3h0M443.8,303.0h0M424.0,304.8h0M444.1,309.7h0M449.0,306.6h0M438.7,309.5h0M431.2,304.7h0M443.4,303.6h0M440.0,307.1h0M440.6,306.8h0M448.5,301.6h0M429.8,303.2h0M440.5,309.4h0M435.9,311.3h0M438.5,311.3h0M417.5,300.2h0M438.1,308.6h0M437.8,310.4h0M445.6,309.1h0M415.7,299.4h0M435.8,311.9h0M438.8,310.0h0M440.3,310.6h0M444.0,303.4h0M431.3,308.4h0M433.8,308.6h0M427.2,304.6h0M432.1,311.2h0M448.6,305.6h0M433.1,309.7h0M451.0,296.0h0M443.9,306.1h0M446.6,302.7h0M426.7,305.8h0M422.4,301.5h0M429.9,310.4h0M445.5,308.5h0M457.3,300.3h0M433.3,310.8h0M444.0,309.8h0M416.2,302.0h0M440.8,310.3h0M442.0,301.8h0M447.8,307.4h0M443.5,301.3h0M429.9,308.7h0M423.5,305.8h0M436.7,310.9h0M432.3,310.4h0M427.3,299.0h0M434.8,311.3h0M445.0,302.3h0M440.2,310.7h0M444.0,307.7h0M429.7,306.8h0M419.5,301.2h0M439.3,308.2h0M426.8,307.5h0M449.0,305.2h0M441.3,305.4h0M432.2,307.6h0M444.7,307.3h0M431.7,310.1h0M423.2,306.1h0M439.3,309.5h0M425.1,308.1h0M445.4,296.1h0M440.8,306.4h0M444.0,298.6h0M427.5,306.4h0M454.3,302.4h0M446.8,308.5h0M438.0,311.4h0M444.4,300.4h0M432.7,311.6h0M442.0,300.9h0M436.3,311.9h0M452.2,301.6h0M440.9,307.6h0M433.4,308.9h0M425.5,306.3h0M432.8,305.8h0M434.7,309.0h0M429.9,305.0h0M432.8,309.4h0M431.2,309.7h0M443.3,299.9h0M435.7,310.5h0M432.3,308.5h0M435.8,311.3h0M430.4,303.2h0M442.4,310.2h0M424.2,304.1h0M441.5,304.5h0M431.2,304.4h0M435.0,309.6h0M429.7,304.4h0M435.8,312.1h0M428.2,304.2h0M432.8,309.7h0M437.2,310.5h0M442.3,307.7h0M442.0,301.8h0M436.8,311.2h0M439.4,310.9h0M423.7,302.9h0M427.3,309.7h0M432.3,305.0h0M435.6,311.2h0M427.1,298.8h0M433.8,311.6h0M433.5,307.3h0M433.4,310.9h0M427.0,303.2h0M437.9,311.3h0M427.4,308.1h0M437.5,311.8h0M443.6,310.2h0M428.2,309.8h0M443.8,307.9h0M422.4,305.3h0M429.3,304.0h0M428.8,301.7h0M431.0,307.9h0M431.2,310.6h0M423.2,299.2h0M435.8,310.7h0M424.5,296.4h0M433.5,307.0h0M440.6,307.8h0M428.1,309.8h0M440.1,308.2h0M432.9,305.8h0M435.8,312.2h0M422.0,304.7h0M428.2,306.1h0M435.5,311.5h0M437.5,310.8h0M432.4,305.0h0M424.3,303.4h0M425.6,302.8h0M446.5,303.9h0M452.9,303.8h0M451.6,292.1h0M429.5,305.4h0M437.0,310.8h0M443.6,301.2h0M425.0,293.9h0M430.0,303.2h0M439.2,306.4h0M422.3,306.8h0M431.9,310.2h0M431.4,307.8h0M433.1,306.9h0M420.6,305.1h0M439.2,310.7h0M436.6,310.5h0M422.3,303.6h0M440.3,304.6h0M440.1,308.3h0M423.6,305.9h0M441.9,310.3h0M429.0,307.4h0M434.0,311.3h0M446.6,301.0h0M440.2,311.0h0M415.4,293.9h0M429.4,307.7h0M420.9,305.2h0M435.2,310.9h0M428.7,310.0h0M429.1,308.7h0M441.3,310.8h0M440.5,303.3h0M436.6,311.1h0M423.6,304.4h0M433.2,306.9h0M430.7,302.2h0M432.6,306.7h0M442.8,299.0h0M444.1,305.7h0M422.5,304.1h0M438.5,309.8h0M437.9,311.6h0M439.0,311.1h0M446.0,306.5h0M434.7,310.8h0M434.2,310.8h0M429.4,299.3h0M425.6,300.2h0M452.4,303.9h0M441.7,306.2h0M430.3,302.8h0M437.0,310.2h0M421.4,301.5h0M447.6,303.1h0M435.6,310.8h0M421.7,304.6h0M429.2,310.5h0M440.8,308.1h0M428.4,306.0h0M430.7,302.3h0M435.6,310.7h0M428.1,308.5h0M434.3,310.9h0M433.9,309.7h0M424.0,302.5h0M438.0,309.2h0M432.5,309.3h0M440.6,305.9h0M435.5,312.1h0M439.2,309.6h0M433.1,311.2h0M435.6,311.9h0M438.8,311.3h0M437.0,310.1h0M433.8,311.9h0M437.1,312.1h0M435.6,311.4h0M433.1,308.9h0M443.2,301.5h0M453.6,301.9h0M430.5,309.9h0M445.3,300.9h0M443.1,309.7h0M440.3,307.0h0M427.4,302.8h0M427.1,298.5h0M433.7,308.0h0M436.6,311.3h0M437.4,308.9h0M430.0,306.0h0M429.2,307.2h0M430.9,309.9h0M427.7,296.4h0M442.8,307.1h0M443.8,303.4h0M448.5,296.9h0M454.4,302.1h0M434.8,309.3h0M446.9,307.1h0M428.3,308.3h0M435.2,310.6h0M431.7,305.9h0M442.6,308.3h0M436.8,311.1h0M448.5,302.2h0M418.9,298.2h0M429.3,307.7h0M422.1,293.0h0M439.8,309.4h0M439.9,309.3h0M435.5,311.3h0M422.0,305.7h0M438.7,308.4h0M432.9,308.2h0M438.7,311.3h0M441.4,309.7h0M422.7,301.1h0M440.6,307.3h0M432.5,305.9h0M442.6,303.6h0M429.1,304.6h0M419.9,299.7h0M450.5,296.7h0M428.4,305.5h0M432.8,309.3h0M430.6,308.1h0M420.0,302.9h0M442.2,310.6h0M449.3,304.2h0M445.0,309.4h0M443.6,303.5h0M442.1,306.2h0M441.4,310.3h0M439.8,308.0h0M446.7,304.8h0M444.4,304.7h0M440.8,304.7h0M434.0,309.8h0M433.9,308.7h0M434.1,308.3h0M426.8,308.5h0M438.2,310.1h0M434.6,309.1h0M449.9,292.4h0M437.6,309.8h0M431.8,309.4h0M440.1,304.0h0M439.0,306.6h0M449.1,306.1h0M451.9,297.5h0M438.2,307.9h0M437.8,311.2h0M435.9,311.4h0M447.8,303.7h0M431.5,303.0h0M448.6,304.9h0M420.5,303.1h0M438.5,307.5h0M431.8,305.4h0M441.7,302.9h0M435.5,312.1h0M439.7,306.5h0M430.6,301.7h0M443.0,301.8h0M432.6,308.9h0M427.3,307.9h0M435.7,310.9h0M427.0,299.4h0M438.4,311.2h0M415.2,301.2h0M445.8,305.8h0M422.7,304.8h0M453.9,301.3h0M443.4,306.2h0M433.6,311.0h0M424.5,301.5h0M442.4,304.1h0M442.2,306.4h0M433.3,306.2h0M436.1,311.2h0M435.8,311.3h0M440.4,303.4h0M430.4,303.6h0M428.7,307.7h0M419.3,301.0h0M435.8,310.8h0M438.6,308.7h0M446.8,301.0h0M433.2,311.2h0M456.0,297.8h0M442.3,305.6h0M439.1,306.0h0M447.0,300.6h0M431.5,304.5h0M442.5,308.9h0M426.1,295.1h0M439.9,306.1h0M425.3,305.1h0M432.9,308.0h0M443.4,309.6h0M427.0,300.4h0M431.3,305.6h0M434.3,309.2h0M451.4,304.0h0M452.6,304.9h0M443.0,307.0h0M442.9,307.0h0M446.8,308.6h0M455.0,301.5h0M431.2,308.6h0M442.6,301.5h0M427.5,304.4h0M449.4,296.6h0M445.1,299.8h0M433.2,307.4h0M436.2,311.0h0M451.8,304.8h0M426.1,306.6h0M440.3,304.5h0M433.3,307.9h0M443.5,307.7h0M425.8,301.6h0M433.5,310.5h0M431.6,310.8h0M443.3,304.2h0M443.1,301.2h0M427.0,305.5h0M450.0,306.1h0M435.9,311.3h0M431.5,309.9h0M434.4,312.0h0M426.5,303.2h0M434.6,310.7h0M435.9,312.0h0M448.5,301.6h0M420.9,303.3h0M436.6,312.1h0M436.0,312.0h0M428.6,309.2h0M419.8,295.9h0M423.4,303.9h0M427.8,305.0h0M431.9,306.7h0M430.9,309.0h0M433.6,311.3h0M430.3,303.5h0M435.6,312.0h0M430.0,310.6h0M420.3,303.6h0M429.9,306.4h0M417.3,301.2h0M419.4,297.2h0M422.9,303.6h0M429.1,306.6h0M413.3,296.8h0M423.4,306.9h0M438.3,311.6h0M434.6,310.0h0M433.2,310.0h0M437.8,309.7h0M441.8,308.8h0M419.2,294.5h0M425.5,307.6h0M441.8,307.1h0M415.0,294.9h0M438.7,310.5h0M433.7,310.2h0M452.1,305.5h0M428.3,306.5h0M424.1,303.6h0M413.1,297.7h0M448.7,306.4h0M439.2,310.6h0M436.6,311.1h0M439.3,309.4h0M448.8,299.6h0M434.1,309.3h0M436.0,311.8h0M448.8,305.5h0M430.2,303.4h0M429.5,310.3h0M434.3,310.2h0M440.3,307.8h0M438.7,311.8h0M440.3,303.6h0M433.1,311.7h0M439.6,306.5h0M433.8,309.9h0M429.2,302.7h0M443.3,308.7h0M439.7,308.8h0M436.8,310.4h0M432.5,310.7h0M432.2,308.1h0M428.0,308.4h0M431.8,305.4h0M436.7,311.7h0M438.1,307.8h0M452.4,292.3h0M433.0,308.6h0M445.1,309.4h0M434.3,308.2h0M434.9,310.2h0M438.6,310.2h0M439.8,311.0h0M441.7,305.2h0M436.9,311.8h0M430.9,303.7h0M429.5,301.8h0M432.0,311.0h0M426.8,306.6h0M451.0,304.7h0M434.0,311.8h0M437.5,311.7h0M429.3,300.6h0M434.7,309.5h0M441.9,310.6h0M437.3,310.3h0M436.7,310.8h0M454.0,299.5h0M449.3,298.8h0M437.8,308.8h0M443.9,309.1h0M436.6,310.8h0M442.4,303.5h0M437.3,308.8h0M438.0,309.4h0M442.2,300.7h0M440.7,305.2h0M434.3,310.3h0M426.5,303.0h0M438.3,307.0h0M442.7,300.1h0M435.6,311.4h0M433.3,309.0h0M437.4,311.3h0M427.9,302.8h0M434.4,311.4h0M437.1,311.5h0M444.3,306.2h0M433.9,310.8h0M429.6,305.2h0M436.6,310.7h0M442.3,301.5h0M431.0,309.2h0M431.2,311.2h0M428.6,301.9h0M432.5,308.4h0M431.8,304.4h0M439.9,308.2h0M435.4,312.2h0M427.2,307.0h0M419.0,303.3h0M424.2,303.9h0M435.3,310.4h0M447.0,303.2h0M438.5,310.2h0M425.4,304.0h0M438.9,308.6h0M430.8,303.8h0M433.6,311.7h0M447.5,304.8h0M432.1,307.0h0M444.4,308.6h0M430.9,306.6h0M449.9,298.6h0M434.7,308.6h0M456.2,300.8h0M438.4,307.6h0M436.7,311.2h0M451.9,305.7h0M448.7,305.1h0M435.0,310.8h0M435.3,310.8h0M447.0,305.3h0M442.5,304.0h0M440.9,306.3h0M444.3,304.4h0M434.2,310.5h0M437.4,310.9h0M436.3,311.0h0M433.3,308.9h0M420.4,302.8h0M430.0,306.9h0M448.6,305.0h0M441.6,309.5h0M431.7,309.8h0M436.1,312.1h0M433.1,307.5h0M441.3,304.4h0M439.2,309.0h0M431.1,304.5h0M425.8,304.1h0M449.1,303.5h0M428.1,304.4h0M425.1,303.3h0M429.9,306.1h0M432.6,310.9h0M422.2,301.3h0M435.1,310.0h0M437.3,308.7h0M450.4,301.8h0M430.3,303.3h0M423.4,304.5h0M435.8,312.0h0M434.3,310.4h0M444.7,305.8h0M427.4,301.5h0M445.6,308.9h0M423.0,302.6h0M434.7,309.6h0M427.4,309.5h0M432.0,307.3h0M434.6,308.5h0M428.1,304.7h0M437.9,310.7h0M434.0,308.9h0M436.8,311.4h0M437.5,309.6h0M440.9,306.2h0M427.1,306.9h0M425.6,305.0h0M426.8,299.5h0M432.1,307.1h0M440.4,304.3h0M441.8,307.3h0M433.1,310.3h0M432.9,309.7h0M438.6,308.8h0M436.0,311.0h0M441.9,303.3h0M426.6,305.7h0M427.0,309.2h0M441.9,306.8h0M431.0,308.8h0M437.8,310.8h0M453.2,304.5h0M429.7,302.9h0M420.0,303.6h0M435.0,309.3h0M424.6,302.3h0M435.4,309.8h0M437.6,311.7h0M443.1,301.3h0M443.3,306.4h0M435.5,311.7h0M419.8,302.2h0M432.1,309.9h0M431.9,306.7h0M434.1,311.2h0M428.7,307.2h0M444.9,300.4h0M419.2,304.2h0M425.2,306.4h0M442.8,309.4h0M433.9,311.0h0M425.7,306.3h0M423.5,298.6h0M422.6,301.1h0M444.7,304.6h0M437.3,312.0h0M429.5,309.7h0M445.1,300.7h0M426.8,309.1h0M441.8,303.9h0M452.5,302.6h0M433.5,310.1h0M426.8,300.2h0M429.8,310.4h0M439.4,310.1h0M438.7,306.3h0M433.6,309.0h0M425.0,301.9h0M420.6,295.8h0M431.3,311.0h0M440.1,307.6h0M423.1,304.8h0M429.9,308.3h0M423.3,306.4h0M440.2,310.0h0M432.5,306.3h0M433.0,311.5h0M446.4,304.5h0M432.1,309.3h0M444.4,307.5h0M443.3,310.1h0M440.3,310.6h0M427.3,303.7h0M438.4,311.0h0M423.0,301.2h0M433.3,306.6h0M442.5,301.2h0M430.9,303.4h0M448.1,302.8h0M437.9,308.4h0M440.3,303.6h0M440.1,310.7h0M430.8,305.6h0M443.4,309.4h0M432.1,305.1h0M433.3,311.8h0M430.2,310.3h0M426.8,294.9h0M439.2,307.9h0M433.3,307.3h0M443.0,301.0h0M430.2,305.1h0M436.6,310.5h0M437.2,309.8h0M433.3,311.7h0M424.3,304.2h0M424.1,306.8h0M437.6,310.7h0M433.7,311.0h0M427.7,303.3h0M439.1,306.9h0M436.6,309.8h0M437.1,311.1h0M437.8,309.5h0M435.2,311.0h0M442.2,309.7h0M438.6,308.0h0M449.6,302.5h0M433.3,307.4h0M441.9,304.6h0M425.2,300.7h0M419.8,303.7h0M434.2,309.0h0M433.3,306.7h0M421.3,306.2h0M431.9,308.6h0M441.8,302.2h0M425.0,304.2h0M425.3,307.6h0M436.0,311.1h0M439.4,309.9h0M425.6,300.6h0M427.3,308.4h0M440.1,309.0h0M423.9,299.8h0M435.7,311.7h0M425.3,304.9h0M441.2,307.1h0M443.8,303.7h0M426.8,305.6h0M425.1,308.1h0M438.0,307.5h0M447.7,308.1h0M445.5,309.3h0M429.8,302.9h0M438.8,307.0h0M430.3,310.7h0M448.8,306.1h0M435.2,311.8h0M432.6,310.3h0M442.2,310.5h0M435.2,310.9h0M428.4,309.2h0M423.1,306.2h0M424.0,305.0h0M439.7,309.7h0M454.1,303.4h0M443.1,307.7h0M424.9,306.0h0M439.5,308.1h0M440.9,310.0h0M429.2,309.9h0M432.2,304.5h0M431.5,309.8h0M441.1,308.3h0M432.0,306.9h0M430.1,302.3h0M452.5,303.8h0M439.7,307.5h0M431.8,306.7h0M440.6,310.4h0M413.0,298.4h0M434.6,311.5h0M428.0,306.1h0M428.6,300.3h0M420.8,303.3h0M430.7,307.5h0M424.2,301.2h0M428.2,302.2h0M447.8,303.4h0M420.1,301.0h0M438.6,311.6h0M440.0,305.3h0M443.8,304.5h0M431.7,305.7h0M440.4,306.4h0M429.6,309.7h0M429.8,304.9h0M436.1,311.4h0M433.8,308.5h0M434.1,309.9h0M430.7,305.4h0M429.0,309.5h0M439.8,311.3h0M453.1,299.6h0M424.8,307.1h0M423.6,306.0h0M430.5,306.6h0M444.6,302.1h0M440.1,304.9h0M436.6,311.9h0M447.6,306.0h0M431.6,307.0h0M443.9,302.9h0M440.1,311.0h0M430.8,302.3h0M428.6,308.6h0M431.4,304.1h0M434.9,309.2h0M436.1,311.5h0M420.4,297.7h0M432.0,305.0h0M432.4,311.0h0M432.4,310.7h0M455.2,301.3h0M423.8,306.9h0M436.8,310.0h0M435.4,310.3h0M431.1,311.1h0M433.3,309.3h0M418.8,304.3h0M438.4,310.1h0M436.9,310.7h0M440.6,305.9h0M425.9,307.9h0M432.3,310.5h0M443.8,302.7h0M427.5,307.0h0M450.6,303.1h0M446.7,308.8h0M422.4,302.5h0M444.7,300.5h0M435.7,311.2h0M431.3,304.9h0M439.4,306.9h0M440.4,304.3h0M444.3,309.1h0M441.5,306.2h0M443.8,306.1h0M446.1,300.4h0M436.5,310.3h0M436.4,311.6h0M433.1,311.5h0M432.4,308.1h0M431.4,305.9h0M433.8,308.1h0M443.9,306.3h0M421.9,305.1h0M421.2,306.0h0M443.4,306.8h0M423.5,300.3h0M436.6,310.3h0M441.4,304.0h0M432.8,306.3h0M436.4,311.7h0M444.1,309.9h0M430.7,307.7h0M435.7,311.6h0M438.9,311.0h0M438.1,309.8h0M422.0,305.9h0M441.3,309.8h0M441.6,310.1h0M429.1,304.9h0M449.1,301.5h0M447.4,298.0h0M440.2,306.4h0M434.3,311.9h0M440.6,305.9h0M432.5,306.9h0M436.4,310.6h0M428.1,306.2h0M427.0,309.2h0M434.9,309.5h0M447.5,308.2h0M456.4,300.6h0M426.1,309.2h0M423.0,296.1h0M441.8,306.7h0M432.4,305.0h0M444.2,307.8h0M426.9,303.8h0M437.2,312.0h0M441.9,307.5h0M442.6,307.1h0M443.6,308.0h0M436.8,310.9h0M428.9,310.4h0M438.3,307.2h0M427.9,307.8h0M423.7,305.9h0M439.3,307.5h0M430.0,308.4h0M428.6,309.1h0M441.8,305.9h0M443.8,308.2h0M428.1,299.9h0M439.0,307.7h0M438.3,307.2h0M430.2,304.0h0M431.5,303.1h0M430.9,307.8h0M421.0,304.4h0M444.7,308.8h0M426.2,299.7h0M441.3,310.2h0M419.6,302.4h0M431.3,311.0h0M434.3,308.3h0M441.8,308.0h0M447.8,306.7h0M433.6,307.2h0M436.6,311.1h0M438.6,308.1h0M446.5,303.4h0M442.7,304.2h0M441.3,306.9h0M427.5,309.8h0M432.3,307.2h0M421.9,303.8h0M440.4,309.2h0M432.6,309.7h0M437.2,311.5h0M430.6,308.6h0M440.4,308.9h0M439.1,309.0h0M439.7,310.3h0M430.6,305.4h0M426.5,309.4h0M431.6,308.6h0M439.1,307.9h0M428.6,302.8h0M439.7,310.5h0M431.1,306.4h0M435.6,311.0h0M433.5,310.9h0M434.0,308.6h0M426.0,304.1h0M441.2,302.4h0M445.0,305.5h0M450.1,296.5h0M447.3,303.0h0M446.2,307.2h0M435.9,311.1h0M434.5,310.5h0M429.9,300.8h0M430.9,302.1h0M434.6,310.3h0M427.2,304.3h0M428.3,303.6h0M447.2,306.2h0M422.8,307.1h0M435.2,311.0h0M422.2,295.1h0M437.5,309.5h0M446.7,304.0h0M420.8,300.2h0M430.2,309.3h0M428.2,308.8h0M442.0,302.5h0M430.0,303.0h0M440.0,309.9h0M442.3,307.5h0M432.5,305.9h0M435.6,310.5h0M421.1,304.7h0M433.4,307.5h0M429.5,310.0h0M441.2,303.6h0M448.9,302.0h0M432.4,309.6h0M426.6,309.3h0M435.9,312.2h0M443.0,308.3h0M433.4,310.6h0M428.2,302.3h0M435.6,312.1h0M425.2,303.8h0M435.6,311.2h0M453.2,304.5h0M441.0,308.4h0M438.9,311.7h0M436.2,311.3h0M419.1,301.9h0M448.0,303.9h0M430.9,307.3h0M429.2,304.9h0M435.5,310.4h0M440.8,304.3h0M433.6,307.4h0M428.1,304.2h0M435.1,310.8h0M433.1,307.2h0M443.5,305.4h0M421.1,306.2h0M442.1,309.1h0M431.3,307.9h0M430.6,309.5h0M443.5,305.8h0M438.6,308.4h0M439.7,309.6h0M440.3,309.4h0M420.7,296.9h0M457.4,298.1h0M431.6,307.9h0M418.8,304.3h0M427.1,302.8h0M435.5,312.1h0M425.3,308.4h0M444.9,309.4h0M435.4,311.6h0M442.2,306.0h0M434.7,310.8h0M441.0,309.7h0M429.6,300.9h0M440.2,303.9h0M431.3,306.2h0M440.1,306.0h0M432.1,305.8h0M441.5,304.7h0M440.1,310.4h0M429.7,309.0h0M416.2,299.0h0M434.8,310.6h0M443.7,307.1h0M436.5,312.2h0M437.3,311.6h0M436.4,310.6h0M435.9,312.2h0M439.8,308.4h0M433.8,308.3h0M439.7,307.1h0M433.2,309.2h0M433.1,306.5h0M433.7,308.2h0M429.3,302.3h0M445.5,306.5h0M448.0,307.9h0M437.0,310.8h0M424.2,302.2h0M451.5,305.3h0M439.8,311.6h0M435.7,311.9h0M429.8,309.8h0M443.4,308.7h0M432.3,309.4h0M449.6,293.2h0M430.5,310.1h0M444.9,298.4h0M436.7,309.8h0M426.0,298.8h0M439.4,309.5h0M432.5,305.2h0M436.9,309.5h0M426.7,300.1h0M426.0,295.1h0M432.8,308.5h0M438.9,311.0h0M452.5,303.3h0M424.6,307.8h0M430.4,310.5h0M428.2,299.2h0M437.8,308.0h0M441.3,307.4h0M423.7,303.4h0M449.2,307.1h0M446.1,307.0h0M432.8,305.9h0M423.7,305.1h0M440.7,307.7h0M442.5,310.5h0M442.8,301.0h0M434.2,308.5h0M428.3,303.7h0M451.2,304.5h0M453.7,293.6h0M439.0,306.3h0M430.9,310.3h0M442.9,300.8h0M445.9,295.8h0M426.7,307.9h0M436.5,310.2h0M435.8,310.6h0M444.9,299.8h0M445.7,304.8h0M424.0,305.9h0M427.6,298.2h0M432.5,309.5h0M417.9,297.7h0M451.7,305.7h0M440.4,306.6h0M431.7,303.7h0M431.6,311.4h0M439.4,308.0h0M436.0,311.5h0M436.2,311.8h0M433.5,306.7h0M428.2,308.3h0M435.1,310.4h0M447.7,300.3h0M430.4,302.5h0M439.7,306.2h0M429.4,310.2h0M440.0,310.5h0M441.5,308.8h0M444.9,307.2h0M433.6,311.2h0M433.8,311.6h0M440.6,309.8h0M446.9,303.2h0M438.8,306.1h0M443.1,308.7h0M434.3,311.7h0M446.8,307.6h0M428.8,307.2h0M439.4,306.0h0M422.1,292.7h0M428.7,305.8h0M421.2,295.1h0M433.6,307.6h0M426.1,305.2h0M446.3,303.9h0M443.5,308.9h0M431.1,305.5h0M442.1,307.2h0M420.5,299.7h0M439.0,309.3h0M437.2,309.9h0M448.4,300.3h0M440.2,304.2h0M438.6,311.7h0M430.3,306.4h0M428.5,302.9h0M440.9,307.2h0M451.2,305.9h0M438.8,311.5h0M449.4,299.2h0M444.2,305.2h0M431.8,307.3h0M431.4,308.3h0M430.0,309.6h0M437.8,307.9h0M433.5,310.8h0M436.0,312.0h0M439.3,310.4h0M443.3,310.1h0M439.3,308.1h0M434.9,309.9h0M423.1,300.8h0M424.6,305.2h0M425.5,307.1h0M420.8,295.3h0M445.0,309.5h0M442.7,306.4h0M444.0,306.6h0M441.2,305.5h0M434.9,312.1h0M438.6,307.5h0M437.1,310.3h0M427.8,303.2h0M429.1,307.8h0M440.2,308.5h0M439.1,307.5h0M430.8,307.4h0M432.0,311.0h0M425.0,302.0h0M427.5,304.1h0M432.3,308.7h0M436.6,310.9h0M448.8,302.7h0M447.3,307.2h0M431.2,310.5h0M444.8,306.8h0M435.6,312.1h0M437.8,309.7h0M441.1,306.7h0M438.8,309.8h0M429.0,304.6h0M431.5,307.4h0M440.5,307.6h0M442.3,308.0h0M436.4,311.6h0M434.6,309.0h0M459.5,298.2h0M436.4,312.1h0M444.5,309.3h0M422.5,304.8h0M438.3,310.4h0M439.7,304.7h0M435.4,311.8h0M436.7,309.9h0M424.7,302.7h0M442.8,309.1h0M441.3,302.7h0M437.4,311.7h0M439.2,306.3h0M437.9,309.8h0M432.6,310.6h0M437.9,309.9h0M442.9,307.0h0M437.3,309.5h0M439.3,309.4h0M425.2,302.7h0M431.3,310.4h0M450.1,295.7h0M435.7,312.0h0M438.5,310.7h0M439.6,311.1h0M417.1,303.2h0M434.1,310.7h0M449.2,302.4h0M434.6,309.2h0M432.1,311.5h0M450.1,297.1h0M436.5,311.6h0M436.6,310.6h0M433.5,306.6h0M438.4,308.6h0M438.6,311.0h0M430.1,306.4h0M454.3,299.1h0M433.4,308.1h0M440.2,310.5h0M440.2,309.5h0M437.3,309.8h0M452.7,304.0h0M429.6,310.7h0M452.9,304.6h0M427.2,302.1h0M424.9,304.9h0M434.0,310.3h0M443.0,304.8h0M455.1,296.6h0M454.6,300.7h0M429.3,306.3h0M426.7,304.9h0M451.0,305.1h0M453.9,302.1h0M439.4,308.2h0M434.2,309.1h0M435.1,311.1h0M429.7,309.4h0M440.1,310.3h0M429.0,303.9h0M420.7,297.4h0M446.4,304.1h0M443.3,308.7h0M431.8,310.1h0M437.8,309.5h0M455.5,300.2h0M423.5,307.6h0M433.0,308.7h0M442.3,308.5h0M431.9,309.8h0M433.4,310.3h0M437.7,308.2h0M440.2,311.2h0M415.4,300.8h0M430.5,304.4h0M439.0,309.4h0M436.6,311.6h0M447.7,307.1h0M438.0,311.0h0M435.7,310.7h0M433.7,307.5h0M437.1,311.7h0M421.4,296.1h0M431.6,310.1h0M449.4,305.7h0M454.1,298.2h0M441.7,307.4h0M438.0,308.7h0M446.4,303.7h0M432.7,305.4h0M442.1,303.6h0M420.5,295.0h0M429.2,305.6h0M451.0,300.3h0M429.2,307.3h0M440.1,303.7h0M437.9,308.9h0M437.0,311.4h0M441.0,307.5h0M429.4,309.0h0M433.8,308.4h0M431.8,308.2h0M418.4,303.7h0M431.8,310.6h0M438.0,310.3h0M429.1,306.7h0M430.8,302.6h0M438.7,307.1h0M435.8,311.5h0M442.8,304.1h0M440.6,308.7h0M416.0,296.2h0M427.1,309.0h0M421.3,305.2h0M433.3,311.3h0M444.8,306.9h0M440.3,306.0h0M431.5,309.1h0M432.4,308.4h0M428.3,305.9h0M426.3,309.1h0M444.7,302.8h0M449.4,306.6h0M446.8,299.4h0M437.3,310.8h0M436.9,311.5h0M439.4,311.3h0M444.4,308.8h0M435.2,310.5h0M435.9,311.6h0M433.2,306.2h0M438.6,310.4h0M433.5,310.7h0M438.8,310.6h0M442.4,309.7h0M442.4,304.9h0M429.8,308.2h0M434.4,309.4h0M439.1,309.6h0M440.1,309.0h0M449.7,304.5h0M452.7,303.2h0M434.0,308.1h0M443.2,304.2h0M435.6,311.7h0M444.2,306.5h0M425.2,307.8h0M430.1,301.0h0M445.8,304.7h0M440.4,303.6h0M445.2,308.8h0M433.5,308.5h0M437.2,311.5h0M437.7,309.6h0M423.2,307.4h0M436.0,311.7h0M432.1,305.1h0M441.8,302.4h0M442.2,305.7h0M429.9,305.6h0M432.6,309.5h0M434.0,308.1h0M437.7,311.5h0M439.9,311.5h0M435.2,311.4h0M454.3,299.1h0M429.4,307.9h0M431.4,307.5h0M438.2,309.7h0M448.2,304.8h0M437.1,310.4h0M437.5,310.0h0M438.2,311.4h0M457.7,299.0h0M430.5,309.9h0M434.1,311.8h0M432.5,305.6h0M436.6,309.9h0M433.1,306.8h0M452.9,304.0h0M431.3,310.4h0M441.2,305.9h0M440.6,310.6h0M446.1,308.9h0M448.6,300.2h0M433.5,309.9h0M442.3,305.3h0M436.9,310.6h0M438.0,309.7h0M431.6,310.8h0M439.3,310.2h0M439.8,311.0h0M431.9,311.1h0M441.0,303.7h0M442.7,310.4h0M446.9,306.2h0M437.9,310.2h0M436.2,312.0h0M451.3,304.2h0M439.4,311.2h0M436.1,310.7h0M441.4,308.0h0M435.7,311.4h0M430.5,310.6h0M440.0,304.3h0M424.1,303.9h0M436.2,311.0h0M418.4,300.9h0M429.0,301.5h0M437.4,310.0h0M449.4,297.7h0M432.4,311.6h0M445.8,300.8h0M436.5,311.2h0M443.8,302.2h0M441.5,308.3h0M435.9,312.3h0M432.9,309.9h0M436.5,312.2h0M431.1,309.9h0M424.5,306.9h0M426.9,297.9h0M424.0,303.8h0M437.3,311.9h0M432.7,305.4h0M436.3,312.0h0M442.6,305.1h0M439.6,311.5h0M423.1,303.4h0M440.9,304.9h0M428.3,301.0h0M430.8,302.2h0M457.5,301.2h0M430.2,310.6h0M425.5,307.7h0M441.7,301.1h0M447.1,307.3h0M430.1,305.2h0M427.1,309.5h0M432.7,308.5h0M439.4,306.8h0M433.6,307.1h0M435.5,311.0h0M426.4,304.5h0M427.5,305.6h0M440.9,308.4h0M438.6,307.2h0M442.7,309.4h0M443.2,308.2h0M422.7,304.5h0M433.3,306.5h0M437.8,309.8h0M448.2,306.2h0M437.7,309.3h0M428.4,305.5h0M438.1,308.7h0M427.5,309.8h0M446.8,295.2h0M426.8,300.9h0M435.6,312.1h0M421.7,305.8h0M429.8,304.1h0M438.0,309.9h0M417.7,303.0h0M425.0,308.0h0M442.1,310.4h0M422.3,299.0h0M431.7,309.7h0M455.6,300.2h0M443.1,300.9h0M442.0,302.0h0M430.6,305.3h0M437.5,311.5h0M429.4,305.1h0M424.5,305.4h0M427.3,306.0h0M425.0,304.4h0M421.1,305.9h0M433.9,311.8h0M447.2,293.3h0M432.3,307.6h0M438.8,311.6h0M434.4,308.3h0M449.2,307.0h0M433.2,310.9h0M437.9,309.9h0M428.4,308.5h0M429.9,305.2h0M439.0,308.5h0M428.8,304.5h0M428.5,301.5h0M429.9,306.2h0M442.8,303.1h0M421.8,306.8h0M440.8,304.3h0M431.8,306.0h0M431.4,307.2h0M439.8,310.2h0M436.3,310.6h0M435.1,311.6h0M421.1,305.9h0M424.2,305.4h0M432.5,305.2h0M437.7,311.0h0M450.4,304.5h0M417.5,302.6h0M433.6,309.3h0M444.2,305.6h0M449.8,305.9h0M438.8,306.5h0M432.0,309.1h0M419.9,303.6h0M420.2,299.2h0M439.8,305.6h0M452.4,302.5h0M430.7,310.7h0M422.4,298.1h0M434.9,310.8h0M433.8,309.4h0M439.2,310.8h0M430.2,300.8h0M442.2,307.5h0M422.5,307.0h0M438.3,307.7h0M441.7,303.4h0M441.7,306.4h0M451.1,300.1h0M433.8,308.5h0M450.7,303.0h0M430.5,306.0h0M440.8,309.3h0M443.6,308.7h0M451.2,305.6h0M448.7,303.3h0M449.9,304.8h0M442.5,300.3h0M420.5,299.8h0M429.8,310.6h0M454.0,303.8h0M426.5,302.6h0M439.8,311.3h0M444.8,305.6h0M440.3,309.9h0M433.1,310.1h0M431.1,305.5h0M428.7,308.3h0M440.6,304.0h0M433.1,310.8h0M442.3,302.0h0M427.2,304.3h0M432.1,305.1h0M450.6,300.1h0M443.8,306.6h0M433.8,310.6h0M433.4,308.0h0M430.1,310.9h0M447.4,303.8h0M440.8,310.1h0M420.8,299.9h0M439.2,310.2h0M434.2,311.1h0M428.2,309.0h0M430.7,304.3h0M438.7,309.4h0M422.0,305.0h0M437.8,311.1h0M444.0,302.8h0M430.1,304.0h0M449.7,306.1h0M434.2,308.7h0M441.1,306.4h0M429.0,304.2h0M448.3,303.4h0M437.1,309.8h0M436.5,311.0h0M427.3,305.3h0M445.2,306.0h0M418.3,303.0h0M427.3,297.8h0M437.5,310.1h0M432.7,310.0h0M427.7,306.1h0M438.4,309.2h0M442.3,305.1h0M439.0,311.5h0M443.4,309.6h0M431.4,305.9h0M440.6,304.4h0M445.5,299.4h0M423.6,305.7h0M432.6,305.7h0M442.0,309.1h0M414.9,296.5h0M434.7,310.4h0M439.6,305.1h0M424.6,305.4h0M436.7,310.1h0M442.4,302.1h0M437.7,308.8h0M440.5,308.7h0M440.9,306.8h0M430.7,301.8h0M428.3,305.0h0M427.5,308.3h0M428.1,304.8h0M437.4,310.0h0M421.9,305.7h0M448.5,303.3h0M416.0,301.5h0M430.5,310.6h0M429.9,302.3h0M438.0,308.8h0M445.8,307.5h0M451.7,300.5h0M447.5,301.7h0M433.3,307.1h0M456.1,296.0h0M430.0,301.3h0M431.5,306.4h0M435.1,312.2h0M439.5,306.2h0M437.4,310.6h0M431.4,310.7h0M435.5,310.6h0M444.6,303.0h0M434.8,309.0h0M413.1,298.5h0M434.0,309.4h0M450.1,301.3h0M443.0,306.9h0M419.1,304.9h0M443.2,298.9h0M449.0,303.7h0M442.8,302.0h0M433.8,311.0h0M437.5,309.5h0M431.6,306.9h0M444.8,306.2h0M455.9,302.5h0M439.5,309.1h0M438.8,311.6h0M442.1,306.7h0M425.1,300.0h0M442.5,300.5h0M445.9,308.4h0M434.2,310.4h0M428.2,305.0h0M440.2,309.6h0M440.4,310.5h0M440.7,305.0h0M452.2,302.9h0M433.0,306.3h0M428.7,308.8h0M449.0,303.5h0M434.6,311.0h0M432.5,311.0h0M431.3,305.4h0M436.7,312.2h0M451.8,300.5h0M435.0,311.4h0M431.5,304.8h0M424.1,304.5h0M435.2,310.9h0M443.3,310.3h0M444.3,300.4h0M436.3,311.7h0M437.0,310.5h0M428.9,310.2h0M440.0,306.7h0M450.8,306.1h0M431.1,310.6h0M436.9,311.3h0M447.6,307.5h0M429.9,306.2h0M414.3,295.4h0M415.6,298.7h0M440.0,306.6h0M440.2,307.7h0M424.9,306.9h0M438.3,311.2h0M426.8,306.9h0M416.9,299.3h0M446.7,301.7h0M425.5,305.9h0M455.8,302.4h0M427.3,302.0h0M434.8,310.3h0M429.5,309.4h0M445.3,307.6h0M440.2,309.8h0M430.7,308.3h0M459.2,296.4h0M432.9,311.0h0M435.2,312.2h0M439.1,306.2h0M435.7,311.4h0M440.3,307.3h0M453.0,303.1h0M438.8,307.2h0M432.5,304.8h0M426.1,306.3h0M441.8,310.6h0M426.2,302.2h0M445.2,308.0h0M422.9,306.0h0M433.4,309.6h0M435.7,312.2h0M432.7,305.8h0M434.9,310.2h0M428.5,307.9h0M431.4,309.8h0M433.4,311.6h0M453.5,303.7h0M445.3,308.1h0M435.5,311.9h0M433.6,308.9h0M438.9,307.1h0M432.9,310.4h0M446.0,302.8h0M425.5,305.8h0M439.1,306.8h0M437.9,309.4h0M428.5,307.3h0M435.3,311.7h0M432.8,306.5h0M433.2,307.1h0M426.2,307.4h0M429.4,302.0h0M437.5,310.9h0M434.1,309.2h0M433.9,309.1h0M439.6,305.0h0M425.9,305.3h0M440.6,303.1h0M445.0,304.7h0M444.2,306.2h0M436.0,311.8h0M435.7,311.8h0M450.6,297.6h0M439.5,307.7h0M429.2,300.9h0M444.0,309.6h0M430.9,307.8h0M439.4,306.9h0M423.0,301.8h0M434.6,311.6h0M433.3,311.4h0M420.3,298.6h0M439.9,308.4h0M439.4,308.6h0M440.6,311.1h0M448.2,306.9h0M421.2,302.6h0M434.7,310.2h0M430.7,308.5h0M428.1,308.7h0M441.9,301.4h0M425.7,305.8h0M430.6,308.2h0M425.6,305.5h0M455.6,299.6h0M439.9,311.4h0M437.5,310.1h0M436.7,311.3h0M427.7,298.0h0M448.8,301.6h0M430.8,308.4h0M430.5,307.8h0M439.7,306.8h0M445.0,308.4h0M431.4,311.2h0M431.2,306.7h0M429.3,308.5h0M426.3,309.2h0M439.5,310.9h0M430.9,308.1h0M432.4,306.4h0M442.9,307.6h0M449.1,304.5h0M442.2,309.6h0M431.6,303.2h0M428.6,307.9h0M426.1,306.1h0M452.3,303.5h0M431.7,309.9h0M448.3,303.4h0M432.4,311.0h0M436.4,311.5h0M432.9,310.6h0M430.2,304.0h0M443.1,308.3h0M441.4,302.0h0M446.4,302.2h0M452.4,304.2h0M433.5,311.3h0M437.6,312.0h0M434.9,309.1h0M438.4,308.9h0M438.5,311.5h0M426.9,305.9h0M433.8,311.4h0M427.1,308.0h0M432.9,309.4h0M438.4,307.2h0M420.0,302.2h0M435.5,310.3h0M434.6,311.5h0M431.6,303.7h0M430.8,308.5h0M433.8,311.6h0M434.3,309.7h0M421.2,302.7h0M426.5,309.1h0M432.2,308.5h0M431.1,310.5h0M431.6,310.2h0M426.7,308.6h0M438.5,309.9h0M426.3,306.4h0M426.1,307.4h0M431.9,306.1h0M427.5,304.3h0M451.4,300.1h0M445.5,305.4h0M432.6,306.3h0M428.0,305.9h0M437.9,310.8h0M441.0,305.6h0M456.1,296.3h0M439.3,307.4h0M434.2,311.9h0M442.3,307.3h0M436.1,312.1h0M426.6,304.3h0M438.2,311.2h0M420.2,301.2h0M431.1,306.5h0M439.7,305.2h0M452.4,304.8h0M436.2,311.7h0M436.8,310.3h0M445.0,301.7h0M441.3,305.4h0M426.7,308.0h0M451.7,297.6h0M429.7,306.4h0M439.3,306.7h0M440.9,305.1h0M445.3,305.7h0M433.5,311.0h0M451.5,305.8h0M436.9,311.6h0M444.6,308.0h0M457.7,298.4h0M445.7,297.5h0M432.4,306.7h0M418.3,298.4h0M436.4,310.8h0M431.6,309.3h0M436.3,312.0h0M427.3,308.5h0M434.5,311.4h0M429.5,300.6h0M427.6,305.1h0M440.9,309.5h0M437.3,310.2h0M432.3,304.5h0M431.4,307.9h0M429.8,306.9h0M446.3,303.9h0M433.4,310.9h0M418.4,296.8h0M451.1,302.5h0M430.5,305.1h0M435.2,311.2h0M431.8,305.4h0M448.7,303.7h0M431.2,302.8h0M427.3,297.7h0M434.6,311.4h0M443.7,306.0h0M448.6,299.3h0M434.9,310.0h0M427.8,307.7h0M438.9,308.0h0M431.0,308.3h0M442.6,302.3h0M429.2,306.3h0M443.4,302.9h0M430.3,301.6h0M416.6,302.2h0M425.9,306.5h0M433.3,310.7h0M431.4,310.5h0M437.6,309.1h0M440.0,304.6h0M447.3,308.1h0M426.7,307.9h0M438.0,309.5h0M449.7,306.4h0M438.0,307.6h0M421.8,305.1h0M437.1,311.7h0M438.6,311.0h0M417.3,302.6h0M453.7,298.4h0M435.6,310.9h0M429.8,307.6h0M433.2,310.1h0M428.1,309.8h0M446.4,297.4h0M432.9,309.5h0M443.2,305.2h0M430.0,303.6h0M440.1,308.4h0M420.7,305.7h0M433.4,306.8h0M451.8,300.8h0M440.3,303.7h0M426.7,301.3h0M439.8,311.0h0M445.1,309.4h0M429.9,303.7h0M437.8,311.6h0M454.2,303.7h0M447.7,298.4h0M427.2,303.2h0M440.5,307.3h0M437.3,310.1h0M440.7,304.3h0M451.4,302.1h0M437.4,310.4h0M433.3,310.2h0M429.5,303.6h0M438.7,311.2h0M442.4,303.1h0M421.2,304.1h0M428.7,300.6h0M438.6,310.0h0M444.2,303.9h0M435.5,311.7h0M436.9,311.7h0M440.2,304.5h0M428.3,310.1h0M433.8,307.1h0M421.1,303.1h0M434.2,311.0h0M436.9,311.9h0M433.9,311.3h0M444.0,309.6h0M443.2,301.4h0M422.4,298.7h0M432.4,305.6h0M444.7,305.7h0M434.0,307.5h0M427.1,308.4h0M440.0,308.9h0M424.6,300.2h0M427.8,301.8h0M436.9,312.0h0M431.3,305.7h0M419.7,300.1h0M429.5,306.1h0M432.9,311.7h0M419.7,303.5h0M436.1,312.1h0M438.4,310.0h0M433.3,309.2h0M430.3,309.2h0M444.4,297.4h0M433.7,311.7h0M438.7,310.0h0M429.8,300.5h0M447.1,305.6h0M433.8,311.4h0M432.1,308.1h0M425.2,307.4h0M440.6,308.4h0M431.7,303.7h0M427.9,310.0h0M435.4,310.5h0M419.6,300.4h0M431.2,307.6h0M421.3,302.5h0M439.5,307.7h0M432.7,305.5h0M427.2,307.8h0M432.6,305.6h0M439.0,309.6h0M437.9,308.5h0M432.0,311.5h0M442.4,300.7h0M435.3,311.5h0M444.1,303.1h0M431.3,308.2h0M424.6,304.2h0M447.4,299.1h0M415.5,301.8h0M427.9,304.9h0M443.0,304.8h0M423.7,302.6h0M427.4,308.4h0M427.8,303.1h0M430.5,309.5h0M433.8,310.0h0M448.8,296.6h0M441.1,307.9h0M427.1,303.1h0M427.2,308.2h0M431.4,307.1h0M437.6,309.5h0M448.7,304.8h0M437.8,310.5h0M442.5,302.4h0M431.5,307.4h0M441.7,301.0h0M437.5,309.3h0M426.1,302.8h0M434.9,312.1h0M453.1,302.1h0M422.4,305.0h0M428.5,307.0h0M454.8,302.8h0M434.1,308.0h0M418.7,297.1h0M436.3,310.9h0M440.8,309.1h0M442.5,306.0h0M427.2,308.9h0M439.6,311.2h0M431.6,307.3h0M430.1,310.5h0M440.6,309.0h0M431.3,302.8h0M425.4,308.0h0M443.4,309.9h0M444.1,307.8h0M429.7,310.4h0M436.6,310.3h0M444.0,308.6h0M431.7,307.5h0M449.8,306.0h0M427.5,303.2h0M441.3,304.3h0M422.4,306.2h0M421.1,305.1h0M426.1,297.8h0M451.4,304.4h0M442.1,308.4h0M431.0,307.0h0M434.1,308.5h0M425.8,305.1h0M440.6,303.3h0M447.0,304.1h0M437.3,308.7h0M441.0,311.1h0M438.7,309.3h0M432.3,306.6h0M454.3,302.3h0M436.4,310.4h0M443.6,303.1h0M432.8,306.8h0M448.2,304.0h0M447.8,299.7h0M445.7,304.1h0M423.9,307.7h0M430.4,311.0h0M430.5,306.4h0M424.5,307.8h0M421.2,304.4h0M436.3,311.5h0M435.6,311.5h0M438.7,311.5h0M440.1,305.9h0M434.6,308.7h0M433.3,309.7h0M439.6,305.4h0M433.4,311.3h0M434.2,309.9h0M430.7,304.5h0M445.6,306.4h0M438.8,310.2h0M438.5,308.6h0M447.7,298.7h0M437.9,310.9h0M428.5,298.6h0M438.1,310.4h0M438.7,310.2h0M459.2,296.1h0M436.0,312.0h0M434.0,307.9h0M425.9,308.7h0M425.9,304.2h0M434.8,310.8h0M436.8,312.0h0M431.4,308.6h0M439.4,307.5h0M433.7,310.6h0M433.8,309.7h0M444.4,307.7h0M452.2,303.3h0M446.5,303.4h0M436.7,311.0h0M427.7,305.3h0M432.2,311.1h0M429.4,301.0h0M437.7,309.5h0M436.8,310.3h0M440.7,304.7h0M449.3,307.0h0M451.0,302.3h0M431.1,303.9h0M428.4,307.3h0M436.9,311.9h0M457.5,294.7h0M420.0,297.8h0M438.5,309.9h0M444.5,299.4h0M417.1,299.4h0M443.9,305.2h0M433.4,309.5h0M442.5,304.7h0M442.0,309.9h0M441.4,306.0h0M439.0,311.7h0M440.0,308.4h0M421.8,306.6h0M451.5,303.8h0M430.9,308.2h0M433.0,309.4h0M450.6,302.7h0M439.5,308.7h0M432.6,307.4h0M439.8,311.0h0M434.1,310.9h0M420.6,304.0h0M433.0,307.6h0M419.1,302.5h0M431.0,306.8h0M428.0,306.0h0M445.7,306.1h0M425.9,297.9h0M440.2,309.5h0M431.4,307.4h0M428.5,307.3h0M440.8,307.2h0M424.5,302.6h0M434.2,310.5h0M444.4,306.8h0M443.8,305.1h0M439.8,307.3h0M430.3,308.1h0M443.8,303.0h0M439.8,307.6h0M433.6,307.0h0M446.1,307.2h0M431.0,307.8h0M447.8,303.4h0M431.9,303.8h0M435.0,311.7h0M448.5,306.7h0M440.3,309.3h0M431.5,306.0h0M427.1,308.2h0M441.5,307.4h0M427.9,303.5h0M443.9,306.2h0M426.0,305.9h0M442.6,303.5h0M439.5,310.5h0M441.3,304.4h0M435.3,311.2h0M440.6,310.2h0M444.3,299.9h0M424.2,304.8h0M422.6,306.5h0M443.5,298.3h0M444.7,306.6h0M436.1,312.3h0M439.0,307.0h0M431.1,302.7h0M443.2,302.1h0M434.9,310.4h0M446.9,299.8h0M439.1,311.0h0M433.5,311.6h0M428.4,309.9h0M441.6,304.6h0M453.7,295.9h0M444.4,307.0h0M441.8,308.8h0M432.5,309.7h0M444.0,309.9h0M419.1,299.3h0M424.4,299.3h0M429.7,301.1h0M419.0,303.4h0M425.8,305.1h0M430.1,305.0h0M439.0,309.1h0M439.2,311.1h0M421.9,302.2h0M432.0,305.6h0M427.6,302.9h0M419.2,297.8h0M445.8,304.7h0M430.2,304.2h0M426.4,304.0h0M440.4,309.8h0M438.7,307.8h0M434.1,307.9h0M428.1,309.4h0M428.5,303.8h0M428.1,304.0h0M449.5,307.2h0M433.4,308.6h0M426.2,305.7h0M438.7,307.7h0M441.8,304.4h0M435.5,311.5h0M431.1,304.5h0M435.5,312.1h0M432.8,309.8h0M440.7,309.7h0M434.4,310.6h0M439.9,309.8h0M429.7,301.6h0M429.1,305.5h0M422.0,302.8h0M427.0,303.5h0M435.8,311.2h0M422.9,306.5h0M431.4,306.0h0M430.0,301.5h0M444.4,305.5h0M417.1,301.9h0M430.6,306.9h0M429.5,300.3h0M430.3,310.7h0M434.7,311.8h0M427.0,305.6h0M454.9,295.1h0M437.6,309.7h0M443.2,308.5h0M433.9,310.9h0M437.6,308.4h0M438.9,311.3h0M431.9,306.5h0M425.7,305.3h0M437.0,311.5h0M441.6,303.6h0M442.4,308.2h0M448.6,307.7h0M433.3,309.4h0M425.5,306.9h0M430.5,309.0h0M415.6,297.1h0M433.3,309.1h0M422.1,302.5h0M429.4,305.4h0M439.0,307.7h0M442.4,308.2h0M428.4,304.8h0M452.4,300.2h0M429.3,301.4h0M436.4,311.4h0M445.3,299.0h0M438.7,309.3h0M430.8,303.0h0M432.7,306.4h0M440.0,310.4h0M443.4,299.2h0M446.9,308.0h0M431.2,308.5h0M438.4,311.4h0M432.5,306.0h0M440.8,305.8h0M429.9,304.3h0M454.1,303.6h0M441.7,306.0h0M434.9,311.5h0M439.3,310.4h0M434.0,308.5h0M432.3,309.9h0M443.2,302.2h0M449.5,300.3h0M427.6,300.2h0M424.8,307.1h0M419.1,301.0h0M430.3,301.6h0M429.3,306.8h0M426.3,303.8h0M441.8,303.2h0M437.6,311.5h0M443.8,303.6h0M429.4,305.6h0M434.4,308.7h0M430.9,303.2h0M430.5,302.0h0M433.8,308.2h0M445.0,296.4h0M442.6,307.1h0M457.3,301.2h0M440.6,308.5h0M452.4,302.2h0M433.7,308.8h0M419.2,303.6h0M432.6,310.2h0M432.5,309.4h0M419.2,301.1h0M436.3,310.7h0M446.5,300.1h0M431.7,307.9h0M439.1,310.9h0M431.7,309.6h0M425.8,306.9h0M435.7,310.4h0M429.8,306.0h0M420.3,301.0h0M423.2,299.8h0M431.0,306.3h0M435.5,310.3h0M429.9,303.9h0M423.5,306.1h0M430.4,304.7h0M442.8,305.9h0M445.2,301.7h0M439.0,310.7h0M440.1,305.6h0M429.7,309.0h0M456.4,301.1h0M430.6,308.7h0M437.4,309.3h0M426.6,303.3h0M439.5,307.6h0M442.2,308.1h0M437.3,309.3h0M443.8,309.5h0M441.8,306.1h0M433.7,311.8h0M439.5,305.5h0M438.6,307.3h0M446.9,305.7h0M430.3,306.1h0M437.7,310.6h0M456.9,300.4h0M424.8,307.8h0M440.4,310.2h0M419.8,301.4h0M430.8,302.6h0M450.1,297.4h0M435.7,312.3h0M431.7,304.3h0M435.9,311.7h0M428.7,308.1h0M437.7,310.4h0M432.3,309.6h0M449.9,304.8h0M419.6,298.4h0M438.1,309.1h0M428.9,303.7h0M430.1,304.6h0M436.7,311.5h0M436.4,311.1h0M429.2,306.2h0M415.4,299.7h0M458.3,298.3h0M436.1,312.2h0M438.8,307.8h0M433.4,308.2h0M438.9,308.9h0M434.8,311.6h0M441.3,310.5h0M434.8,308.9h0M445.3,303.8h0M435.7,312.3h0M440.2,306.5h0M442.8,310.3h0M437.2,311.2h0M432.0,310.6h0M437.7,308.1h0M428.0,306.6h0M428.8,302.8h0M446.9,306.1h0M429.6,307.1h0M443.1,308.6h0M423.7,306.6h0M431.8,307.8h0M434.9,309.8h0M427.3,307.1h0M431.9,310.9h0M438.5,306.9h0M425.8,305.3h0M440.9,304.6h0M421.4,304.3h0M442.3,309.3h0M447.1,307.6h0M429.7,308.1h0M434.7,309.9h0M421.8,305.6h0M440.8,310.9h0M424.9,308.1h0M427.0,303.3h0M432.3,311.3h0M435.4,310.5h0M428.5,306.7h0M435.3,309.7h0M434.5,310.9h0M458.8,299.6h0M440.1,307.3h0M415.5,301.2h0M434.4,311.3h0M427.7,304.3h0M447.1,304.8h0M429.1,308.2h0M426.4,302.2h0M436.2,311.3h0M427.3,308.5h0M433.5,311.8h0M431.0,304.0h0M436.1,311.1h0M429.3,309.8h0M430.2,310.2h0M439.9,308.6h0M450.9,300.6h0M440.4,308.0h0M431.7,303.9h0M414.8,297.7h0M435.8,310.8h0M429.5,300.1h0M439.5,311.3h0M436.6,310.4h0M431.8,305.0h0M448.6,307.7h0M435.7,311.7h0M427.2,300.5h0M430.1,303.0h0M442.0,306.5h0M440.4,305.5h0M439.1,307.2h0M453.5,303.4h0M453.0,298.4h0M452.3,304.7h0M427.1,302.0h0M433.8,309.1h0M431.0,310.7h0M439.7,311.3h0M433.8,310.2h0M427.9,298.6h0M451.2,300.3h0M441.2,306.8h0M443.6,299.9h0M427.7,297.0h0M425.3,303.3h0M445.5,306.7h0M433.3,310.8h0M433.1,309.7h0M443.9,300.8h0M431.7,304.6h0M438.7,311.6h0M437.2,311.2h0M437.0,310.6h0M435.8,310.9h0M437.0,311.2h0M455.3,301.5h0M456.5,298.4h0M455.7,302.4h0M435.7,311.8h0M436.3,311.4h0M451.3,302.5h0M437.6,312.0h0M441.1,309.0h0M434.2,310.4h0M422.3,307.0h0M417.6,301.8h0M444.8,308.6h0M430.4,301.7h0M438.2,308.1h0M437.2,308.9h0M450.0,306.5h0M432.7,308.6h0M433.5,310.3h0M430.8,309.5h0M424.7,296.0h0M434.6,310.5h0M440.9,305.6h0M443.2,308.4h0M442.8,309.4h0M439.5,311.3h0M436.2,310.6h0M429.6,300.8h0M432.9,311.4h0M432.4,306.4h0M442.4,309.5h0M436.7,310.3h0M457.6,299.7h0M424.1,305.0h0M433.5,308.2h0M452.9,297.5h0M428.9,304.1h0M446.7,298.1h0M424.4,306.7h0M446.9,303.9h0M450.8,299.6h0M442.8,306.7h0M425.5,302.2h0M448.8,301.7h0M440.1,306.7h0M443.0,310.2h0M432.2,305.6h0M449.1,307.5h0M440.1,309.8h0M431.8,306.4h0M445.6,300.3h0M444.2,302.9h0M423.6,307.8h0M431.5,307.2h0M432.6,309.8h0M433.8,307.7h0M439.1,305.9h0M455.5,297.1h0M425.0,298.6h0M436.6,311.5h0M428.4,304.4h0M442.6,301.0h0M438.8,310.7h0M431.8,308.2h0M432.8,309.9h0M428.8,298.4h0M433.3,308.2h0M445.0,300.4h0M450.4,303.0h0M425.7,304.3h0M436.6,310.7h0M447.0,302.2h0M429.2,300.4h0M451.4,298.8h0M435.9,312.2h0M445.1,305.9h0M442.5,306.6h0M429.4,305.6h0M433.4,307.9h0M430.4,306.5h0M423.2,303.0h0M420.7,303.0h0M446.1,303.8h0M437.5,311.0h0M420.4,295.2h0M429.8,305.0h0M432.1,310.1h0M433.4,311.8h0M426.5,308.1h0M432.9,310.7h0M440.7,308.6h0M437.1,309.1h0M416.3,301.5h0M443.3,306.9h0M442.1,300.2h0M423.0,307.0h0M438.7,307.0h0M447.2,294.2h0M434.3,311.9h0M457.0,294.0h0M431.0,308.6h0M435.4,311.7h0M437.3,311.4h0M431.3,307.2h0M436.7,310.5h0M436.4,312.2h0M434.0,309.9h0M434.1,309.5h0M417.4,297.7h0M456.3,302.2h0M441.4,305.5h0M431.7,307.0h0M457.4,301.2h0M443.3,308.8h0M438.7,310.6h0M429.7,306.8h0M439.9,310.5h0M439.0,311.5h0M425.5,295.3h0M418.4,300.9h0M430.6,304.3h0M418.0,303.2h0M436.1,311.3h0M435.8,311.5h0M437.3,308.9h0M441.1,305.3h0M429.9,304.4h0M443.0,307.6h0M454.9,294.8h0M439.2,305.7h0M431.8,306.7h0M414.6,300.9h0M436.7,312.1h0M441.5,310.5h0M439.1,307.9h0M440.9,308.3h0M432.4,307.2h0M459.4,298.2h0M430.6,307.5h0M434.8,311.5h0M446.7,295.1h0M432.2,308.6h0M432.5,304.8h0M431.6,309.4h0M424.5,301.5h0M428.8,302.2h0M434.8,310.8h0M438.1,311.7h0M448.9,307.4h0M440.8,304.8h0M430.7,310.6h0M431.3,306.7h0M444.2,303.5h0M417.6,302.3h0M444.1,302.4h0M457.4,297.5h0M443.8,305.6h0M454.5,303.7h0M434.8,310.7h0M436.1,312.2h0M427.8,309.4h0M440.8,306.7h0M440.6,305.6h0M442.5,303.4h0M439.7,307.5h0M423.0,307.5h0M432.4,309.4h0M439.1,311.3h0M435.9,311.7h0M426.3,305.9h0M431.8,305.1h0M423.2,294.4h0M441.0,311.1h0M440.1,306.7h0M428.3,306.4h0M431.2,310.2h0M436.6,312.1h0M445.0,297.7h0M434.7,309.8h0M425.4,306.0h0M448.9,303.8h0M454.4,296.6h0M436.6,310.2h0M439.2,306.9h0M428.6,301.8h0M435.6,311.1h0M435.5,311.7h0M451.1,302.0h0M443.1,302.2h0M427.7,309.8h0M431.3,303.9h0M453.1,299.3h0M439.6,310.6h0M440.2,309.4h0M430.7,308.5h0M433.1,306.9h0M433.4,306.6h0M430.6,309.0h0M429.9,301.1h0M421.0,303.1h0M443.0,310.3h0M429.0,308.5h0M431.3,310.2h0M427.0,308.7h0M446.3,308.1h0M441.8,307.5h0M436.4,312.3h0M443.6,302.3h0M434.5,308.8h0M437.1,309.7h0M436.4,311.1h0M439.4,309.9h0M437.9,309.2h0M418.3,296.7h0M446.2,302.3h0M442.2,308.6h0M445.1,299.1h0M428.8,310.1h0M437.6,311.7h0M446.5,305.0h0M438.3,311.5h0M444.5,306.4h0M428.7,306.1h0M423.7,307.6h0M440.3,307.7h0M437.9,310.0h0M432.0,307.3h0M439.4,310.5h0M427.6,301.6h0M435.7,311.1h0M439.0,306.0h0M439.1,305.7h0M447.8,306.0h0M441.8,303.9h0M451.3,301.4h0M440.0,305.6h0M440.0,306.6h0M442.3,305.9h0M425.1,308.4h0M442.4,308.1h0M441.4,307.1h0M433.7,311.9h0M447.9,307.6h0M430.8,308.6h0M434.4,310.7h0M428.8,309.7h0M444.9,309.3h0M423.4,307.3h0M434.5,311.7h0M450.2,300.5h0M445.3,301.2h0M433.1,310.3h0M436.1,311.8h0M435.5,312.2h0M454.2,298.2h0M438.7,309.8h0M435.3,311.8h0M432.3,304.5h0M442.1,300.8h0M427.3,304.0h0M434.8,312.0h0M426.5,294.6h0M426.3,302.9h0M414.3,300.8h0M432.1,310.8h0M428.6,303.9h0M437.0,310.6h0M450.9,302.2h0M431.6,309.6h0M428.8,305.1h0M423.2,307.1h0M416.1,300.7h0M440.1,308.0h0M431.5,305.0h0M430.2,302.7h0M432.3,308.7h0M441.5,302.2h0M434.5,310.8h0M434.3,308.0h0M435.5,310.9h0M449.5,307.1h0M445.8,309.3h0M450.8,304.6h0M415.9,292.2h0M431.8,304.2h0M446.3,307.6h0M437.3,309.6h0M431.9,309.3h0M439.8,305.0h0M444.7,307.2h0M446.2,303.6h0M447.5,307.5h0M438.6,309.0h0M441.3,310.2h0M423.4,296.2h0M438.4,311.1h0M429.6,306.1h0M443.5,308.7h0M439.3,310.2h0M423.8,297.7h0M427.4,305.7h0M426.2,300.5h0M444.7,302.1h0M424.4,301.0h0M451.7,304.5h0M442.6,310.6h0M451.4,302.7h0M432.3,307.4h0M456.4,301.8h0M435.9,310.8h0M426.8,304.6h0M438.4,311.0h0M449.4,304.3h0M437.8,310.3h0M433.8,311.3h0M437.1,310.3h0M454.7,292.6h0M433.2,309.3h0M441.6,303.0h0M440.7,303.6h0M421.0,302.9h0M432.7,307.5h0M449.7,303.4h0M424.6,305.1h0M419.9,293.3h0M440.6,310.6h0M455.2,302.4h0M431.9,307.9h0M438.5,309.7h0M431.3,307.7h0M429.9,303.4h0M440.8,303.5h0M445.3,303.6h0M441.7,307.8h0M429.9,304.5h0M440.7,311.0h0M429.1,310.0h0M426.9,305.5h0M440.6,310.2h0M437.5,310.4h0M438.5,309.7h0M440.6,309.4h0M441.7,307.1h0M434.2,312.0h0M438.0,310.0h0M441.6,307.1h0M447.6,300.3h0M433.8,309.7h0M420.1,300.8h0M428.8,308.2h0M423.1,303.0h0M431.5,311.0h0M437.1,310.4h0M422.2,300.7h0M446.6,304.0h0M429.0,299.9h0M429.8,308.5h0M431.1,302.8h0M440.4,311.0h0M439.5,311.2h0M451.4,304.4h0M450.7,304.2h0M434.9,309.5h0M419.0,303.0h0M432.6,308.5h0M444.2,299.7h0M437.0,311.5h0M440.8,308.2h0M423.9,298.6h0M437.8,311.0h0M429.7,310.7h0M447.6,307.6h0M426.1,298.2h0M434.9,311.5h0M438.1,309.2h0M442.3,310.1h0M446.6,298.1h0M442.9,301.7h0M436.6,310.1h0M438.0,310.7h0M435.6,311.5h0M438.4,307.4h0M434.5,309.6h0M441.2,310.9h0M453.2,296.2h0M430.4,302.3h0M440.6,310.8h0M449.6,296.3h0M434.2,310.5h0M433.3,309.6h0M426.1,302.2h0M444.8,309.3h0M445.3,305.0h0M435.6,311.0h0M431.0,303.6h0M422.4,301.6h0M427.9,308.2h0M437.4,309.1h0M421.8,303.8h0M440.7,307.9h0M444.1,305.5h0M441.5,307.1h0M439.8,310.6h0M432.9,307.6h0M440.7,306.1h0M436.3,311.4h0M432.8,308.6h0M437.1,309.4h0M447.4,306.7h0M443.4,306.8h0M426.4,301.4h0M443.1,304.7h0M438.9,308.0h0M438.5,310.3h0M434.2,309.1h0M439.6,311.2h0M426.9,306.0h0M441.0,306.6h0M428.4,306.2h0M442.7,309.5h0M436.4,312.0h0M443.0,303.0h0M438.6,306.7h0M444.7,306.7h0M436.8,311.4h0M446.3,308.8h0M440.6,308.1h0M436.4,310.6h0M437.2,311.7h0M418.9,302.3h0M442.2,309.6h0M427.6,307.1h0M431.4,310.7h0M434.9,310.6h0M431.4,306.9h0M431.3,310.5h0M436.0,311.6h0M442.5,299.6h0M436.9,310.1h0M442.8,308.1h0M447.1,292.0h0M434.5,312.0h0M433.5,311.1h0M434.5,310.0h0M441.9,310.3h0M439.4,307.5h0M438.8,311.7h0M428.3,309.4h0M439.3,310.2h0M426.9,301.3h0M442.4,306.4h0M441.8,302.9h0M435.2,311.1h0M448.4,299.0h0M444.8,309.5h0M441.8,308.8h0M439.0,306.5h0M446.1,302.8h0M436.4,310.7h0M433.9,312.0h0M428.2,306.8h0M428.7,307.7h0M426.8,308.7h0M430.1,302.8h0M442.0,300.6h0M444.6,306.2h0M453.4,303.6h0M435.0,310.0h0M451.9,304.3h0M444.0,310.0h0M442.9,303.8h0M438.5,308.1h0M441.8,306.4h0M439.1,308.7h0M435.3,309.8h0M441.2,307.1h0M427.5,307.7h0M444.1,305.3h0M437.2,310.5h0M427.4,303.1h0M430.1,308.7h0M423.0,307.3h0M438.7,310.3h0M443.4,302.4h0M449.7,306.8h0M442.4,309.3h0M430.5,308.1h0M419.4,304.7h0M437.4,310.4h0M446.2,307.6h0M431.8,308.4h0M440.8,307.8h0M446.4,297.1h0M431.8,311.0h0M438.0,309.4h0M444.2,309.3h0M434.3,308.2h0M442.1,304.7h0M439.8,307.6h0M432.1,306.4h0M447.2,305.0h0M437.2,311.6h0M417.5,303.2h0M425.7,305.4h0M437.1,310.7h0M434.5,311.3h0M435.9,311.1h0M436.7,311.2h0M433.5,306.9h0M438.9,310.1h0M438.8,309.2h0M413.3,299.4h0M436.7,310.0h0M434.4,311.2h0M442.9,304.9h0M427.0,305.8h0M428.5,304.5h0M443.4,300.4h0M419.5,301.6h0M458.4,299.4h0M439.2,311.6h0M447.8,306.5h0M431.3,310.4h0M430.7,302.8h0M436.3,312.2h0M435.3,311.3h0M431.9,311.5h0M429.4,310.4h0M435.1,311.4h0M436.7,311.2h0M437.4,311.9h0M436.7,311.5h0M435.4,312.0h0M435.5,311.4h0M432.1,311.6h0M438.6,311.7h0M437.2,312.1h0M436.4,311.0h0M436.4,312.0h0M435.3,311.5h0M434.4,312.2h0M436.2,311.9h0M437.4,311.7h0M429.4,310.7h0M435.7,311.4h0M436.8,310.8h0M434.6,311.8h0M434.0,312.1h0M435.4,311.2h0M437.8,310.6h0M440.1,311.6h0M436.3,311.5h0M435.4,311.6h0M436.5,311.1h0M433.8,310.8h0M440.3,310.8h0M435.8,311.4h0M434.9,311.1h0M437.2,311.4h0M436.0,311.0h0M436.0,311.5h0M432.9,310.8h0M439.2,311.3h0M435.1,312.3h0M432.8,311.5h0M436.5,311.5h0M434.6,310.9h0M437.8,310.8h0M438.0,310.8h0M437.4,311.8h0M436.2,312.4h0M438.1,311.8h0M436.1,312.3h0M434.9,310.8h0M434.8,311.8h0M440.9,310.3h0M440.1,311.3h0M436.7,311.1h0M432.0,310.6h0M440.3,310.7h0M439.3,311.6h0M439.6,310.7h0M439.3,311.3h0M435.4,311.6h0M435.6,312.1h0M433.8,311.4h0M430.8,311.3h0M435.0,312.2h0M441.8,310.0h0M437.9,310.7h0M434.7,312.1h0M437.7,310.9h0M437.2,310.8h0M433.5,311.5h0M440.2,311.6h0M442.5,310.3h0M436.5,312.4h0M434.9,311.7h0M433.4,310.4h0M437.0,312.2h0M439.5,311.7h0M437.4,310.7h0M436.7,311.2h0M435.3,311.9h0M436.3,311.5h0M439.3,311.6h0M433.0,311.3h0M435.6,312.3h0M438.5,311.2h0M436.7,311.8h0M437.3,311.9h0M433.7,311.3h0M441.0,310.1h0M433.8,311.9h0M436.4,310.9h0M435.1,312.0h0M432.8,311.4h0M435.8,312.2h0M432.3,311.4h0M437.6,311.1h0M437.1,311.2h0M434.3,312.0h0M433.4,310.8h0M431.7,311.4h0M439.4,310.6h0M436.8,310.9h0M439.1,311.0h0M437.2,312.2h0M438.5,311.8h0M436.6,311.6h0M435.8,312.1h0M436.9,311.2h0M434.6,311.7h0M432.7,311.3h0M439.3,310.8h0M438.5,310.8h0M433.8,310.6h0M435.8,312.5h0M437.2,310.8h0M433.9,312.0h0M437.9,311.2h0M436.1,311.3h0M437.8,312.0h0M435.4,310.9h0M435.4,312.0h0M434.5,311.4h0M440.6,310.6h0M441.6,310.8h0M438.0,311.0h0M437.3,311.7h0M432.3,310.5h0M439.1,311.7h0M442.2,310.7h0M433.8,310.6h0M434.3,312.0h0M441.7,310.3h0M437.3,311.8h0M438.5,312.0h0M438.1,311.0h0M437.2,311.9h0M434.9,311.4h0M437.9,310.9h0M434.5,312.2h0M436.7,312.0h0M433.4,311.1h0M435.9,311.3h0M435.6,312.3h0M437.9,311.4h0M436.1,311.5h0M434.4,310.8h0M435.4,311.2h0M439.0,311.8h0M435.7,311.7h0M436.9,312.2h0M437.4,310.8h0M436.8,311.5h0M432.9,311.2h0M439.4,311.2h0M433.2,311.0h0M431.3,309.9h0M437.2,310.9h0M436.8,311.7h0M435.2,310.9h0M430.8,310.6h0M435.4,310.9h0M434.9,311.5h0M430.5,310.8h0M435.1,311.5h0M432.0,310.1h0M434.7,312.0h0M437.0,311.2h0M439.5,310.6h0M436.6,310.9h0M432.9,311.4h0M437.0,312.2h0M431.7,311.0h0M437.6,311.3h0M432.5,311.3h0M434.6,311.8h0M441.7,310.5h0M437.3,312.0h0M437.0,311.6h0M431.8,311.6h0M432.9,311.1h0M437.1,312.1h0M434.7,311.0h0M435.6,311.0h0M437.4,311.2h0M436.7,311.9h0M431.2,310.9h0M436.3,311.1h0M438.6,311.1h0M437.5,311.6h0M437.1,312.0h0M434.7,311.7h0M429.4,310.3h0M438.4,311.7h0M433.5,311.8h0M439.8,311.5h0M438.1,310.8h0M432.1,310.9h0M437.2,310.8h0M435.9,311.2h0M439.3,310.4h0M431.7,311.5h0M437.2,311.2h0M432.6,311.7h0M432.7,311.1h0M432.9,311.7h0M439.5,311.5h0M438.9,310.4h0M437.8,312.0h0M434.2,312.0h0M433.7,311.3h0M436.0,311.9h0M433.7,311.9h0M437.9,311.6h0M434.0,311.7h0M433.7,311.8h0M438.0,311.6h0M438.0,311.1h0M433.8,310.8h0M436.5,312.2h0M438.3,311.6h0M433.9,310.8h0M438.0,310.9h0M436.9,312.2h0M437.0,312.1h0M435.9,311.9h0M438.7,311.8h0M438.0,310.7h0M435.4,311.8h0M438.2,310.9h0M436.2,311.7h0M438.5,311.4h0M439.6,310.6h0M439.4,310.9h0M436.5,310.9h0M436.7,311.8h0M435.6,311.4h0M436.6,311.0h0M438.3,311.6h0M436.6,311.7h0M436.7,311.9h0M436.0,311.6h0M433.2,311.5h0M436.8,310.9h0M431.9,311.4h0M434.2,311.1h0M431.0,310.3h0M435.5,311.7h0M433.9,310.9h0M436.9,311.5h0M434.7,311.4h0M436.3,311.2h0M458.9,294.2h0M455.6,297.3h0M420.9,285.7h0M419.0,296.2h0M452.7,291.5h0M450.6,295.4h0M448.9,297.9h0M421.1,291.4h0M414.8,285.9h0M416.1,294.5h0M449.2,285.5h0M454.1,291.6h0M453.1,296.9h0M423.6,296.8h0M415.0,293.9h0M451.7,292.1h0M412.4,297.4h0M453.5,296.8h0M454.4,287.9h0M420.7,295.3h0M445.5,295.9h0M456.4,298.1h0M421.8,295.8h0M421.9,297.3h0M416.2,294.0h0M452.8,294.9h0M451.6,292.3h0M423.4,296.2h0M418.6,283.0h0M422.1,286.4h0M453.2,290.6h0M419.0,283.1h0M450.8,293.1h0M419.6,285.7h0M423.3,289.9h0M450.7,296.2h0M425.6,298.0h0M449.4,293.6h0M453.3,283.4h0M417.1,284.2h0M446.0,297.9h0M452.6,289.0h0M414.3,290.0h0M417.7,290.8h0M413.5,289.7h0M446.5,284.1h0M453.8,294.4h0M454.9,292.8h0M420.6,296.0h0M426.0,295.8h0M458.2,293.6h0M453.9,294.0h0M452.7,288.5h0M422.6,296.5h0M426.0,295.3h0M421.0,296.8h0M455.2,296.3h0M449.2,296.4h0M451.2,292.3h0M454.4,292.2h0M423.1,293.1h0M422.1,287.1h0M451.7,296.5h0M452.5,291.8h0M458.4,296.9h0M419.0,294.4h0M448.0,293.7h0M450.4,288.9h0M455.4,290.3h0M417.7,290.3h0M448.4,292.5h0M420.3,295.4h0M445.3,297.0h0M420.6,296.4h0M416.2,287.4h0M451.6,298.2h0M415.9,296.2h0M424.4,296.5h0M451.2,288.7h0M415.6,291.4h0M453.9,291.0h0M421.1,298.2h0M447.4,291.9h0M419.1,294.7h0M453.1,287.4h0M424.3,292.4h0M414.5,296.4h0M451.4,298.0h0M451.9,295.8h0M454.1,296.5h0M455.4,297.6h0M419.2,293.9h0M417.3,296.5h0M457.0,295.7h0M455.7,296.1h0M454.0,278.3h0M422.9,294.1h0M419.7,296.8h0M451.0,285.8h0M446.0,293.8h0M449.1,284.8h0M444.5,277.7h0M457.4,296.9h0M419.4,293.4h0M417.4,293.9h0M450.2,297.8h0M444.2,294.7h0M451.6,296.6h0M427.0,295.2h0M454.2,290.2h0M449.4,295.4h0M449.4,293.8h0M417.3,287.7h0M448.9,290.3h0M447.4,288.7h0M445.7,296.9h0M447.5,294.1h0M450.4,296.5h0M453.7,297.6h0M420.7,284.8h0M419.1,295.3h0M423.2,287.4h0M446.3,291.4h0M451.7,282.0h0M453.6,287.1h0M415.6,283.5h0M420.5,292.3h0M431.4,297.8h0M455.0,286.8h0M419.2,296.9h0M423.3,286.8h0M455.2,295.9h0M445.9,292.4h0M420.8,292.3h0M422.8,285.0h0M421.1,284.8h0M450.7,295.9h0M417.6,293.3h0M444.3,294.4h0M445.0,295.8h0M455.8,286.3h0M444.7,288.1h0M422.1,285.5h0M452.8,298.2h0M422.0,279.3h0M417.7,296.9h0M425.3,286.7h0M445.8,295.6h0M422.6,295.8h0M453.0,296.4h0M455.7,286.3h0M413.2,236.4h0M414.0,252.3h0M412.8,263.4h0M414.8,266.5h0M416.4,271.3h0M418.1,273.7h0M450.3,269.7h0M412.0,277.6h0M414.0,280.0h0M418.9,279.2h0M455.6,280.8h0M457.2,282.4h0M456.4,285.6h0M453.9,278.4h0M426.2,282.4h0M428.7,281.6h0M461.3,309.3h0M463.7,310.6h0M459.6,293.5h0M458.8,290.3h0M460.0,298.2h0"/>
<g fill="#e8202a"><circle cx="412.0" cy="214.2" r="0.6"/><circle cx="395.2" cy="260.2" r="0.6"/><circle cx="407.5" cy="269.7" r="0.6"/><circle cx="409.1" cy="271.3" r="0.6"/><circle cx="410.3" cy="277.6" r="0.6"/><circle cx="405.8" cy="284.8" r="0.6"/><circle cx="403.4" cy="287.1" r="0.6"/><circle cx="410.7" cy="287.1" r="0.6"/><circle cx="408.3" cy="291.9" r="0.6"/><circle cx="409.9" cy="293.5" r="0.6"/><circle cx="410.3" cy="296.6" r="0.6"/><circle cx="409.1" cy="298.2" r="0.6"/><circle cx="464.5" cy="261.8" r="0.6"/><circle cx="460.4" cy="267.3" r="0.6"/><circle cx="475.1" cy="267.3" r="0.6"/><circle cx="490.6" cy="270.5" r="0.6"/><circle cx="471.9" cy="273.7" r="0.6"/><circle cx="474.3" cy="274.5" r="0.6"/><circle cx="476.8" cy="274.0" r="0.6"/><circle cx="480.0" cy="277.6" r="0.6"/><circle cx="462.1" cy="280.8" r="0.6"/><circle cx="470.2" cy="279.2" r="0.6"/><circle cx="472.7" cy="280.8" r="0.6"/><circle cx="480.8" cy="280.0" r="0.6"/><circle cx="487.3" cy="280.0" r="0.6"/><circle cx="493.9" cy="280.8" r="0.6"/><circle cx="484.1" cy="284.0" r="0.6"/><circle cx="479.2" cy="284.8" r="0.6"/><circle cx="480.0" cy="287.1" r="0.6"/><circle cx="476.8" cy="288.7" r="0.6"/><circle cx="468.6" cy="283.2" r="0.6"/><circle cx="465.3" cy="282.4" r="0.6"/><circle cx="467.8" cy="286.3" r="0.6"/><circle cx="463.7" cy="287.1" r="0.6"/><circle cx="471.9" cy="285.6" r="0.6"/><circle cx="473.5" cy="290.3" r="0.6"/><circle cx="475.9" cy="292.7" r="0.6"/><circle cx="470.2" cy="291.9" r="0.6"/><circle cx="466.2" cy="290.3" r="0.6"/><circle cx="462.9" cy="289.5" r="0.6"/><circle cx="464.5" cy="292.7" r="0.6"/><circle cx="467.8" cy="293.5" r="0.6"/><circle cx="469.4" cy="295.9" r="0.6"/><circle cx="471.9" cy="296.6" r="0.6"/><circle cx="461.7" cy="295.1" r="0.6"/><circle cx="462.9" cy="296.6" r="0.6"/><circle cx="465.3" cy="296.6" r="0.6"/><circle cx="462.1" cy="298.2" r="0.6"/><circle cx="463.7" cy="299.0" r="0.6"/><circle cx="466.2" cy="299.8" r="0.6"/><circle cx="467.8" cy="299.0" r="0.6"/><circle cx="461.3" cy="299.8" r="0.6"/><circle cx="462.9" cy="300.6" r="0.6"/><circle cx="464.5" cy="301.4" r="0.6"/><circle cx="461.7" cy="301.7" r="0.6"/><circle cx="463.7" cy="302.4" r="0.6"/><circle cx="465.3" cy="302.0" r="0.6"/><circle cx="467.0" cy="301.1" r="0.6"/><circle cx="469.4" cy="300.6" r="0.6"/><circle cx="471.0" cy="299.0" r="0.6"/><circle cx="460.9" cy="297.0" r="0.6"/><circle cx="462.5" cy="293.5" r="0.6"/><circle cx="461.3" cy="291.1" r="0.6"/><circle cx="464.1" cy="288.7" r="0.6"/><circle cx="467.0" cy="296.6" r="0.6"/><circle cx="474.3" cy="295.9" r="0.6"/><circle cx="478.4" cy="293.5" r="0.6"/><circle cx="468.6" cy="289.5" r="0.6"/><circle cx="465.3" cy="295.1" r="0.6"/><circle cx="462.9" cy="284.0" r="0.6"/><circle cx="461.7" cy="300.8" r="0.6"/><circle cx="463.3" cy="297.9" r="0.6"/><circle cx="464.9" cy="299.5" r="0.6"/><circle cx="466.2" cy="297.6" r="0.6"/><circle cx="462.5" cy="302.5" r="0.6"/><circle cx="481.6" cy="275.3" r="0.6"/></g>
<path d="M377.3,201.3 V318.1 H512.6" stroke="#000" stroke-width="1.15" fill="none"/>
<path d="M374.2,312.5 H377.3 M374.2,280.8 H377.3 M374.2,249.1 H377.3 M374.2,217.4 H377.3 M395.2,318 V320.6 M436.0,318 V320.6 M476.8,318 V320.6" stroke="#000" stroke-width="0.7"/>
<text x="369.80" y="315.40" font-size="8.2" fill="#222" text-anchor="end" textLength="3.70" lengthAdjust="spacingAndGlyphs" >0</text>
<text x="369.80" y="283.70" font-size="8.2" fill="#222" text-anchor="end" textLength="7.20" lengthAdjust="spacingAndGlyphs" >20</text>
<text x="369.80" y="252.00" font-size="8.2" fill="#222" text-anchor="end" textLength="7.20" lengthAdjust="spacingAndGlyphs" >40</text>
<text x="369.80" y="220.30" font-size="8.2" fill="#222" text-anchor="end" textLength="7.20" lengthAdjust="spacingAndGlyphs" >60</text>
<text x="395.25" y="328.90" font-size="8.8" fill="#222" text-anchor="middle" >−5</text>
<text x="436.00" y="328.90" font-size="8.8" fill="#222" text-anchor="middle" >0</text>
<text x="476.75" y="328.90" font-size="8.8" fill="#222" text-anchor="middle" >5</text>
<text x="443.5" y="339.4" font-size="9.8" fill="#111" text-anchor="middle" textLength="54.5" lengthAdjust="spacingAndGlyphs">log<tspan font-size="6.2" dy="2">2</tspan><tspan dy="-2"> fold change</tspan></text>
<text transform="translate(357.4,274.3) rotate(-90)" font-size="9.4" fill="#111" textLength="29" lengthAdjust="spacingAndGlyphs">−log<tspan font-size="5.6" dy="1.8">10</tspan><tspan dy="-1.8" font-style="italic"> P</tspan></text>
<text x="512.50" y="346.50" font-size="5.0" fill="#222" text-anchor="end" textLength="51.50" lengthAdjust="spacingAndGlyphs" >Total = 8595 variables</text>
<path d="M481,284.7 H493" stroke="#9a9a9a" stroke-width="0.8"/>
<text x="493.90" y="286.40" font-size="4.6" fill="#222" text-anchor="start" textLength="13.60" lengthAdjust="spacingAndGlyphs" >CDX2</text>
<text x="356.60" y="364.55" font-size="11.3" fill="#000" text-anchor="start" font-weight="bold" >E</text>
<text x="363.70" y="373.90" font-size="6.6" fill="#1a1a1a" text-anchor="start" textLength="15.40" lengthAdjust="spacingAndGlyphs" >UBTF</text>
<text x="438.30" y="373.90" font-size="6.6" fill="#1a1a1a" text-anchor="start" textLength="27.80" lengthAdjust="spacingAndGlyphs" >ATXN7L3</text>
<rect x="363" y="375.6" width="62.2" height="11.3" fill="#c3e6da"/>
<rect x="370.7" y="375.6" width="5.5" height="11.3" fill="#3f9d84"/>
<rect x="379.2" y="375.6" width="5.3" height="11.3" fill="#3f9d84"/>
<rect x="387.5" y="375.6" width="5.5" height="11.3" fill="#3f9d84"/>
<rect x="396.2" y="375.6" width="5.5" height="11.3" fill="#3f9d84"/>
<rect x="403" y="375.6" width="5.2" height="11.3" fill="#3f9d84"/>
<rect x="409.5" y="375.6" width="5.5" height="11.3" fill="#3f9d84"/>
<rect x="363" y="375.6" width="62.2" height="11.3" fill="none" stroke="#3f9d84" stroke-width="0.5"/>
<rect x="437" y="375.6" width="29.7" height="11.3" fill="#f4e6f4" stroke="#c9a6cf" stroke-width="0.5"/>
<rect x="436.8" y="375.4" width="1.9" height="11.7" fill="#5e5a8c"/>
<rect x="454.2" y="375.4" width="4.6" height="11.7" fill="#3c1053"/>
<text x="363.60" y="391.50" font-size="4.0" fill="#333" text-anchor="start" >1</text>
<text x="425.20" y="391.50" font-size="4.0" fill="#333" text-anchor="end" >744</text>
<text x="438.30" y="391.50" font-size="4.0" fill="#333" text-anchor="start" >1</text>
<text x="466.80" y="391.50" font-size="4.0" fill="#333" text-anchor="end" >347</text>
<g fill="#111"><rect x="414.95" y="387.70" width="0.9" height="1.0"/><rect x="414.95" y="390.00" width="0.9" height="1.0"/><rect x="414.95" y="392.30" width="0.9" height="1.0"/><rect x="414.95" y="394.60" width="0.9" height="1.0"/><rect x="414.95" y="396.90" width="0.9" height="1.0"/><rect x="414.95" y="399.20" width="0.9" height="1.0"/><rect x="414.95" y="401.50" width="0.9" height="1.0"/><rect x="414.95" y="403.80" width="0.9" height="1.0"/><rect x="414.95" y="406.10" width="0.9" height="1.0"/><rect x="414.95" y="408.40" width="0.9" height="1.0"/><rect x="436.95" y="387.50" width="0.9" height="1.0"/><rect x="435.10" y="389.39" width="0.9" height="1.0"/><rect x="433.24" y="391.28" width="0.9" height="1.0"/><rect x="431.39" y="393.17" width="0.9" height="1.0"/><rect x="429.53" y="395.06" width="0.9" height="1.0"/><rect x="427.68" y="396.95" width="0.9" height="1.0"/><rect x="425.82" y="398.85" width="0.9" height="1.0"/><rect x="423.97" y="400.74" width="0.9" height="1.0"/><rect x="422.11" y="402.63" width="0.9" height="1.0"/><rect x="420.26" y="404.52" width="0.9" height="1.0"/><rect x="418.40" y="406.41" width="0.9" height="1.0"/><rect x="416.55" y="408.30" width="0.9" height="1.0"/></g>
<text x="360.50" y="408.20" font-size="6.6" fill="#1a1a1a" text-anchor="start" textLength="54.50" lengthAdjust="spacingAndGlyphs" >UBTF::ATXN7L3</text>
<rect x="415.7" y="410" width="28.8" height="11.6" fill="#f4e6f4" stroke="#c9a6cf" stroke-width="0.5"/>
<rect x="363" y="410" width="52.7" height="11.6" fill="#c3e6da"/>
<rect x="370.7" y="410" width="5.5" height="11.6" fill="#3f9d84"/>
<rect x="379.2" y="410" width="5.3" height="11.6" fill="#3f9d84"/>
<rect x="387.5" y="410" width="5.5" height="11.6" fill="#3f9d84"/>
<rect x="396.2" y="410" width="5.5" height="11.6" fill="#3f9d84"/>
<rect x="403" y="410" width="5.2" height="11.6" fill="#3f9d84"/>
<rect x="409.5" y="410" width="6.2" height="11.6" fill="#3f9d84"/>
<rect x="363" y="410" width="52.7" height="11.6" fill="none" stroke="#3f9d84" stroke-width="0.5"/>
<rect x="415.2" y="409.8" width="0.9" height="12" fill="#5e5a8c"/>
<rect x="432" y="409.8" width="5" height="12" fill="#3c1053"/>
<text x="363.60" y="426.40" font-size="4.0" fill="#333" text-anchor="start" >1</text>
<text x="444.80" y="426.40" font-size="4.0" fill="#333" text-anchor="end" >1002</text>
<rect x="460.2" y="411.2" width="3.6" height="3.7" fill="#3f9d84"/>
<text x="467.00" y="415.80" font-size="7.4" fill="#1a1a1a" text-anchor="start" textLength="31.80" lengthAdjust="spacingAndGlyphs" >HMG box</text>
<rect x="460.2" y="420.4" width="3.6" height="3.7" fill="#6b6796"/>
<text x="467.00" y="425.00" font-size="7.4" fill="#1a1a1a" text-anchor="start" textLength="21.50" lengthAdjust="spacingAndGlyphs" >5′ UTR</text>
<rect x="460.2" y="429.5" width="3.6" height="3.7" fill="#3c1053"/>
<text x="467.00" y="434.10" font-size="7.4" fill="#1a1a1a" text-anchor="start" textLength="45.50" lengthAdjust="spacingAndGlyphs" >SCA7 domain</text>
<text x="352.40" y="451.55" font-size="11.3" fill="#000" text-anchor="start" font-weight="bold" >F</text>
<text x="380.30" y="444.40" font-size="5.0" fill="#1a1a1a" text-anchor="start" textLength="39.40" lengthAdjust="spacingAndGlyphs" >CDX2/UBTF ALL</text>
<text x="430.20" y="444.40" font-size="5.0" fill="#1a1a1a" text-anchor="start" textLength="29.20" lengthAdjust="spacingAndGlyphs" >Other B-ALL</text>
<path d="M380,446.9 H420 M427.5,446.9 H463.5" stroke="#111" stroke-width="0.75"/>
<text x="388.70" y="484.60" font-size="4.7" fill="#1a1a1a" text-anchor="start" textLength="30.50" lengthAdjust="spacingAndGlyphs" transform="rotate(-90 388.70 484.60)" >PDX B_SL157</text>
<text x="402.90" y="484.60" font-size="4.7" fill="#1a1a1a" text-anchor="start" textLength="30.50" lengthAdjust="spacingAndGlyphs" transform="rotate(-90 402.90 484.60)" >PDX B_SL187</text>
<text x="417.40" y="484.60" font-size="4.7" fill="#1a1a1a" text-anchor="start" textLength="30.50" lengthAdjust="spacingAndGlyphs" transform="rotate(-90 417.40 484.60)" >PDX B_SL160</text>
<text x="432.50" y="484.60" font-size="4.7" fill="#1a1a1a" text-anchor="start" textLength="31.80" lengthAdjust="spacingAndGlyphs" transform="rotate(-90 432.50 484.60)" >PDX 005-0112</text>
<text x="446.70" y="484.60" font-size="4.7" fill="#1a1a1a" text-anchor="start" textLength="30.50" lengthAdjust="spacingAndGlyphs" transform="rotate(-90 446.70 484.60)" >PDX B_SL142</text>
<text x="461.10" y="484.60" font-size="4.7" fill="#1a1a1a" text-anchor="start" textLength="30.50" lengthAdjust="spacingAndGlyphs" transform="rotate(-90 461.10 484.60)" >PDX B_SL349</text>
<defs><filter id="bl" x="-10%" y="-40%" width="120%" height="180%"><feGaussianBlur stdDeviation="1.1 0.8"/></filter><filter id="bl2" x="-10%" y="-40%" width="120%" height="180%"><feGaussianBlur stdDeviation="0.8 0.55"/></filter><clipPath id="c1"><rect x="380" y="488" width="85.5" height="11.4"/></clipPath><clipPath id="c2"><rect x="380" y="501.3" width="85.5" height="11"/></clipPath><clipPath id="c3"><rect x="380" y="515.9" width="85.5" height="7.4"/></clipPath></defs>
<rect x="380" y="488" width="85.5" height="11.4" fill="#acacb1"/>
<g clip-path="url(#c1)"><g filter="url(#bl)"><rect x="378" y="486" width="45" height="15" fill="#9b9ba1" opacity="0.8"/><rect x="381" y="494.2" width="12.5" height="3.4" fill="#3e3e48" opacity="0.85"/><rect x="395.6" y="492.2" width="12.6" height="2.6" fill="#20202a" opacity="0.95"/><rect x="395.6" y="494.6" width="12.6" height="3.0" fill="#44444e" opacity="0.85"/><rect x="410.5" y="490.8" width="10.5" height="3.0" fill="#5a5a64" opacity="0.75"/><rect x="393.8" y="486" width="1" height="15" fill="#b8b8bc" opacity="0.6"/><rect x="408.7" y="486" width="1" height="15" fill="#b8b8bc" opacity="0.6"/><rect x="422.0" y="486" width="1" height="15" fill="#b8b8bc" opacity="0.6"/></g></g>
<rect x="380" y="501.3" width="85.5" height="11" fill="#a6a6ab"/>
<g clip-path="url(#c2)"><g filter="url(#bl)"><rect x="380.5" y="507.9" width="12.8" height="3.4" fill="#3c3c46" opacity="0.9"/><rect x="380.5" y="502.6" width="12.8" height="4" fill="#85858d" opacity="0.6"/><rect x="395.3" y="507.9" width="12.8" height="3.4" fill="#3c3c46" opacity="0.9"/><rect x="395.3" y="502.6" width="12.8" height="4" fill="#85858d" opacity="0.6"/><rect x="410.3" y="507.9" width="11.2" height="3.4" fill="#3c3c46" opacity="0.7"/><rect x="410.3" y="502.6" width="11.2" height="4" fill="#85858d" opacity="0.6"/><rect x="423.5" y="505.0" width="13.2" height="3.6" fill="#40404a" opacity="0.85"/><rect x="423.5" y="509.2" width="13.2" height="2.6" fill="#8a8a92" opacity="0.5"/><rect x="438.7" y="505.0" width="13.0" height="3.6" fill="#40404a" opacity="0.85"/><rect x="438.7" y="509.2" width="13.0" height="2.6" fill="#8a8a92" opacity="0.5"/><rect x="453.7" y="505.0" width="11.3" height="3.6" fill="#40404a" opacity="0.85"/><rect x="453.7" y="509.2" width="11.3" height="2.6" fill="#8a8a92" opacity="0.5"/></g></g>
<rect x="380" y="515.9" width="85.5" height="7.4" fill="#b9b9bd"/>
<g clip-path="url(#c3)"><g filter="url(#bl2)"><rect x="380.3" y="518.2" width="13.2" height="2.5" fill="#3a3a44" opacity="0.9"/><rect x="395.1" y="517.9" width="13.2" height="2.5" fill="#3a3a44" opacity="0.9"/><rect x="410.1" y="517.6" width="11.6" height="2.5" fill="#3a3a44" opacity="0.9"/><rect x="423.3" y="515.6" width="13.6" height="3.0" fill="#14141c" opacity="0.95"/><rect x="423.3" y="519.8" width="13.6" height="2.2" fill="#4a4a54" opacity="0.8"/><rect x="438.5" y="515.6" width="13.4" height="3.0" fill="#14141c" opacity="0.95"/><rect x="438.5" y="519.8" width="13.4" height="2.2" fill="#4a4a54" opacity="0.8"/><rect x="453.5" y="515.6" width="11.7" height="3.0" fill="#14141c" opacity="0.95"/><rect x="453.5" y="519.8" width="11.7" height="2.2" fill="#4a4a54" opacity="0.8"/></g></g>
<text x="347.70" y="497.20" font-size="6.4" fill="#1a1a1a" text-anchor="start" textLength="22.50" lengthAdjust="spacingAndGlyphs" >110 kDa</text>
<text x="351.20" y="509.80" font-size="6.4" fill="#1a1a1a" text-anchor="start" textLength="19.00" lengthAdjust="spacingAndGlyphs" >39 kDa</text>
<path d="M372.5,495 H378.2 M376.6,493.6 L378.6,495 L376.6,496.4 M372.5,507.6 H378.2 M376.6,506.2 L378.6,507.6 L376.6,509" stroke="#111" stroke-width="0.6" fill="none"/>
<text x="466.80" y="494.50" font-size="6.4" fill="#1a1a1a" text-anchor="start" textLength="46.50" lengthAdjust="spacingAndGlyphs" >UBTF::ATXN7L3</text>
<text x="466.80" y="508.70" font-size="6.4" fill="#1a1a1a" text-anchor="start" textLength="27.00" lengthAdjust="spacingAndGlyphs" >ATXN7L3</text>
<text x="466.80" y="521.40" font-size="6.4" fill="#1a1a1a" text-anchor="start" textLength="22.50" lengthAdjust="spacingAndGlyphs" >GAPDH</text>
</g>
<rect x="0.5" y="0.5" width="519" height="528.8" fill="none" stroke="#000" stroke-width="1.1"/>
</svg></body></html>
